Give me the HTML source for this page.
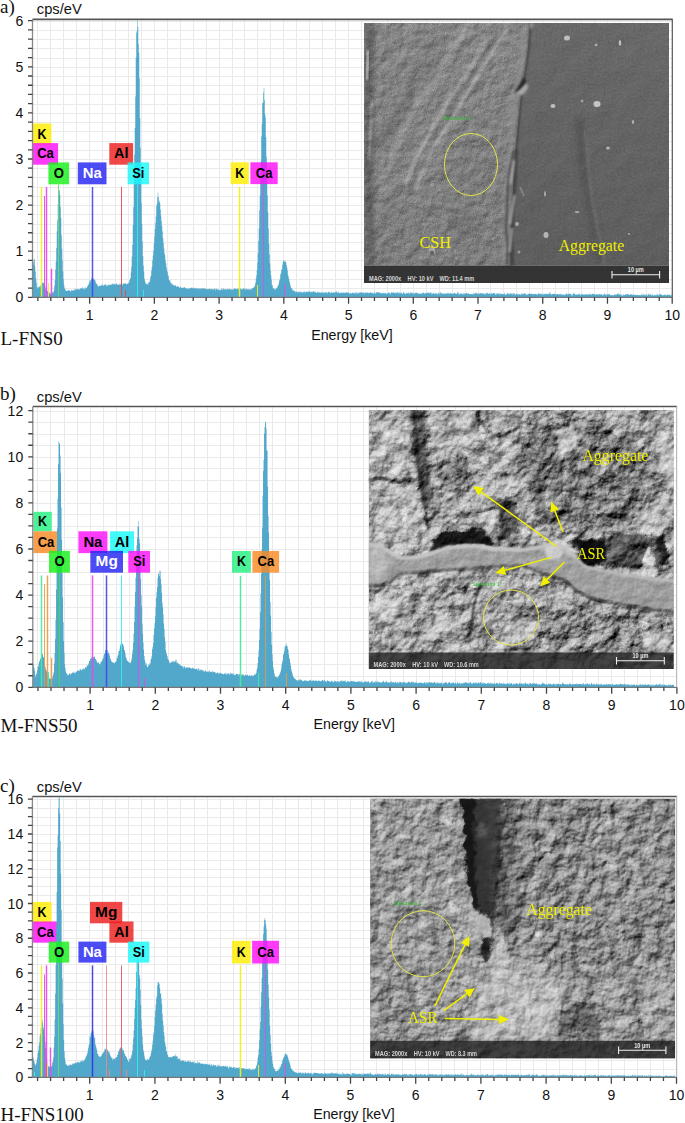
<!DOCTYPE html>
<html><head><meta charset="utf-8"><style>
html,body{margin:0;padding:0;background:#fff;}
svg{display:block;}
.t{font-family:"Liberation Sans",sans-serif;font-size:14px;fill:#111;}
.s{font-family:"Liberation Serif",serif;font-size:19px;fill:#111;}
</style></head><body>
<svg width="685" height="1123" viewBox="0 0 685 1123">
<rect width="685" height="1123" fill="#fff"/>
<path d="M37.5 19.4V297.3M50.5 19.4V297.3M63.5 19.4V297.3M76.5 19.4V297.3M89.5 19.4V297.3M102.5 19.4V297.3M115.5 19.4V297.3M128.5 19.4V297.3M141.5 19.4V297.3M154.5 19.4V297.3M167.5 19.4V297.3M180.5 19.4V297.3M193.5 19.4V297.3M206.5 19.4V297.3M219.5 19.4V297.3M232.5 19.4V297.3M244.5 19.4V297.3M257.5 19.4V297.3M270.5 19.4V297.3M283.5 19.4V297.3M296.5 19.4V297.3M309.5 19.4V297.3M322.5 19.4V297.3M335.5 19.4V297.3M348.5 19.4V297.3M361.5 19.4V297.3M374.5 19.4V297.3M387.5 19.4V297.3M400.5 19.4V297.3M413.5 19.4V297.3M426.5 19.4V297.3M439.5 19.4V297.3M452.5 19.4V297.3M465.5 19.4V297.3M478.5 19.4V297.3M490.5 19.4V297.3M503.5 19.4V297.3M516.5 19.4V297.3M529.5 19.4V297.3M542.5 19.4V297.3M555.5 19.4V297.3M568.5 19.4V297.3M581.5 19.4V297.3M594.5 19.4V297.3M607.5 19.4V297.3M620.5 19.4V297.3M633.5 19.4V297.3M646.5 19.4V297.3M659.5 19.4V297.3M32.5 288.5H672.3M32.5 279.5H672.3M32.5 270.5H672.3M32.5 260.5H672.3M32.5 251.5H672.3M32.5 242.5H672.3M32.5 233.5H672.3M32.5 224.5H672.3M32.5 214.5H672.3M32.5 205.5H672.3M32.5 196.5H672.3M32.5 187.5H672.3M32.5 177.5H672.3M32.5 168.5H672.3M32.5 159.5H672.3M32.5 150.5H672.3M32.5 141.5H672.3M32.5 131.5H672.3M32.5 122.5H672.3M32.5 113.5H672.3M32.5 104.5H672.3M32.5 94.5H672.3M32.5 85.5H672.3M32.5 76.5H672.3M32.5 67.5H672.3M32.5 58.5H672.3M32.5 48.5H672.3M32.5 39.5H672.3M32.5 30.5H672.3M32.5 21.5H672.3" stroke="#eaeaea" stroke-width="1" fill="none"/>
<rect x="32.8" y="123.5" width="18.6" height="21.5" fill="#ffed02" opacity="0.82"/><text x="42.1" y="138.7" text-anchor="middle" font-family="Liberation Sans, sans-serif" font-weight="bold" font-size="13.8" fill="#000" textLength="9.0" lengthAdjust="spacingAndGlyphs">K</text>
<rect x="32.8" y="143.1" width="25.3" height="21.6" fill="#ff10f9" opacity="0.82"/><text x="45.5" y="158.3" text-anchor="middle" font-family="Liberation Sans, sans-serif" font-weight="bold" font-size="13.8" fill="#000" textLength="16.6" lengthAdjust="spacingAndGlyphs">Ca</text>
<rect x="109.3" y="143.1" width="23.8" height="21.6" fill="#ed1f1f" opacity="0.82"/><text x="121.2" y="158.3" text-anchor="middle" font-family="Liberation Sans, sans-serif" font-weight="bold" font-size="13.8" fill="#000" textLength="14.4" lengthAdjust="spacingAndGlyphs">Al</text>
<polygon points="32.5,297.3 32.75,264.9 33.25,264.9 33.25,262.2 33.75,262.2 33.75,258.9 34.25,258.9 34.25,259.6 34.75,259.6 34.75,266.3 35.25,266.3 35.25,271.8 35.75,271.8 35.75,278.2 36.25,278.2 36.25,282.5 36.75,282.5 36.75,286.8 37.25,286.8 37.25,288.7 37.75,288.7 37.75,288.0 38.25,288.0 38.25,286.9 38.75,286.9 38.75,286.8 39.25,286.8 39.25,286.3 39.75,286.3 39.75,287.6 40.25,287.6 40.25,285.6 40.75,285.6 40.75,285.3 41.25,285.3 41.25,284.3 41.75,284.3 41.75,283.6 42.25,283.6 42.25,282.8 42.75,282.8 42.75,282.3 43.25,282.3 43.25,282.9 43.75,282.9 43.75,283.0 44.25,283.0 44.25,284.2 44.75,284.2 44.75,285.5 45.25,285.5 45.25,287.3 45.75,287.3 45.75,289.5 46.25,289.5 46.25,289.2 46.75,289.2 46.75,290.8 47.25,290.8 47.25,290.8 47.75,290.8 47.75,291.7 48.25,291.7 48.25,292.7 48.75,292.7 48.75,292.6 49.25,292.6 49.25,293.4 49.75,293.4 49.75,292.4 50.25,292.4 50.25,294.0 50.75,294.0 50.75,293.3 51.25,293.3 51.25,294.2 51.75,294.2 51.75,293.8 52.25,293.8 52.25,292.1 52.75,292.1 52.75,292.6 53.25,292.6 53.25,291.9 53.75,291.9 53.75,290.2 54.25,290.2 54.25,285.7 54.75,285.7 54.75,280.1 55.25,280.1 55.25,269.5 55.75,269.5 55.75,261.6 56.25,261.6 56.25,248.0 56.75,248.0 56.75,231.3 57.25,231.3 57.25,220.2 57.75,220.2 57.75,204.2 58.25,204.2 58.25,191.6 58.75,191.6 58.75,189.9 59.25,189.9 59.25,190.3 59.75,190.3 59.75,194.9 60.25,194.9 60.25,206.7 60.75,206.7 60.75,218.1 61.25,218.1 61.25,235.2 61.75,235.2 61.75,248.7 62.25,248.7 62.25,260.1 62.75,260.1 62.75,271.2 63.25,271.2 63.25,279.0 63.75,279.0 63.75,284.3 64.25,284.3 64.25,287.4 64.75,287.4 64.75,288.9 65.25,288.9 65.25,289.7 65.75,289.7 65.75,291.2 66.25,291.2 66.25,291.0 66.75,291.0 66.75,290.5 67.25,290.5 67.25,290.5 67.75,290.5 67.75,291.1 68.25,291.1 68.25,289.9 68.75,289.9 68.75,290.3 69.25,290.3 69.25,290.1 69.75,290.1 69.75,291.1 70.25,291.1 70.25,291.1 70.75,291.1 70.75,291.7 71.25,291.7 71.25,289.7 71.75,289.7 71.75,290.0 72.25,290.0 72.25,291.1 72.75,291.1 72.75,290.1 73.25,290.1 73.25,289.9 73.75,289.9 73.75,291.0 74.25,291.0 74.25,289.7 74.75,289.7 74.75,289.2 75.25,289.2 75.25,288.8 75.75,288.8 75.75,289.8 76.25,289.8 76.25,289.6 76.75,289.6 76.75,288.8 77.25,288.8 77.25,288.9 77.75,288.9 77.75,289.6 78.25,289.6 78.25,289.6 78.75,289.6 78.75,288.7 79.25,288.7 79.25,289.6 79.75,289.6 79.75,289.3 80.25,289.3 80.25,288.0 80.75,288.0 80.75,288.5 81.25,288.5 81.25,289.1 81.75,289.1 81.75,288.1 82.25,288.1 82.25,287.1 82.75,287.1 82.75,288.3 83.25,288.3 83.25,288.7 83.75,288.7 83.75,289.3 84.25,289.3 84.25,287.4 84.75,287.4 84.75,289.4 85.25,289.4 85.25,287.2 85.75,287.2 85.75,288.2 86.25,288.2 86.25,288.0 86.75,288.0 86.75,287.3 87.25,287.3 87.25,286.2 87.75,286.2 87.75,284.9 88.25,284.9 88.25,285.0 88.75,285.0 88.75,282.8 89.25,282.8 89.25,280.9 89.75,280.9 89.75,282.7 90.25,282.7 90.25,280.1 90.75,280.1 90.75,280.2 91.25,280.2 91.25,277.6 91.75,277.6 91.75,279.2 92.25,279.2 92.25,278.9 92.75,278.9 92.75,279.1 93.25,279.1 93.25,278.5 93.75,278.5 93.75,278.9 94.25,278.9 94.25,279.7 94.75,279.7 94.75,279.9 95.25,279.9 95.25,281.6 95.75,281.6 95.75,282.8 96.25,282.8 96.25,283.7 96.75,283.7 96.75,284.1 97.25,284.1 97.25,285.2 97.75,285.2 97.75,286.2 98.25,286.2 98.25,286.5 98.75,286.5 98.75,285.7 99.25,285.7 99.25,286.0 99.75,286.0 99.75,285.5 100.25,285.5 100.25,285.8 100.75,285.8 100.75,286.1 101.25,286.1 101.25,284.7 101.75,284.7 101.75,285.2 102.25,285.2 102.25,284.4 102.75,284.4 102.75,285.6 103.25,285.6 103.25,286.0 103.75,286.0 103.75,284.8 104.25,284.8 104.25,285.1 104.75,285.1 104.75,284.5 105.25,284.5 105.25,284.2 105.75,284.2 105.75,284.7 106.25,284.7 106.25,285.8 106.75,285.8 106.75,286.5 107.25,286.5 107.25,285.2 107.75,285.2 107.75,284.4 108.25,284.4 108.25,285.2 108.75,285.2 108.75,284.5 109.25,284.5 109.25,285.3 109.75,285.3 109.75,284.9 110.25,284.9 110.25,284.8 110.75,284.8 110.75,284.7 111.25,284.7 111.25,284.2 111.75,284.2 111.75,284.8 112.25,284.8 112.25,283.5 112.75,283.5 112.75,284.1 113.25,284.1 113.25,283.8 113.75,283.8 113.75,284.8 114.25,284.8 114.25,283.6 114.75,283.6 114.75,284.4 115.25,284.4 115.25,284.5 115.75,284.5 115.75,283.1 116.25,283.1 116.25,284.1 116.75,284.1 116.75,283.8 117.25,283.8 117.25,284.7 117.75,284.7 117.75,285.0 118.25,285.0 118.25,284.8 118.75,284.8 118.75,283.8 119.25,283.8 119.25,284.9 119.75,284.9 119.75,282.9 120.25,282.9 120.25,284.5 120.75,284.5 120.75,284.0 121.25,284.0 121.25,282.3 121.75,282.3 121.75,285.5 122.25,285.5 122.25,284.8 122.75,284.8 122.75,283.2 123.25,283.2 123.25,283.8 123.75,283.8 123.75,283.8 124.25,283.8 124.25,283.7 124.75,283.7 124.75,282.9 125.25,282.9 125.25,283.3 125.75,283.3 125.75,284.2 126.25,284.2 126.25,283.9 126.75,283.9 126.75,284.3 127.25,284.3 127.25,283.3 127.75,283.3 127.75,284.1 128.25,284.1 128.25,282.8 128.75,282.8 128.75,282.8 129.25,282.8 129.25,280.3 129.75,280.3 129.75,279.3 130.25,279.3 130.25,278.1 130.75,278.1 130.75,272.6 131.25,272.6 131.25,267.1 131.75,267.1 131.75,256.5 132.25,256.5 132.25,245.0 132.75,245.0 132.75,225.0 133.25,225.0 133.25,206.9 133.75,206.9 133.75,181.0 134.25,181.0 134.25,154.4 134.75,154.4 134.75,127.9 135.25,127.9 135.25,96.6 135.75,96.6 135.75,57.5 136.25,57.5 136.25,32.8 136.75,32.8 136.75,31.1 137.25,31.1 137.25,20.4 137.75,20.4 137.75,27.1 138.25,27.1 138.25,44.0 138.75,44.0 138.75,52.8 139.25,52.8 139.25,78.6 139.75,78.6 139.75,118.0 140.25,118.0 140.25,147.8 140.75,147.8 140.75,176.2 141.25,176.2 141.25,203.1 141.75,203.1 141.75,223.7 142.25,223.7 142.25,241.6 142.75,241.6 142.75,255.9 143.25,255.9 143.25,265.4 143.75,265.4 143.75,271.5 144.25,271.5 144.25,278.7 144.75,278.7 144.75,280.7 145.25,280.7 145.25,283.3 145.75,283.3 145.75,283.4 146.25,283.4 146.25,284.4 146.75,284.4 146.75,283.5 147.25,283.5 147.25,283.9 147.75,283.9 147.75,285.0 148.25,285.0 148.25,282.0 148.75,282.0 148.75,282.8 149.25,282.8 149.25,281.9 149.75,281.9 149.75,280.2 150.25,280.2 150.25,276.9 150.75,276.9 150.75,275.5 151.25,275.5 151.25,270.6 151.75,270.6 151.75,267.1 152.25,267.1 152.25,260.6 152.75,260.6 152.75,255.7 153.25,255.7 153.25,250.6 153.75,250.6 153.75,243.3 154.25,243.3 154.25,236.5 154.75,236.5 154.75,228.9 155.25,228.9 155.25,222.9 155.75,222.9 155.75,216.4 156.25,216.4 156.25,206.2 156.75,206.2 156.75,203.7 157.25,203.7 157.25,197.0 157.75,197.0 157.75,192.4 158.25,192.4 158.25,197.5 158.75,197.5 158.75,202.0 159.25,202.0 159.25,200.6 159.75,200.6 159.75,203.2 160.25,203.2 160.25,209.4 160.75,209.4 160.75,215.4 161.25,215.4 161.25,221.0 161.75,221.0 161.75,226.2 162.25,226.2 162.25,231.6 162.75,231.6 162.75,238.1 163.25,238.1 163.25,242.8 163.75,242.8 163.75,248.2 164.25,248.2 164.25,253.1 164.75,253.1 164.75,255.3 165.25,255.3 165.25,260.3 165.75,260.3 165.75,263.3 166.25,263.3 166.25,267.3 166.75,267.3 166.75,270.0 167.25,270.0 167.25,271.9 167.75,271.9 167.75,275.3 168.25,275.3 168.25,275.7 168.75,275.7 168.75,279.8 169.25,279.8 169.25,280.7 169.75,280.7 169.75,279.9 170.25,279.9 170.25,282.8 170.75,282.8 170.75,282.8 171.25,282.8 171.25,282.9 171.75,282.9 171.75,285.2 172.25,285.2 172.25,284.0 172.75,284.0 172.75,284.2 173.25,284.2 173.25,285.5 173.75,285.5 173.75,285.1 174.25,285.1 174.25,286.0 174.75,286.0 174.75,285.8 175.25,285.8 175.25,285.1 175.75,285.1 175.75,285.6 176.25,285.6 176.25,286.9 176.75,286.9 176.75,286.4 177.25,286.4 177.25,286.2 177.75,286.2 177.75,286.1 178.25,286.1 178.25,286.9 178.75,286.9 178.75,286.7 179.25,286.7 179.25,288.3 179.75,288.3 179.75,287.3 180.25,287.3 180.25,286.7 180.75,286.7 180.75,287.2 181.25,287.2 181.25,287.9 181.75,287.9 181.75,287.9 182.25,287.9 182.25,287.6 182.75,287.6 182.75,287.7 183.25,287.7 183.25,287.9 183.75,287.9 183.75,286.9 184.25,286.9 184.25,287.1 184.75,287.1 184.75,288.3 185.25,288.3 185.25,288.0 185.75,288.0 185.75,288.3 186.25,288.3 186.25,288.8 186.75,288.8 186.75,288.4 187.25,288.4 187.25,287.9 187.75,287.9 187.75,289.3 188.25,289.3 188.25,288.7 188.75,288.7 188.75,287.9 189.25,287.9 189.25,288.6 189.75,288.6 189.75,288.4 190.25,288.4 190.25,287.8 190.75,287.8 190.75,288.0 191.25,288.0 191.25,288.1 191.75,288.1 191.75,287.0 192.25,287.0 192.25,288.4 192.75,288.4 192.75,288.1 193.25,288.1 193.25,288.2 193.75,288.2 193.75,287.7 194.25,287.7 194.25,288.2 194.75,288.2 194.75,288.3 195.25,288.3 195.25,288.5 195.75,288.5 195.75,287.8 196.25,287.8 196.25,288.7 196.75,288.7 196.75,287.9 197.25,287.9 197.25,288.8 197.75,288.8 197.75,289.3 198.25,289.3 198.25,288.2 198.75,288.2 198.75,288.1 199.25,288.1 199.25,289.3 199.75,289.3 199.75,288.2 200.25,288.2 200.25,288.3 200.75,288.3 200.75,289.0 201.25,289.0 201.25,289.1 201.75,289.1 201.75,287.7 202.25,287.7 202.25,288.5 202.75,288.5 202.75,288.3 203.25,288.3 203.25,288.3 203.75,288.3 203.75,288.7 204.25,288.7 204.25,288.3 204.75,288.3 204.75,288.9 205.25,288.9 205.25,288.2 205.75,288.2 205.75,289.0 206.25,289.0 206.25,289.4 206.75,289.4 206.75,288.7 207.25,288.7 207.25,288.9 207.75,288.9 207.75,289.8 208.25,289.8 208.25,289.1 208.75,289.1 208.75,288.7 209.25,288.7 209.25,289.0 209.75,289.0 209.75,288.6 210.25,288.6 210.25,289.3 210.75,289.3 210.75,289.6 211.25,289.6 211.25,288.7 211.75,288.7 211.75,289.1 212.25,289.1 212.25,289.8 212.75,289.8 212.75,289.0 213.25,289.0 213.25,289.6 213.75,289.6 213.75,288.8 214.25,288.8 214.25,288.8 214.75,288.8 214.75,288.7 215.25,288.7 215.25,290.6 215.75,290.6 215.75,288.8 216.25,288.8 216.25,288.8 216.75,288.8 216.75,289.2 217.25,289.2 217.25,289.4 217.75,289.4 217.75,289.8 218.25,289.8 218.25,289.3 218.75,289.3 218.75,290.5 219.25,290.5 219.25,289.5 219.75,289.5 219.75,290.3 220.25,290.3 220.25,289.9 220.75,289.9 220.75,289.8 221.25,289.8 221.25,288.5 221.75,288.5 221.75,289.2 222.25,289.2 222.25,289.4 222.75,289.4 222.75,289.2 223.25,289.2 223.25,288.0 223.75,288.0 223.75,289.9 224.25,289.9 224.25,289.0 224.75,289.0 224.75,289.3 225.25,289.3 225.25,289.4 225.75,289.4 225.75,289.4 226.25,289.4 226.25,289.5 226.75,289.5 226.75,288.7 227.25,288.7 227.25,288.8 227.75,288.8 227.75,289.4 228.25,289.4 228.25,289.4 228.75,289.4 228.75,288.9 229.25,288.9 229.25,288.8 229.75,288.8 229.75,289.0 230.25,289.0 230.25,289.2 230.75,289.2 230.75,290.0 231.25,290.0 231.25,288.9 231.75,288.9 231.75,289.8 232.25,289.8 232.25,289.6 232.75,289.6 232.75,289.0 233.25,289.0 233.25,289.8 233.75,289.8 233.75,288.4 234.25,288.4 234.25,288.5 234.75,288.5 234.75,288.6 235.25,288.6 235.25,288.8 235.75,288.8 235.75,288.9 236.25,288.9 236.25,289.1 236.75,289.1 236.75,289.3 237.25,289.3 237.25,287.7 237.75,287.7 237.75,289.7 238.25,289.7 238.25,288.5 238.75,288.5 238.75,289.0 239.25,289.0 239.25,288.9 239.75,288.9 239.75,288.5 240.25,288.5 240.25,288.2 240.75,288.2 240.75,289.0 241.25,289.0 241.25,289.1 241.75,289.1 241.75,289.7 242.25,289.7 242.25,289.3 242.75,289.3 242.75,288.6 243.25,288.6 243.25,288.4 243.75,288.4 243.75,288.5 244.25,288.5 244.25,289.5 244.75,289.5 244.75,287.8 245.25,287.8 245.25,289.9 245.75,289.9 245.75,288.9 246.25,288.9 246.25,288.5 246.75,288.5 246.75,289.2 247.25,289.2 247.25,289.6 247.75,289.6 247.75,289.2 248.25,289.2 248.25,289.5 248.75,289.5 248.75,289.0 249.25,289.0 249.25,289.7 249.75,289.7 249.75,289.5 250.25,289.5 250.25,288.7 250.75,288.7 250.75,289.7 251.25,289.7 251.25,289.2 251.75,289.2 251.75,288.6 252.25,288.6 252.25,288.1 252.75,288.1 252.75,288.0 253.25,288.0 253.25,288.1 253.75,288.1 253.75,286.7 254.25,286.7 254.25,286.5 254.75,286.5 254.75,285.4 255.25,285.4 255.25,282.7 255.75,282.7 255.75,278.7 256.25,278.7 256.25,275.4 256.75,275.4 256.75,269.9 257.25,269.9 257.25,262.6 257.75,262.6 257.75,253.1 258.25,253.1 258.25,241.1 258.75,241.1 258.75,228.4 259.25,228.4 259.25,210.2 259.75,210.2 259.75,195.2 260.25,195.2 260.25,175.5 260.75,175.5 260.75,160.7 261.25,160.7 261.25,136.6 261.75,136.6 261.75,123.7 262.25,123.7 262.25,103.1 262.75,103.1 262.75,102.8 263.25,102.8 263.25,92.5 263.75,92.5 263.75,87.9 264.25,87.9 264.25,100.0 264.75,100.0 264.75,114.1 265.25,114.1 265.25,117.6 265.75,117.6 265.75,137.0 266.25,137.0 266.25,156.8 266.75,156.8 266.75,173.7 267.25,173.7 267.25,195.2 267.75,195.2 267.75,212.2 268.25,212.2 268.25,228.4 268.75,228.4 268.75,243.7 269.25,243.7 269.25,254.2 269.75,254.2 269.75,263.4 270.25,263.4 270.25,270.3 270.75,270.3 270.75,275.3 271.25,275.3 271.25,279.3 271.75,279.3 271.75,284.7 272.25,284.7 272.25,285.3 272.75,285.3 272.75,288.4 273.25,288.4 273.25,288.1 273.75,288.1 273.75,288.3 274.25,288.3 274.25,289.3 274.75,289.3 274.75,290.3 275.25,290.3 275.25,289.0 275.75,289.0 275.75,287.8 276.25,287.8 276.25,288.4 276.75,288.4 276.75,288.2 277.25,288.2 277.25,286.8 277.75,286.8 277.75,285.6 278.25,285.6 278.25,284.8 278.75,284.8 278.75,282.4 279.25,282.4 279.25,280.0 279.75,280.0 279.75,278.8 280.25,278.8 280.25,274.2 280.75,274.2 280.75,273.5 281.25,273.5 281.25,269.8 281.75,269.8 281.75,268.9 282.25,268.9 282.25,264.8 282.75,264.8 282.75,262.0 283.25,262.0 283.25,260.6 283.75,260.6 283.75,260.2 284.25,260.2 284.25,261.5 284.75,261.5 284.75,261.8 285.25,261.8 285.25,261.2 285.75,261.2 285.75,262.4 286.25,262.4 286.25,265.1 286.75,265.1 286.75,267.6 287.25,267.6 287.25,270.1 287.75,270.1 287.75,274.7 288.25,274.7 288.25,276.5 288.75,276.5 288.75,279.1 289.25,279.1 289.25,281.2 289.75,281.2 289.75,283.3 290.25,283.3 290.25,285.5 290.75,285.5 290.75,287.4 291.25,287.4 291.25,288.6 291.75,288.6 291.75,287.9 292.25,287.9 292.25,290.4 292.75,290.4 292.75,289.7 293.25,289.7 293.25,290.2 293.75,290.2 293.75,291.5 294.25,291.5 294.25,291.1 294.75,291.1 294.75,290.7 295.25,290.7 295.25,292.6 295.75,292.6 295.75,291.2 296.25,291.2 296.25,291.8 296.75,291.8 296.75,291.8 297.25,291.8 297.25,292.4 297.75,292.4 297.75,291.5 298.25,291.5 298.25,292.3 298.75,292.3 298.75,291.4 299.25,291.4 299.25,292.4 299.75,292.4 299.75,291.3 300.25,291.3 300.25,291.6 300.75,291.6 300.75,292.7 301.25,292.7 301.25,292.0 301.75,292.0 301.75,291.9 302.25,291.9 302.25,292.9 302.75,292.9 302.75,292.1 303.25,292.1 303.25,291.5 303.75,291.5 303.75,292.3 304.25,292.3 304.25,291.2 304.75,291.2 304.75,292.5 305.25,292.5 305.25,292.5 305.75,292.5 305.75,291.6 306.25,291.6 306.25,291.5 306.75,291.5 306.75,292.1 307.25,292.1 307.25,291.8 307.75,291.8 307.75,291.5 308.25,291.5 308.25,292.3 308.75,292.3 308.75,290.8 309.25,290.8 309.25,291.7 309.75,291.7 309.75,291.8 310.25,291.8 310.25,291.7 310.75,291.7 310.75,292.2 311.25,292.2 311.25,291.4 311.75,291.4 311.75,292.4 312.25,292.4 312.25,292.0 312.75,292.0 312.75,291.6 313.25,291.6 313.25,291.3 313.75,291.3 313.75,291.5 314.25,291.5 314.25,292.3 314.75,292.3 314.75,291.6 315.25,291.6 315.25,292.0 315.75,292.0 315.75,292.8 316.25,292.8 316.25,292.8 316.75,292.8 316.75,293.1 317.25,293.1 317.25,292.0 317.75,292.0 317.75,291.4 318.25,291.4 318.25,292.8 318.75,292.8 318.75,292.3 319.25,292.3 319.25,292.5 319.75,292.5 319.75,292.2 320.25,292.2 320.25,292.7 320.75,292.7 320.75,292.5 321.25,292.5 321.25,292.5 321.75,292.5 321.75,292.6 322.25,292.6 322.25,292.4 322.75,292.4 322.75,292.4 323.25,292.4 323.25,292.5 323.75,292.5 323.75,293.0 324.25,293.0 324.25,292.0 324.75,292.0 324.75,293.2 325.25,293.2 325.25,292.1 325.75,292.1 325.75,292.8 326.25,292.8 326.25,292.3 326.75,292.3 326.75,292.2 327.25,292.2 327.25,293.4 327.75,293.4 327.75,292.3 328.25,292.3 328.25,291.6 328.75,291.6 328.75,291.9 329.25,291.9 329.25,292.2 329.75,292.2 329.75,293.6 330.25,293.6 330.25,292.6 330.75,292.6 330.75,292.9 331.25,292.9 331.25,291.8 331.75,291.8 331.75,292.6 332.25,292.6 332.25,292.7 332.75,292.7 332.75,293.2 333.25,293.2 333.25,292.1 333.75,292.1 333.75,292.8 334.25,292.8 334.25,292.6 334.75,292.6 334.75,291.7 335.25,291.7 335.25,292.4 335.75,292.4 335.75,292.3 336.25,292.3 336.25,291.1 336.75,291.1 336.75,292.6 337.25,292.6 337.25,292.8 337.75,292.8 337.75,292.3 338.25,292.3 338.25,291.8 338.75,291.8 338.75,293.3 339.25,293.3 339.25,292.7 339.75,292.7 339.75,293.2 340.25,293.2 340.25,293.1 340.75,293.1 340.75,292.3 341.25,292.3 341.25,293.1 341.75,293.1 341.75,292.5 342.25,292.5 342.25,292.7 342.75,292.7 342.75,292.7 343.25,292.7 343.25,292.6 343.75,292.6 343.75,293.2 344.25,293.2 344.25,292.8 344.75,292.8 344.75,292.5 345.25,292.5 345.25,292.5 345.75,292.5 345.75,292.9 346.25,292.9 346.25,292.3 346.75,292.3 346.75,292.4 347.25,292.4 347.25,292.6 347.75,292.6 347.75,292.4 348.25,292.4 348.25,292.7 348.75,292.7 348.75,292.4 349.25,292.4 349.25,293.9 349.75,293.9 349.75,293.3 350.25,293.3 350.25,292.9 350.75,292.9 350.75,292.7 351.25,292.7 351.25,294.0 351.75,294.0 351.75,293.0 352.25,293.0 352.25,292.5 352.75,292.5 352.75,292.8 353.25,292.8 353.25,292.9 353.75,292.9 353.75,293.4 354.25,293.4 354.25,292.6 354.75,292.6 354.75,294.0 355.25,294.0 355.25,292.3 355.75,292.3 355.75,293.2 356.25,293.2 356.25,292.2 356.75,292.2 356.75,293.8 357.25,293.8 357.25,292.6 357.75,292.6 357.75,292.8 358.25,292.8 358.25,293.2 358.75,293.2 358.75,293.4 359.25,293.4 359.25,292.2 359.75,292.2 359.75,292.5 360.25,292.5 360.25,292.1 360.75,292.1 360.75,292.9 361.25,292.9 361.25,292.6 361.75,292.6 361.75,292.6 362.25,292.6 362.25,292.4 362.75,292.4 362.75,292.7 363.25,292.7 363.25,292.3 363.75,292.3 363.75,293.1 364.25,293.1 364.25,293.7 364.75,293.7 364.75,291.9 365.25,291.9 365.25,292.9 365.75,292.9 365.75,292.6 366.25,292.6 366.25,293.1 366.75,293.1 366.75,292.4 367.25,292.4 367.25,292.7 367.75,292.7 367.75,292.2 368.25,292.2 368.25,293.2 368.75,293.2 368.75,292.9 369.25,292.9 369.25,292.7 369.75,292.7 369.75,292.9 370.25,292.9 370.25,292.6 370.75,292.6 370.75,292.1 371.25,292.1 371.25,293.1 371.75,293.1 371.75,293.0 372.25,293.0 372.25,292.8 372.75,292.8 372.75,293.5 373.25,293.5 373.25,293.5 373.75,293.5 373.75,292.3 374.25,292.3 374.25,292.4 374.75,292.4 374.75,293.7 375.25,293.7 375.25,293.6 375.75,293.6 375.75,292.6 376.25,292.6 376.25,292.2 376.75,292.2 376.75,292.5 377.25,292.5 377.25,292.6 377.75,292.6 377.75,292.0 378.25,292.0 378.25,293.0 378.75,293.0 378.75,292.1 379.25,292.1 379.25,292.2 379.75,292.2 379.75,293.4 380.25,293.4 380.25,292.8 380.75,292.8 380.75,293.0 381.25,293.0 381.25,293.3 381.75,293.3 381.75,293.4 382.25,293.4 382.25,292.9 382.75,292.9 382.75,292.9 383.25,292.9 383.25,292.5 383.75,292.5 383.75,294.0 384.25,294.0 384.25,293.3 384.75,293.3 384.75,292.4 385.25,292.4 385.25,292.9 385.75,292.9 385.75,293.5 386.25,293.5 386.25,293.4 386.75,293.4 386.75,294.0 387.25,294.0 387.25,293.8 387.75,293.8 387.75,292.5 388.25,292.5 388.25,293.0 388.75,293.0 388.75,292.3 389.25,292.3 389.25,293.2 389.75,293.2 389.75,293.1 390.25,293.1 390.25,294.4 390.75,294.4 390.75,292.9 391.25,292.9 391.25,291.9 391.75,291.9 391.75,292.6 392.25,292.6 392.25,293.0 392.75,293.0 392.75,292.3 393.25,292.3 393.25,292.5 393.75,292.5 393.75,292.6 394.25,292.6 394.25,293.3 394.75,293.3 394.75,293.0 395.25,293.0 395.25,292.6 395.75,292.6 395.75,293.6 396.25,293.6 396.25,292.7 396.75,292.7 396.75,292.6 397.25,292.6 397.25,292.2 397.75,292.2 397.75,292.5 398.25,292.5 398.25,293.4 398.75,293.4 398.75,292.2 399.25,292.2 399.25,292.8 399.75,292.8 399.75,293.5 400.25,293.5 400.25,292.7 400.75,292.7 400.75,293.2 401.25,293.2 401.25,292.4 401.75,292.4 401.75,293.8 402.25,293.8 402.25,293.7 402.75,293.7 402.75,293.2 403.25,293.2 403.25,292.1 403.75,292.1 403.75,292.4 404.25,292.4 404.25,293.6 404.75,293.6 404.75,294.2 405.25,294.2 405.25,293.4 405.75,293.4 405.75,293.9 406.25,293.9 406.25,292.8 406.75,292.8 406.75,292.9 407.25,292.9 407.25,293.2 407.75,293.2 407.75,293.3 408.25,293.3 408.25,292.3 408.75,292.3 408.75,293.6 409.25,293.6 409.25,293.9 409.75,293.9 409.75,292.5 410.25,292.5 410.25,292.4 410.75,292.4 410.75,293.2 411.25,293.2 411.25,292.7 411.75,292.7 411.75,292.0 412.25,292.0 412.25,293.6 412.75,293.6 412.75,293.2 413.25,293.2 413.25,292.9 413.75,292.9 413.75,294.4 414.25,294.4 414.25,293.1 414.75,293.1 414.75,292.7 415.25,292.7 415.25,293.3 415.75,293.3 415.75,292.6 416.25,292.6 416.25,292.8 416.75,292.8 416.75,293.5 417.25,293.5 417.25,292.8 417.75,292.8 417.75,292.9 418.25,292.9 418.25,294.1 418.75,294.1 418.75,293.8 419.25,293.8 419.25,293.5 419.75,293.5 419.75,293.4 420.25,293.4 420.25,293.4 420.75,293.4 420.75,294.1 421.25,294.1 421.25,293.2 421.75,293.2 421.75,294.3 422.25,294.3 422.25,292.6 422.75,292.6 422.75,293.1 423.25,293.1 423.25,292.4 423.75,292.4 423.75,293.0 424.25,293.0 424.25,293.6 424.75,293.6 424.75,294.0 425.25,294.0 425.25,292.7 425.75,292.7 425.75,293.2 426.25,293.2 426.25,292.9 426.75,292.9 426.75,292.8 427.25,292.8 427.25,292.6 427.75,292.6 427.75,293.3 428.25,293.3 428.25,292.4 428.75,292.4 428.75,293.3 429.25,293.3 429.25,293.2 429.75,293.2 429.75,292.8 430.25,292.8 430.25,292.6 430.75,292.6 430.75,292.4 431.25,292.4 431.25,294.3 431.75,294.3 431.75,292.5 432.25,292.5 432.25,294.0 432.75,294.0 432.75,293.7 433.25,293.7 433.25,293.1 433.75,293.1 433.75,292.7 434.25,292.7 434.25,293.9 434.75,293.9 434.75,294.3 435.25,294.3 435.25,292.8 435.75,292.8 435.75,293.2 436.25,293.2 436.25,293.9 436.75,293.9 436.75,293.5 437.25,293.5 437.25,294.5 437.75,294.5 437.75,292.9 438.25,292.9 438.25,293.6 438.75,293.6 438.75,292.6 439.25,292.6 439.25,294.5 439.75,294.5 439.75,292.8 440.25,292.8 440.25,292.3 440.75,292.3 440.75,293.3 441.25,293.3 441.25,293.2 441.75,293.2 441.75,294.3 442.25,294.3 442.25,293.2 442.75,293.2 442.75,293.3 443.25,293.3 443.25,293.6 443.75,293.6 443.75,294.2 444.25,294.2 444.25,293.3 444.75,293.3 444.75,294.0 445.25,294.0 445.25,293.6 445.75,293.6 445.75,293.2 446.25,293.2 446.25,293.5 446.75,293.5 446.75,293.6 447.25,293.6 447.25,292.8 447.75,292.8 447.75,294.0 448.25,294.0 448.25,292.6 448.75,292.6 448.75,294.1 449.25,294.1 449.25,293.8 449.75,293.8 449.75,293.3 450.25,293.3 450.25,293.0 450.75,293.0 450.75,293.2 451.25,293.2 451.25,293.6 451.75,293.6 451.75,293.8 452.25,293.8 452.25,293.4 452.75,293.4 452.75,293.9 453.25,293.9 453.25,293.1 453.75,293.1 453.75,293.6 454.25,293.6 454.25,292.6 454.75,292.6 454.75,293.7 455.25,293.7 455.25,293.5 455.75,293.5 455.75,293.3 456.25,293.3 456.25,294.1 456.75,294.1 456.75,293.8 457.25,293.8 457.25,291.8 457.75,291.8 457.75,293.5 458.25,293.5 458.25,292.6 458.75,292.6 458.75,294.0 459.25,294.0 459.25,294.8 459.75,294.8 459.75,293.3 460.25,293.3 460.25,293.5 460.75,293.5 460.75,293.4 461.25,293.4 461.25,293.7 461.75,293.7 461.75,293.9 462.25,293.9 462.25,294.2 462.75,294.2 462.75,293.0 463.25,293.0 463.25,294.6 463.75,294.6 463.75,293.1 464.25,293.1 464.25,293.6 464.75,293.6 464.75,294.2 465.25,294.2 465.25,293.9 465.75,293.9 465.75,293.1 466.25,293.1 466.25,293.1 466.75,293.1 466.75,293.1 467.25,293.1 467.25,293.5 467.75,293.5 467.75,294.2 468.25,294.2 468.25,292.8 468.75,292.8 468.75,293.9 469.25,293.9 469.25,293.9 469.75,293.9 469.75,293.9 470.25,293.9 470.25,293.7 470.75,293.7 470.75,294.5 471.25,294.5 471.25,294.0 471.75,294.0 471.75,294.1 472.25,294.1 472.25,293.9 472.75,293.9 472.75,294.6 473.25,294.6 473.25,292.7 473.75,292.7 473.75,294.2 474.25,294.2 474.25,293.4 474.75,293.4 474.75,293.5 475.25,293.5 475.25,293.1 475.75,293.1 475.75,292.5 476.25,292.5 476.25,293.4 476.75,293.4 476.75,293.2 477.25,293.2 477.25,293.9 477.75,293.9 477.75,292.8 478.25,292.8 478.25,294.3 478.75,294.3 478.75,293.8 479.25,293.8 479.25,293.6 479.75,293.6 479.75,293.2 480.25,293.2 480.25,293.2 480.75,293.2 480.75,293.1 481.25,293.1 481.25,293.3 481.75,293.3 481.75,293.7 482.25,293.7 482.25,293.5 482.75,293.5 482.75,293.0 483.25,293.0 483.25,293.7 483.75,293.7 483.75,293.3 484.25,293.3 484.25,293.7 484.75,293.7 484.75,294.7 485.25,294.7 485.25,294.0 485.75,294.0 485.75,293.5 486.25,293.5 486.25,292.9 486.75,292.9 486.75,292.8 487.25,292.8 487.25,292.8 487.75,292.8 487.75,294.1 488.25,294.1 488.25,293.4 488.75,293.4 488.75,293.7 489.25,293.7 489.25,293.3 489.75,293.3 489.75,293.8 490.25,293.8 490.25,294.5 490.75,294.5 490.75,293.3 491.25,293.3 491.25,293.6 491.75,293.6 491.75,293.2 492.25,293.2 492.25,294.0 492.75,294.0 492.75,293.2 493.25,293.2 493.25,293.1 493.75,293.1 493.75,293.0 494.25,293.0 494.25,293.0 494.75,293.0 494.75,294.1 495.25,294.1 495.25,295.1 495.75,295.1 495.75,293.1 496.25,293.1 496.25,294.3 496.75,294.3 496.75,294.0 497.25,294.0 497.25,293.0 497.75,293.0 497.75,293.7 498.25,293.7 498.25,293.6 498.75,293.6 498.75,293.3 499.25,293.3 499.25,294.9 499.75,294.9 499.75,292.7 500.25,292.7 500.25,293.9 500.75,293.9 500.75,293.9 501.25,293.9 501.25,293.5 501.75,293.5 501.75,293.9 502.25,293.9 502.25,294.2 502.75,294.2 502.75,293.9 503.25,293.9 503.25,294.1 503.75,294.1 503.75,294.1 504.25,294.1 504.25,292.7 504.75,292.7 504.75,294.6 505.25,294.6 505.25,295.0 505.75,295.0 505.75,294.3 506.25,294.3 506.25,294.4 506.75,294.4 506.75,293.0 507.25,293.0 507.25,293.7 507.75,293.7 507.75,293.3 508.25,293.3 508.25,293.6 508.75,293.6 508.75,294.4 509.25,294.4 509.25,293.5 509.75,293.5 509.75,293.9 510.25,293.9 510.25,292.8 510.75,292.8 510.75,293.9 511.25,293.9 511.25,293.8 511.75,293.8 511.75,293.5 512.25,293.5 512.25,293.4 512.75,293.4 512.75,295.0 513.25,295.0 513.25,293.3 513.75,293.3 513.75,293.2 514.25,293.2 514.25,293.4 514.75,293.4 514.75,294.6 515.25,294.6 515.25,295.1 515.75,295.1 515.75,294.1 516.25,294.1 516.25,293.5 516.75,293.5 516.75,293.7 517.25,293.7 517.25,294.5 517.75,294.5 517.75,293.4 518.25,293.4 518.25,294.8 518.75,294.8 518.75,294.5 519.25,294.5 519.25,294.0 519.75,294.0 519.75,294.2 520.25,294.2 520.25,294.4 520.75,294.4 520.75,294.8 521.25,294.8 521.25,293.3 521.75,293.3 521.75,294.6 522.25,294.6 522.25,293.7 522.75,293.7 522.75,293.4 523.25,293.4 523.25,293.9 523.75,293.9 523.75,293.8 524.25,293.8 524.25,293.4 524.75,293.4 524.75,293.1 525.25,293.1 525.25,293.4 525.75,293.4 525.75,294.8 526.25,294.8 526.25,295.0 526.75,295.0 526.75,294.3 527.25,294.3 527.25,294.7 527.75,294.7 527.75,293.8 528.25,293.8 528.25,293.9 528.75,293.9 528.75,294.1 529.25,294.1 529.25,293.4 529.75,293.4 529.75,293.4 530.25,293.4 530.25,294.0 530.75,294.0 530.75,293.9 531.25,293.9 531.25,293.4 531.75,293.4 531.75,294.2 532.25,294.2 532.25,293.8 532.75,293.8 532.75,294.6 533.25,294.6 533.25,294.0 533.75,294.0 533.75,293.8 534.25,293.8 534.25,294.2 534.75,294.2 534.75,293.9 535.25,293.9 535.25,293.8 535.75,293.8 535.75,293.9 536.25,293.9 536.25,294.4 536.75,294.4 536.75,294.4 537.25,294.4 537.25,294.8 537.75,294.8 537.75,293.1 538.25,293.1 538.25,293.8 538.75,293.8 538.75,293.8 539.25,293.8 539.25,294.0 539.75,294.0 539.75,293.8 540.25,293.8 540.25,293.6 540.75,293.6 540.75,294.5 541.25,294.5 541.25,294.1 541.75,294.1 541.75,293.4 542.25,293.4 542.25,294.8 542.75,294.8 542.75,294.6 543.25,294.6 543.25,293.7 543.75,293.7 543.75,294.4 544.25,294.4 544.25,293.6 544.75,293.6 544.75,294.6 545.25,294.6 545.25,293.9 545.75,293.9 545.75,293.8 546.25,293.8 546.25,293.8 546.75,293.8 546.75,293.7 547.25,293.7 547.25,294.1 547.75,294.1 547.75,294.2 548.25,294.2 548.25,294.1 548.75,294.1 548.75,293.8 549.25,293.8 549.25,292.1 549.75,292.1 549.75,294.3 550.25,294.3 550.25,293.1 550.75,293.1 550.75,294.3 551.25,294.3 551.25,294.7 551.75,294.7 551.75,294.3 552.25,294.3 552.25,293.9 552.75,293.9 552.75,294.1 553.25,294.1 553.25,294.1 553.75,294.1 553.75,294.0 554.25,294.0 554.25,293.7 554.75,293.7 554.75,293.6 555.25,293.6 555.25,294.9 555.75,294.9 555.75,294.1 556.25,294.1 556.25,294.6 556.75,294.6 556.75,294.0 557.25,294.0 557.25,294.1 557.75,294.1 557.75,294.1 558.25,294.1 558.25,294.6 558.75,294.6 558.75,294.7 559.25,294.7 559.25,294.3 559.75,294.3 559.75,293.8 560.25,293.8 560.25,293.7 560.75,293.7 560.75,295.2 561.25,295.2 561.25,294.0 561.75,294.0 561.75,294.0 562.25,294.0 562.25,295.1 562.75,295.1 562.75,294.9 563.25,294.9 563.25,294.5 563.75,294.5 563.75,293.9 564.25,293.9 564.25,295.4 564.75,295.4 564.75,294.4 565.25,294.4 565.25,294.4 565.75,294.4 565.75,294.2 566.25,294.2 566.25,293.4 566.75,293.4 566.75,293.5 567.25,293.5 567.25,294.6 567.75,294.6 567.75,294.5 568.25,294.5 568.25,294.1 568.75,294.1 568.75,293.7 569.25,293.7 569.25,293.5 569.75,293.5 569.75,294.0 570.25,294.0 570.25,293.4 570.75,293.4 570.75,294.8 571.25,294.8 571.25,294.8 571.75,294.8 571.75,295.9 572.25,295.9 572.25,294.6 572.75,294.6 572.75,293.9 573.25,293.9 573.25,293.8 573.75,293.8 573.75,292.4 574.25,292.4 574.25,294.0 574.75,294.0 574.75,294.2 575.25,294.2 575.25,294.8 575.75,294.8 575.75,294.7 576.25,294.7 576.25,294.5 576.75,294.5 576.75,294.4 577.25,294.4 577.25,294.6 577.75,294.6 577.75,295.1 578.25,295.1 578.25,293.8 578.75,293.8 578.75,294.0 579.25,294.0 579.25,293.5 579.75,293.5 579.75,295.3 580.25,295.3 580.25,295.1 580.75,295.1 580.75,294.7 581.25,294.7 581.25,293.8 581.75,293.8 581.75,294.6 582.25,294.6 582.25,294.1 582.75,294.1 582.75,294.4 583.25,294.4 583.25,294.4 583.75,294.4 583.75,294.7 584.25,294.7 584.25,294.2 584.75,294.2 584.75,294.8 585.25,294.8 585.25,294.5 585.75,294.5 585.75,294.2 586.25,294.2 586.25,294.3 586.75,294.3 586.75,294.2 587.25,294.2 587.25,294.8 587.75,294.8 587.75,294.2 588.25,294.2 588.25,294.5 588.75,294.5 588.75,294.2 589.25,294.2 589.25,293.5 589.75,293.5 589.75,294.9 590.25,294.9 590.25,293.9 590.75,293.9 590.75,294.8 591.25,294.8 591.25,294.7 591.75,294.7 591.75,293.5 592.25,293.5 592.25,293.9 592.75,293.9 592.75,294.1 593.25,294.1 593.25,294.0 593.75,294.0 593.75,293.8 594.25,293.8 594.25,294.8 594.75,294.8 594.75,294.4 595.25,294.4 595.25,294.7 595.75,294.7 595.75,294.2 596.25,294.2 596.25,294.6 596.75,294.6 596.75,294.0 597.25,294.0 597.25,294.5 597.75,294.5 597.75,294.7 598.25,294.7 598.25,294.6 598.75,294.6 598.75,294.2 599.25,294.2 599.25,293.8 599.75,293.8 599.75,294.5 600.25,294.5 600.25,294.6 600.75,294.6 600.75,294.3 601.25,294.3 601.25,294.1 601.75,294.1 601.75,294.8 602.25,294.8 602.25,295.8 602.75,295.8 602.75,294.3 603.25,294.3 603.25,294.8 603.75,294.8 603.75,294.7 604.25,294.7 604.25,293.1 604.75,293.1 604.75,294.6 605.25,294.6 605.25,294.3 605.75,294.3 605.75,295.4 606.25,295.4 606.25,294.4 606.75,294.4 606.75,294.1 607.25,294.1 607.25,294.4 607.75,294.4 607.75,294.6 608.25,294.6 608.25,294.2 608.75,294.2 608.75,294.5 609.25,294.5 609.25,293.8 609.75,293.8 609.75,294.4 610.25,294.4 610.25,295.0 610.75,295.0 610.75,295.8 611.25,295.8 611.25,294.9 611.75,294.9 611.75,294.7 612.25,294.7 612.25,295.2 612.75,295.2 612.75,295.2 613.25,295.2 613.25,295.5 613.75,295.5 613.75,295.1 614.25,295.1 614.25,294.5 614.75,294.5 614.75,294.6 615.25,294.6 615.25,294.6 615.75,294.6 615.75,294.8 616.25,294.8 616.25,294.7 616.75,294.7 616.75,294.1 617.25,294.1 617.25,293.4 617.75,293.4 617.75,294.2 618.25,294.2 618.25,293.5 618.75,293.5 618.75,294.6 619.25,294.6 619.25,294.6 619.75,294.6 619.75,293.6 620.25,293.6 620.25,294.9 620.75,294.9 620.75,295.2 621.25,295.2 621.25,294.6 621.75,294.6 621.75,295.5 622.25,295.5 622.25,295.7 622.75,295.7 622.75,294.0 623.25,294.0 623.25,295.2 623.75,295.2 623.75,294.9 624.25,294.9 624.25,294.9 624.75,294.9 624.75,295.2 625.25,295.2 625.25,294.2 625.75,294.2 625.75,294.3 626.25,294.3 626.25,294.2 626.75,294.2 626.75,294.2 627.25,294.2 627.25,294.6 627.75,294.6 627.75,293.9 628.25,293.9 628.25,294.2 628.75,294.2 628.75,295.0 629.25,295.0 629.25,294.7 629.75,294.7 629.75,295.0 630.25,295.0 630.25,293.7 630.75,293.7 630.75,294.3 631.25,294.3 631.25,294.4 631.75,294.4 631.75,294.7 632.25,294.7 632.25,294.4 632.75,294.4 632.75,295.2 633.25,295.2 633.25,294.7 633.75,294.7 633.75,294.7 634.25,294.7 634.25,294.7 634.75,294.7 634.75,295.0 635.25,295.0 635.25,294.4 635.75,294.4 635.75,295.4 636.25,295.4 636.25,295.0 636.75,295.0 636.75,294.9 637.25,294.9 637.25,294.8 637.75,294.8 637.75,295.0 638.25,295.0 638.25,295.3 638.75,295.3 638.75,295.3 639.25,295.3 639.25,295.0 639.75,295.0 639.75,295.3 640.25,295.3 640.25,294.9 640.75,294.9 640.75,295.5 641.25,295.5 641.25,294.7 641.75,294.7 641.75,293.6 642.25,293.6 642.25,295.4 642.75,295.4 642.75,294.8 643.25,294.8 643.25,294.2 643.75,294.2 643.75,294.7 644.25,294.7 644.25,294.2 644.75,294.2 644.75,296.0 645.25,296.0 645.25,295.1 645.75,295.1 645.75,293.9 646.25,293.9 646.25,295.1 646.75,295.1 646.75,294.6 647.25,294.6 647.25,295.9 647.75,295.9 647.75,294.3 648.25,294.3 648.25,293.6 648.75,293.6 648.75,294.9 649.25,294.9 649.25,294.7 649.75,294.7 649.75,294.7 650.25,294.7 650.25,293.7 650.75,293.7 650.75,295.0 651.25,295.0 651.25,295.8 651.75,295.8 651.75,293.8 652.25,293.8 652.25,295.5 652.75,295.5 652.75,294.6 653.25,294.6 653.25,296.1 653.75,296.1 653.75,295.1 654.25,295.1 654.25,294.8 654.75,294.8 654.75,295.5 655.25,295.5 655.25,295.2 655.75,295.2 655.75,294.6 656.25,294.6 656.25,295.3 656.75,295.3 656.75,294.6 657.25,294.6 657.25,293.8 657.75,293.8 657.75,296.0 658.25,296.0 658.25,294.7 658.75,294.7 658.75,294.5 659.25,294.5 659.25,295.1 659.75,295.1 659.75,294.1 660.25,294.1 660.25,294.1 660.75,294.1 660.75,294.6 661.25,294.6 661.25,294.7 661.75,294.7 661.75,294.9 662.25,294.9 662.25,295.5 662.75,295.5 662.75,294.7 663.25,294.7 663.25,295.2 663.75,295.2 663.75,295.2 664.25,295.2 664.25,294.4 664.75,294.4 664.75,295.0 665.25,295.0 665.25,294.4 665.75,294.4 665.75,295.5 666.25,295.5 666.25,295.2 666.75,295.2 666.75,294.9 667.25,294.9 667.25,294.2 667.75,294.2 667.75,295.0 668.25,295.0 668.25,294.7 668.75,294.7 668.75,295.3 669.25,295.3 669.25,295.0 669.75,295.0 669.75,294.5 670.25,294.5 670.25,295.5 670.75,295.5 670.75,295.4 671.25,295.4 671.25,294.7 671.75,294.7 671.75,297.3" fill="#52a8ca"/>
<line x1="41.50" y1="187.0" x2="41.50" y2="297.3" stroke="#f0f020" stroke-width="1.5" opacity="0.9"/>
<line x1="44.50" y1="196.0" x2="44.50" y2="297.3" stroke="#ee44ee" stroke-width="1.0" opacity="0.9"/>
<line x1="46.50" y1="187.0" x2="46.50" y2="297.3" stroke="#ee44ee" stroke-width="1.5" opacity="0.9"/>
<line x1="48.50" y1="283.0" x2="48.50" y2="297.3" stroke="#f0f020" stroke-width="1.0" opacity="0.9"/>
<line x1="51.50" y1="268.7" x2="51.50" y2="297.3" stroke="#ee44ee" stroke-width="1.5" opacity="0.9"/>
<line x1="58.50" y1="184.5" x2="58.50" y2="297.3" stroke="#66dd66" stroke-width="1.0" opacity="0.9"/>
<line x1="92.50" y1="187.0" x2="92.50" y2="297.3" stroke="#4444ee" stroke-width="1.5" opacity="0.9"/>
<line x1="121.50" y1="187.0" x2="121.50" y2="297.3" stroke="#ee4444" stroke-width="1.0" opacity="0.9"/>
<line x1="125.50" y1="290.0" x2="125.50" y2="297.3" stroke="#ee4444" stroke-width="1.0" opacity="0.9"/>
<line x1="137.50" y1="184.5" x2="137.50" y2="297.3" stroke="#33eeee" stroke-width="1.0" opacity="0.9"/>
<line x1="143.50" y1="290.0" x2="143.50" y2="297.3" stroke="#33eeee" stroke-width="1.0" opacity="0.9"/>
<line x1="239.50" y1="186.8" x2="239.50" y2="297.3" stroke="#f0f020" stroke-width="1.5" opacity="0.95"/>
<line x1="257.50" y1="285.0" x2="257.50" y2="297.3" stroke="#f0f020" stroke-width="1.0" opacity="0.9"/>
<line x1="263.50" y1="184.5" x2="263.50" y2="297.3" stroke="#ee44ee" stroke-width="1.0" opacity="0.7"/>
<line x1="284.50" y1="284.0" x2="284.50" y2="297.3" stroke="#ee44ee" stroke-width="1.0" opacity="0.9"/>
<rect x="48.4" y="162.4" width="20.7" height="21.9" fill="#1af01a" opacity="0.82"/><text x="58.8" y="177.8" text-anchor="middle" font-family="Liberation Sans, sans-serif" font-weight="bold" font-size="13.8" fill="#000" textLength="10.2" lengthAdjust="spacingAndGlyphs">O</text>
<rect x="77.8" y="162.4" width="28.7" height="21.9" fill="#2525f3" opacity="0.82"/><text x="92.2" y="177.8" text-anchor="middle" font-family="Liberation Sans, sans-serif" font-weight="bold" font-size="13.8" fill="#fff" textLength="19.0" lengthAdjust="spacingAndGlyphs">Na</text>
<rect x="127.6" y="162.4" width="21.4" height="21.9" fill="#1af9f9" opacity="0.82"/><text x="138.3" y="177.8" text-anchor="middle" font-family="Liberation Sans, sans-serif" font-weight="bold" font-size="13.8" fill="#000" textLength="12.0" lengthAdjust="spacingAndGlyphs">Si</text>
<rect x="230.7" y="162.3" width="18.1" height="21.8" fill="#ffed02" opacity="0.82"/><text x="239.8" y="177.6" text-anchor="middle" font-family="Liberation Sans, sans-serif" font-weight="bold" font-size="13.8" fill="#000" textLength="9.0" lengthAdjust="spacingAndGlyphs">K</text>
<rect x="250.4" y="162.3" width="27.3" height="21.8" fill="#ff10f9" opacity="0.82"/><text x="264.1" y="177.6" text-anchor="middle" font-family="Liberation Sans, sans-serif" font-weight="bold" font-size="13.8" fill="#000" textLength="16.6" lengthAdjust="spacingAndGlyphs">Ca</text>
<defs><clipPath id="cA"><rect x="364" y="23" width="305" height="260"/></clipPath>
<clipPath id="cA1"><polygon points="364,23 529,23 528,45 526,60 523,80 520,100 518,120 516,140 514,160 513,180 512,200 511,220 510,240 510,265.5 364,265.5" fill="#000" /></clipPath>
<clipPath id="cA2"><polygon points="669,23 529,23 528,45 526,60 523,80 520,100 518,120 516,140 514,160 513,180 512,200 511,220 510,240 510,265.5 669,265.5" fill="#000" /></clipPath>
<filter id="tA1" filterUnits="userSpaceOnUse" x="264" y="-77" width="505" height="460" color-interpolation-filters="sRGB"><feTurbulence type="fractalNoise" baseFrequency="0.09" numOctaves="4" seed="3" result="t"/><feDiffuseLighting in="t" surfaceScale="1.5" diffuseConstant="1" lighting-color="#fff" result="l"><feDistantLight azimuth="235" elevation="45"/></feDiffuseLighting><feGaussianBlur in="l" stdDeviation="0.4" result="lb"/><feColorMatrix in="lb" type="matrix" values="0.45 0 0 0 0.19399999999999995  0.45 0 0 0 0.19399999999999995  0.45 0 0 0 0.19399999999999995  0 0 0 0 1" result="o1"/><feTurbulence type="fractalNoise" baseFrequency="0.9" numOctaves="2" seed="10" result="t2"/><feColorMatrix in="t2" type="matrix" values="1 0 0 0 0 1 0 0 0 0 1 0 0 0 0 0 0 0 0 1" result="g2"/><feComposite in="o1" in2="g2" operator="arithmetic" k1="0" k2="1" k3="0.22" k4="-0.11"/></filter>
<filter id="tA2" filterUnits="userSpaceOnUse" x="264" y="-77" width="505" height="460" color-interpolation-filters="sRGB"><feTurbulence type="fractalNoise" baseFrequency="0.05" numOctaves="3" seed="4" result="t"/><feDiffuseLighting in="t" surfaceScale="1.0" diffuseConstant="1" lighting-color="#fff" result="l"><feDistantLight azimuth="235" elevation="45"/></feDiffuseLighting><feGaussianBlur in="l" stdDeviation="0.4" result="lb"/><feColorMatrix in="lb" type="matrix" values="0.25 0 0 0 0.32999999999999996  0.25 0 0 0 0.32999999999999996  0.25 0 0 0 0.32999999999999996  0 0 0 0 1" result="o1"/><feTurbulence type="fractalNoise" baseFrequency="0.5" numOctaves="2" seed="11" result="t2"/><feColorMatrix in="t2" type="matrix" values="1 0 0 0 0 1 0 0 0 0 1 0 0 0 0 0 0 0 0 1" result="g2"/><feComposite in="o1" in2="g2" operator="arithmetic" k1="0" k2="1" k3="0.12" k4="-0.06"/></filter>
<linearGradient id="gA1" x1="0" y1="0" x2="0" y2="1"><stop offset="0" stop-color="#828282"/><stop offset="1" stop-color="#797979"/></linearGradient>
<linearGradient id="gA2" x1="0" y1="0" x2="0" y2="1"><stop offset="0" stop-color="#676767"/><stop offset="1" stop-color="#5c5c5c"/></linearGradient>
<filter id="bA" x="-50%" y="-50%" width="200%" height="200%"><feGaussianBlur stdDeviation="2.5"/></filter>
<filter id="bA2" x="-50%" y="-50%" width="200%" height="200%"><feGaussianBlur stdDeviation="5"/></filter>
<filter id="bA1" x="-50%" y="-50%" width="200%" height="200%"><feGaussianBlur stdDeviation="1"/></filter>
</defs>
<g clip-path="url(#cA)" style="isolation:isolate">
<g clip-path="url(#cA1)">
<rect x="364" y="23" width="305" height="260" fill="url(#gA1)"/>
<ellipse cx="446.4" cy="253.5" rx="0.5" ry="1.0" fill="#a6a6a6" opacity="0.7"/><ellipse cx="432.2" cy="223.7" rx="0.6" ry="0.7" fill="#a6a6a6" opacity="0.7"/><ellipse cx="368.4" cy="205.7" rx="0.7" ry="0.6" fill="#9c9c9c" opacity="0.7"/><ellipse cx="412.8" cy="133.0" rx="0.5" ry="0.6" fill="#6c6c6c" opacity="0.7"/><ellipse cx="396.8" cy="86.6" rx="0.9" ry="0.6" fill="#9c9c9c" opacity="0.7"/><ellipse cx="521.9" cy="256.2" rx="0.8" ry="0.7" fill="#9c9c9c" opacity="0.7"/><ellipse cx="408.6" cy="62.0" rx="1.0" ry="0.7" fill="#a6a6a6" opacity="0.7"/><ellipse cx="464.4" cy="211.3" rx="0.8" ry="1.0" fill="#a6a6a6" opacity="0.7"/><ellipse cx="370.4" cy="151.2" rx="0.7" ry="0.4" fill="#9c9c9c" opacity="0.7"/><ellipse cx="501.3" cy="166.8" rx="0.6" ry="0.9" fill="#9c9c9c" opacity="0.7"/><ellipse cx="446.0" cy="146.9" rx="0.9" ry="0.5" fill="#9c9c9c" opacity="0.7"/><ellipse cx="474.0" cy="213.9" rx="0.5" ry="0.9" fill="#6c6c6c" opacity="0.7"/><ellipse cx="394.8" cy="42.8" rx="0.9" ry="0.9" fill="#6c6c6c" opacity="0.7"/><ellipse cx="440.0" cy="89.5" rx="0.4" ry="0.8" fill="#6c6c6c" opacity="0.7"/><ellipse cx="479.9" cy="225.6" rx="0.6" ry="0.5" fill="#6c6c6c" opacity="0.7"/><ellipse cx="493.6" cy="256.7" rx="0.5" ry="0.7" fill="#9c9c9c" opacity="0.7"/><ellipse cx="508.0" cy="125.5" rx="0.8" ry="0.4" fill="#9c9c9c" opacity="0.7"/><ellipse cx="512.0" cy="223.5" rx="0.9" ry="0.8" fill="#6c6c6c" opacity="0.7"/><ellipse cx="403.5" cy="209.4" rx="0.5" ry="0.9" fill="#a6a6a6" opacity="0.7"/><ellipse cx="496.9" cy="62.9" rx="0.6" ry="0.6" fill="#a6a6a6" opacity="0.7"/><ellipse cx="475.3" cy="66.3" rx="0.6" ry="0.4" fill="#9c9c9c" opacity="0.7"/><ellipse cx="431.8" cy="48.7" rx="0.8" ry="0.6" fill="#a6a6a6" opacity="0.7"/><ellipse cx="480.8" cy="181.6" rx="0.7" ry="0.9" fill="#a6a6a6" opacity="0.7"/><ellipse cx="494.5" cy="105.9" rx="0.7" ry="0.5" fill="#9c9c9c" opacity="0.7"/><ellipse cx="524.4" cy="82.0" rx="0.6" ry="0.4" fill="#6c6c6c" opacity="0.7"/><ellipse cx="486.9" cy="192.2" rx="0.5" ry="0.6" fill="#a6a6a6" opacity="0.7"/><ellipse cx="431.8" cy="184.3" rx="0.7" ry="0.8" fill="#9c9c9c" opacity="0.7"/><ellipse cx="481.0" cy="111.5" rx="0.7" ry="0.6" fill="#6c6c6c" opacity="0.7"/><ellipse cx="381.7" cy="72.3" rx="0.6" ry="0.6" fill="#6c6c6c" opacity="0.7"/><ellipse cx="456.8" cy="258.6" rx="0.9" ry="0.9" fill="#a6a6a6" opacity="0.7"/><ellipse cx="486.2" cy="167.8" rx="1.0" ry="0.8" fill="#9c9c9c" opacity="0.7"/><ellipse cx="376.4" cy="141.4" rx="0.5" ry="0.5" fill="#9c9c9c" opacity="0.7"/><ellipse cx="445.5" cy="213.4" rx="0.6" ry="0.9" fill="#6c6c6c" opacity="0.7"/><ellipse cx="388.0" cy="257.0" rx="0.6" ry="0.6" fill="#9c9c9c" opacity="0.7"/><ellipse cx="500.4" cy="53.2" rx="0.8" ry="0.5" fill="#6c6c6c" opacity="0.7"/><ellipse cx="401.3" cy="227.0" rx="0.6" ry="1.0" fill="#9c9c9c" opacity="0.7"/><ellipse cx="464.7" cy="191.2" rx="0.7" ry="0.6" fill="#a6a6a6" opacity="0.7"/><ellipse cx="515.5" cy="71.8" rx="1.0" ry="0.9" fill="#9c9c9c" opacity="0.7"/><ellipse cx="421.9" cy="178.6" rx="0.6" ry="0.6" fill="#6c6c6c" opacity="0.7"/><ellipse cx="366.7" cy="142.7" rx="1.0" ry="0.6" fill="#9c9c9c" opacity="0.7"/><ellipse cx="484.5" cy="130.4" rx="0.5" ry="0.9" fill="#9c9c9c" opacity="0.7"/><ellipse cx="412.9" cy="265.3" rx="0.6" ry="0.9" fill="#a6a6a6" opacity="0.7"/><ellipse cx="461.5" cy="218.5" rx="0.8" ry="0.6" fill="#6c6c6c" opacity="0.7"/><ellipse cx="368.3" cy="131.4" rx="0.6" ry="0.7" fill="#6c6c6c" opacity="0.7"/><ellipse cx="384.5" cy="77.0" rx="0.7" ry="0.6" fill="#6c6c6c" opacity="0.7"/><ellipse cx="461.4" cy="231.9" rx="0.8" ry="0.8" fill="#6c6c6c" opacity="0.7"/><ellipse cx="410.3" cy="212.8" rx="0.6" ry="0.4" fill="#6c6c6c" opacity="0.7"/><ellipse cx="450.9" cy="210.7" rx="0.7" ry="0.8" fill="#6c6c6c" opacity="0.7"/><ellipse cx="369.5" cy="68.3" rx="0.8" ry="0.7" fill="#9c9c9c" opacity="0.7"/><ellipse cx="517.3" cy="60.4" rx="0.7" ry="0.5" fill="#a6a6a6" opacity="0.7"/><ellipse cx="479.5" cy="90.0" rx="0.5" ry="0.4" fill="#9c9c9c" opacity="0.7"/><ellipse cx="394.9" cy="153.2" rx="0.7" ry="1.0" fill="#a6a6a6" opacity="0.7"/><ellipse cx="517.6" cy="216.2" rx="0.8" ry="0.9" fill="#9c9c9c" opacity="0.7"/><ellipse cx="367.6" cy="51.6" rx="0.6" ry="0.5" fill="#6c6c6c" opacity="0.7"/><ellipse cx="460.5" cy="86.1" rx="0.6" ry="0.6" fill="#9c9c9c" opacity="0.7"/><ellipse cx="483.3" cy="180.8" rx="0.8" ry="0.4" fill="#a6a6a6" opacity="0.7"/><ellipse cx="433.1" cy="189.2" rx="0.5" ry="0.6" fill="#a6a6a6" opacity="0.7"/><ellipse cx="377.2" cy="75.5" rx="0.6" ry="0.7" fill="#a6a6a6" opacity="0.7"/><ellipse cx="506.4" cy="99.8" rx="0.4" ry="0.9" fill="#6c6c6c" opacity="0.7"/><ellipse cx="379.0" cy="256.6" rx="0.9" ry="0.6" fill="#a6a6a6" opacity="0.7"/><ellipse cx="385.3" cy="116.8" rx="0.6" ry="0.9" fill="#9c9c9c" opacity="0.7"/><ellipse cx="377.2" cy="247.8" rx="0.8" ry="0.5" fill="#9c9c9c" opacity="0.7"/><ellipse cx="382.2" cy="136.0" rx="0.5" ry="0.8" fill="#9c9c9c" opacity="0.7"/><ellipse cx="369.2" cy="218.8" rx="0.9" ry="0.9" fill="#9c9c9c" opacity="0.7"/><ellipse cx="471.9" cy="191.0" rx="0.5" ry="0.4" fill="#9c9c9c" opacity="0.7"/><ellipse cx="519.3" cy="179.6" rx="1.0" ry="0.6" fill="#a6a6a6" opacity="0.7"/><ellipse cx="485.6" cy="38.9" rx="0.5" ry="0.6" fill="#9c9c9c" opacity="0.7"/><ellipse cx="453.7" cy="144.0" rx="0.7" ry="0.7" fill="#9c9c9c" opacity="0.7"/><ellipse cx="519.6" cy="134.1" rx="0.9" ry="0.4" fill="#9c9c9c" opacity="0.7"/><ellipse cx="454.2" cy="173.4" rx="0.6" ry="0.6" fill="#9c9c9c" opacity="0.7"/><ellipse cx="516.5" cy="180.3" rx="0.8" ry="0.4" fill="#a6a6a6" opacity="0.7"/><ellipse cx="398.0" cy="56.4" rx="1.0" ry="0.4" fill="#a6a6a6" opacity="0.7"/><ellipse cx="422.9" cy="37.2" rx="0.8" ry="0.4" fill="#9c9c9c" opacity="0.7"/><ellipse cx="376.9" cy="88.9" rx="0.7" ry="0.9" fill="#a6a6a6" opacity="0.7"/><ellipse cx="407.0" cy="91.7" rx="0.9" ry="0.8" fill="#6c6c6c" opacity="0.7"/><ellipse cx="493.8" cy="224.6" rx="0.5" ry="0.8" fill="#a6a6a6" opacity="0.7"/><ellipse cx="395.7" cy="82.0" rx="0.7" ry="0.7" fill="#a6a6a6" opacity="0.7"/><ellipse cx="451.1" cy="74.7" rx="0.9" ry="0.6" fill="#9c9c9c" opacity="0.7"/><ellipse cx="510.9" cy="147.9" rx="0.6" ry="0.5" fill="#9c9c9c" opacity="0.7"/><ellipse cx="424.6" cy="174.1" rx="0.7" ry="0.4" fill="#9c9c9c" opacity="0.7"/><ellipse cx="498.1" cy="35.5" rx="0.9" ry="0.9" fill="#a6a6a6" opacity="0.7"/><ellipse cx="471.0" cy="62.0" rx="0.7" ry="0.7" fill="#6c6c6c" opacity="0.7"/><ellipse cx="465.8" cy="115.4" rx="0.8" ry="0.5" fill="#a6a6a6" opacity="0.7"/><ellipse cx="451.5" cy="126.7" rx="0.5" ry="1.0" fill="#9c9c9c" opacity="0.7"/><ellipse cx="475.3" cy="225.0" rx="0.6" ry="1.0" fill="#9c9c9c" opacity="0.7"/><ellipse cx="521.7" cy="70.9" rx="0.7" ry="0.6" fill="#6c6c6c" opacity="0.7"/><ellipse cx="462.8" cy="83.7" rx="0.5" ry="0.7" fill="#a6a6a6" opacity="0.7"/><ellipse cx="425.8" cy="262.5" rx="0.6" ry="0.6" fill="#9c9c9c" opacity="0.7"/><ellipse cx="495.0" cy="136.2" rx="0.6" ry="0.6" fill="#a6a6a6" opacity="0.7"/><ellipse cx="518.8" cy="179.7" rx="0.6" ry="0.8" fill="#6c6c6c" opacity="0.7"/><ellipse cx="398.9" cy="101.1" rx="0.7" ry="0.6" fill="#a6a6a6" opacity="0.7"/><ellipse cx="520.8" cy="64.3" rx="0.8" ry="0.4" fill="#9c9c9c" opacity="0.7"/><ellipse cx="378.8" cy="73.9" rx="1.0" ry="0.8" fill="#9c9c9c" opacity="0.7"/><ellipse cx="372.0" cy="188.2" rx="0.7" ry="0.6" fill="#6c6c6c" opacity="0.7"/><ellipse cx="478.0" cy="97.8" rx="0.7" ry="0.6" fill="#6c6c6c" opacity="0.7"/><ellipse cx="449.9" cy="61.3" rx="0.6" ry="0.7" fill="#9c9c9c" opacity="0.7"/><ellipse cx="440.1" cy="217.0" rx="0.8" ry="0.7" fill="#6c6c6c" opacity="0.7"/><ellipse cx="395.8" cy="48.2" rx="0.6" ry="0.5" fill="#6c6c6c" opacity="0.7"/><ellipse cx="453.5" cy="162.1" rx="0.5" ry="0.8" fill="#a6a6a6" opacity="0.7"/><ellipse cx="432.1" cy="245.5" rx="0.9" ry="0.5" fill="#9c9c9c" opacity="0.7"/><ellipse cx="390.8" cy="245.0" rx="0.5" ry="0.9" fill="#9c9c9c" opacity="0.7"/><ellipse cx="422.2" cy="157.3" rx="1.0" ry="0.4" fill="#a6a6a6" opacity="0.7"/><ellipse cx="390.1" cy="197.7" rx="0.6" ry="0.6" fill="#a6a6a6" opacity="0.7"/><ellipse cx="406.5" cy="196.2" rx="1.0" ry="0.9" fill="#6c6c6c" opacity="0.7"/><ellipse cx="478.2" cy="198.4" rx="0.9" ry="0.6" fill="#9c9c9c" opacity="0.7"/><ellipse cx="493.3" cy="238.4" rx="0.9" ry="0.9" fill="#9c9c9c" opacity="0.7"/><ellipse cx="379.7" cy="114.3" rx="0.7" ry="0.9" fill="#6c6c6c" opacity="0.7"/><ellipse cx="406.7" cy="27.8" rx="0.6" ry="0.9" fill="#9c9c9c" opacity="0.7"/><ellipse cx="367.2" cy="63.0" rx="0.6" ry="0.7" fill="#6c6c6c" opacity="0.7"/><ellipse cx="506.1" cy="73.3" rx="0.7" ry="0.9" fill="#9c9c9c" opacity="0.7"/><ellipse cx="513.7" cy="234.8" rx="0.5" ry="0.9" fill="#6c6c6c" opacity="0.7"/><ellipse cx="431.9" cy="29.2" rx="0.5" ry="0.8" fill="#6c6c6c" opacity="0.7"/><ellipse cx="377.5" cy="98.8" rx="0.6" ry="0.8" fill="#9c9c9c" opacity="0.7"/><ellipse cx="378.0" cy="112.8" rx="0.6" ry="0.8" fill="#9c9c9c" opacity="0.7"/><ellipse cx="415.5" cy="191.2" rx="0.7" ry="0.9" fill="#6c6c6c" opacity="0.7"/><ellipse cx="429.7" cy="140.6" rx="0.7" ry="0.9" fill="#6c6c6c" opacity="0.7"/><ellipse cx="386.2" cy="125.9" rx="0.7" ry="0.7" fill="#a6a6a6" opacity="0.7"/><ellipse cx="444.3" cy="123.3" rx="0.8" ry="0.6" fill="#9c9c9c" opacity="0.7"/><ellipse cx="461.7" cy="199.7" rx="0.5" ry="0.6" fill="#6c6c6c" opacity="0.7"/><ellipse cx="519.5" cy="263.7" rx="0.4" ry="0.9" fill="#6c6c6c" opacity="0.7"/><ellipse cx="514.6" cy="241.7" rx="0.8" ry="0.8" fill="#6c6c6c" opacity="0.7"/><ellipse cx="456.6" cy="214.2" rx="0.7" ry="0.5" fill="#6c6c6c" opacity="0.7"/><ellipse cx="379.2" cy="243.3" rx="0.9" ry="0.5" fill="#9c9c9c" opacity="0.7"/><ellipse cx="412.4" cy="177.1" rx="0.6" ry="0.5" fill="#6c6c6c" opacity="0.7"/><ellipse cx="392.3" cy="40.2" rx="0.4" ry="0.4" fill="#a6a6a6" opacity="0.7"/><ellipse cx="498.3" cy="148.6" rx="0.5" ry="0.7" fill="#a6a6a6" opacity="0.7"/><ellipse cx="451.4" cy="143.4" rx="0.5" ry="0.7" fill="#9c9c9c" opacity="0.7"/><ellipse cx="425.8" cy="145.2" rx="1.0" ry="0.5" fill="#6c6c6c" opacity="0.7"/><ellipse cx="480.8" cy="140.3" rx="0.9" ry="0.6" fill="#9c9c9c" opacity="0.7"/><ellipse cx="423.3" cy="233.0" rx="0.9" ry="0.8" fill="#9c9c9c" opacity="0.7"/><ellipse cx="521.9" cy="200.5" rx="0.9" ry="0.9" fill="#9c9c9c" opacity="0.7"/><ellipse cx="522.9" cy="117.7" rx="0.7" ry="0.5" fill="#a6a6a6" opacity="0.7"/><ellipse cx="496.3" cy="104.7" rx="0.8" ry="0.5" fill="#a6a6a6" opacity="0.7"/><ellipse cx="425.9" cy="80.4" rx="0.4" ry="0.9" fill="#9c9c9c" opacity="0.7"/><ellipse cx="517.0" cy="77.9" rx="0.5" ry="0.6" fill="#a6a6a6" opacity="0.7"/><ellipse cx="468.6" cy="112.4" rx="0.7" ry="0.9" fill="#a6a6a6" opacity="0.7"/><ellipse cx="502.7" cy="246.5" rx="1.0" ry="0.8" fill="#9c9c9c" opacity="0.7"/><ellipse cx="370.1" cy="47.8" rx="0.7" ry="0.9" fill="#9c9c9c" opacity="0.7"/><ellipse cx="433.7" cy="23.9" rx="0.5" ry="0.9" fill="#6c6c6c" opacity="0.7"/><ellipse cx="396.1" cy="92.2" rx="0.8" ry="0.9" fill="#a6a6a6" opacity="0.7"/><ellipse cx="399.2" cy="168.4" rx="0.7" ry="0.7" fill="#a6a6a6" opacity="0.7"/><ellipse cx="495.1" cy="75.7" rx="0.7" ry="0.5" fill="#9c9c9c" opacity="0.7"/><ellipse cx="446.6" cy="214.8" rx="1.0" ry="0.7" fill="#6c6c6c" opacity="0.7"/><ellipse cx="457.3" cy="113.1" rx="0.5" ry="0.7" fill="#a6a6a6" opacity="0.7"/><ellipse cx="492.7" cy="239.1" rx="1.0" ry="0.6" fill="#a6a6a6" opacity="0.7"/><ellipse cx="381.8" cy="128.8" rx="0.9" ry="0.5" fill="#a6a6a6" opacity="0.7"/><ellipse cx="500.8" cy="195.6" rx="0.5" ry="0.8" fill="#6c6c6c" opacity="0.7"/><ellipse cx="514.2" cy="62.3" rx="0.9" ry="0.9" fill="#6c6c6c" opacity="0.7"/><ellipse cx="403.2" cy="94.4" rx="1.0" ry="0.6" fill="#9c9c9c" opacity="0.7"/><ellipse cx="479.9" cy="55.2" rx="0.7" ry="0.6" fill="#a6a6a6" opacity="0.7"/><ellipse cx="451.6" cy="169.3" rx="0.8" ry="0.7" fill="#9c9c9c" opacity="0.7"/><ellipse cx="498.5" cy="249.3" rx="0.7" ry="0.8" fill="#6c6c6c" opacity="0.7"/><ellipse cx="433.3" cy="90.6" rx="0.8" ry="1.0" fill="#9c9c9c" opacity="0.7"/><ellipse cx="409.9" cy="78.3" rx="0.9" ry="0.8" fill="#6c6c6c" opacity="0.7"/><ellipse cx="503.0" cy="58.5" rx="0.9" ry="0.7" fill="#a6a6a6" opacity="0.7"/><ellipse cx="419.3" cy="263.9" rx="1.0" ry="0.5" fill="#a6a6a6" opacity="0.7"/><ellipse cx="414.7" cy="197.5" rx="0.4" ry="0.4" fill="#a6a6a6" opacity="0.7"/><ellipse cx="503.8" cy="103.9" rx="0.6" ry="0.9" fill="#a6a6a6" opacity="0.7"/><ellipse cx="415.3" cy="202.1" rx="0.6" ry="0.6" fill="#a6a6a6" opacity="0.7"/><ellipse cx="391.1" cy="41.2" rx="0.9" ry="0.9" fill="#9c9c9c" opacity="0.7"/><ellipse cx="438.2" cy="189.9" rx="0.9" ry="0.6" fill="#9c9c9c" opacity="0.7"/><ellipse cx="485.5" cy="41.9" rx="0.5" ry="0.9" fill="#6c6c6c" opacity="0.7"/><ellipse cx="477.6" cy="67.9" rx="0.9" ry="0.9" fill="#9c9c9c" opacity="0.7"/><ellipse cx="418.8" cy="49.8" rx="0.7" ry="0.5" fill="#a6a6a6" opacity="0.7"/><ellipse cx="451.5" cy="174.5" rx="0.7" ry="0.4" fill="#6c6c6c" opacity="0.7"/><ellipse cx="485.1" cy="57.4" rx="0.8" ry="0.9" fill="#9c9c9c" opacity="0.7"/><ellipse cx="395.2" cy="244.5" rx="1.0" ry="0.8" fill="#9c9c9c" opacity="0.7"/><ellipse cx="407.8" cy="184.3" rx="1.0" ry="0.4" fill="#6c6c6c" opacity="0.7"/><ellipse cx="496.2" cy="80.5" rx="0.9" ry="0.8" fill="#9c9c9c" opacity="0.7"/><ellipse cx="428.6" cy="132.2" rx="1.0" ry="0.4" fill="#6c6c6c" opacity="0.7"/><ellipse cx="389.1" cy="258.9" rx="0.9" ry="0.5" fill="#a6a6a6" opacity="0.7"/><ellipse cx="406.7" cy="239.3" rx="0.9" ry="0.4" fill="#6c6c6c" opacity="0.7"/><ellipse cx="365.6" cy="102.3" rx="1.0" ry="0.9" fill="#6c6c6c" opacity="0.7"/><ellipse cx="502.1" cy="97.6" rx="0.6" ry="0.5" fill="#9c9c9c" opacity="0.7"/><ellipse cx="518.5" cy="217.9" rx="0.7" ry="0.6" fill="#6c6c6c" opacity="0.7"/><ellipse cx="427.9" cy="74.1" rx="0.7" ry="0.8" fill="#6c6c6c" opacity="0.7"/><ellipse cx="488.1" cy="49.4" rx="1.0" ry="0.8" fill="#a6a6a6" opacity="0.7"/><ellipse cx="498.8" cy="258.7" rx="0.9" ry="0.4" fill="#a6a6a6" opacity="0.7"/><ellipse cx="440.2" cy="165.9" rx="0.9" ry="0.7" fill="#a6a6a6" opacity="0.7"/><ellipse cx="514.3" cy="253.8" rx="0.7" ry="0.4" fill="#a6a6a6" opacity="0.7"/><ellipse cx="499.1" cy="202.9" rx="1.0" ry="0.4" fill="#a6a6a6" opacity="0.7"/><ellipse cx="409.7" cy="49.1" rx="0.8" ry="0.6" fill="#9c9c9c" opacity="0.7"/><ellipse cx="370.3" cy="55.4" rx="0.9" ry="0.8" fill="#a6a6a6" opacity="0.7"/><ellipse cx="476.1" cy="54.6" rx="0.8" ry="0.8" fill="#a6a6a6" opacity="0.7"/><ellipse cx="364.9" cy="147.0" rx="0.8" ry="0.9" fill="#9c9c9c" opacity="0.7"/><ellipse cx="506.5" cy="206.4" rx="1.0" ry="0.6" fill="#6c6c6c" opacity="0.7"/><ellipse cx="369.5" cy="66.9" rx="0.6" ry="0.4" fill="#a6a6a6" opacity="0.7"/><ellipse cx="447.5" cy="84.2" rx="0.6" ry="0.8" fill="#a6a6a6" opacity="0.7"/><ellipse cx="501.6" cy="232.0" rx="0.6" ry="0.8" fill="#9c9c9c" opacity="0.7"/><ellipse cx="388.3" cy="71.6" rx="0.8" ry="0.6" fill="#6c6c6c" opacity="0.7"/><ellipse cx="395.0" cy="112.1" rx="0.4" ry="0.7" fill="#6c6c6c" opacity="0.7"/><ellipse cx="403.4" cy="75.8" rx="0.6" ry="0.5" fill="#a6a6a6" opacity="0.7"/><ellipse cx="439.9" cy="189.8" rx="0.6" ry="1.0" fill="#a6a6a6" opacity="0.7"/><ellipse cx="413.3" cy="32.4" rx="0.9" ry="0.5" fill="#6c6c6c" opacity="0.7"/><ellipse cx="417.5" cy="163.5" rx="1.0" ry="0.6" fill="#6c6c6c" opacity="0.7"/><ellipse cx="465.0" cy="188.7" rx="0.5" ry="0.8" fill="#9c9c9c" opacity="0.7"/><ellipse cx="451.6" cy="182.7" rx="0.5" ry="0.5" fill="#6c6c6c" opacity="0.7"/><ellipse cx="496.2" cy="223.7" rx="1.0" ry="1.0" fill="#6c6c6c" opacity="0.7"/><ellipse cx="427.4" cy="205.9" rx="0.8" ry="0.7" fill="#6c6c6c" opacity="0.7"/><ellipse cx="415.4" cy="232.1" rx="0.6" ry="0.5" fill="#6c6c6c" opacity="0.7"/><ellipse cx="365.8" cy="178.0" rx="0.5" ry="1.0" fill="#a6a6a6" opacity="0.7"/><ellipse cx="414.9" cy="261.7" rx="0.7" ry="1.0" fill="#a6a6a6" opacity="0.7"/><ellipse cx="489.8" cy="51.8" rx="0.5" ry="0.6" fill="#a6a6a6" opacity="0.7"/><ellipse cx="417.8" cy="135.3" rx="0.7" ry="0.6" fill="#6c6c6c" opacity="0.7"/><ellipse cx="490.6" cy="36.3" rx="0.5" ry="0.9" fill="#a6a6a6" opacity="0.7"/><ellipse cx="446.4" cy="112.6" rx="0.5" ry="0.7" fill="#9c9c9c" opacity="0.7"/><ellipse cx="522.9" cy="167.3" rx="0.7" ry="1.0" fill="#6c6c6c" opacity="0.7"/><ellipse cx="524.9" cy="254.3" rx="0.8" ry="0.6" fill="#6c6c6c" opacity="0.7"/><ellipse cx="465.1" cy="107.4" rx="0.9" ry="0.5" fill="#a6a6a6" opacity="0.7"/><ellipse cx="499.4" cy="133.2" rx="0.8" ry="0.5" fill="#9c9c9c" opacity="0.7"/><ellipse cx="409.9" cy="254.5" rx="0.8" ry="0.6" fill="#6c6c6c" opacity="0.7"/><ellipse cx="488.8" cy="214.0" rx="0.9" ry="0.6" fill="#9c9c9c" opacity="0.7"/><ellipse cx="402.4" cy="177.8" rx="0.7" ry="0.7" fill="#6c6c6c" opacity="0.7"/><ellipse cx="415.3" cy="205.4" rx="0.6" ry="0.9" fill="#a6a6a6" opacity="0.7"/><ellipse cx="371.5" cy="253.6" rx="0.5" ry="0.7" fill="#a6a6a6" opacity="0.7"/><ellipse cx="404.8" cy="78.1" rx="1.0" ry="0.9" fill="#6c6c6c" opacity="0.7"/><ellipse cx="449.7" cy="37.8" rx="0.8" ry="0.6" fill="#a6a6a6" opacity="0.7"/><ellipse cx="514.1" cy="173.2" rx="0.7" ry="0.4" fill="#a6a6a6" opacity="0.7"/><ellipse cx="423.8" cy="232.5" rx="0.6" ry="0.6" fill="#9c9c9c" opacity="0.7"/><ellipse cx="404.6" cy="158.1" rx="0.9" ry="0.6" fill="#9c9c9c" opacity="0.7"/><ellipse cx="440.1" cy="162.7" rx="0.6" ry="0.5" fill="#9c9c9c" opacity="0.7"/><ellipse cx="455.0" cy="250.3" rx="0.4" ry="0.9" fill="#a6a6a6" opacity="0.7"/><ellipse cx="519.0" cy="154.5" rx="1.0" ry="0.8" fill="#9c9c9c" opacity="0.7"/><ellipse cx="438.7" cy="136.1" rx="0.8" ry="0.5" fill="#9c9c9c" opacity="0.7"/><ellipse cx="479.2" cy="142.1" rx="0.8" ry="1.0" fill="#9c9c9c" opacity="0.7"/><ellipse cx="428.9" cy="89.7" rx="0.4" ry="0.8" fill="#a6a6a6" opacity="0.7"/><ellipse cx="465.2" cy="265.4" rx="0.8" ry="0.6" fill="#a6a6a6" opacity="0.7"/><ellipse cx="366.5" cy="96.4" rx="0.9" ry="0.5" fill="#6c6c6c" opacity="0.7"/><ellipse cx="422.2" cy="228.9" rx="0.6" ry="0.5" fill="#9c9c9c" opacity="0.7"/><ellipse cx="376.5" cy="230.7" rx="0.6" ry="0.5" fill="#6c6c6c" opacity="0.7"/><ellipse cx="442.5" cy="140.2" rx="1.0" ry="0.9" fill="#a6a6a6" opacity="0.7"/><ellipse cx="454.1" cy="100.2" rx="1.0" ry="0.6" fill="#9c9c9c" opacity="0.7"/><ellipse cx="506.6" cy="182.1" rx="0.9" ry="0.6" fill="#9c9c9c" opacity="0.7"/><ellipse cx="423.5" cy="223.6" rx="1.0" ry="0.9" fill="#9c9c9c" opacity="0.7"/><ellipse cx="436.7" cy="224.1" rx="0.8" ry="0.7" fill="#a6a6a6" opacity="0.7"/><ellipse cx="402.3" cy="193.7" rx="0.5" ry="0.7" fill="#a6a6a6" opacity="0.7"/><ellipse cx="493.5" cy="181.6" rx="0.8" ry="0.6" fill="#6c6c6c" opacity="0.7"/><ellipse cx="369.5" cy="34.2" rx="0.5" ry="0.7" fill="#a6a6a6" opacity="0.7"/><ellipse cx="432.2" cy="72.5" rx="0.6" ry="0.7" fill="#6c6c6c" opacity="0.7"/><ellipse cx="469.6" cy="32.9" rx="0.7" ry="0.5" fill="#6c6c6c" opacity="0.7"/><ellipse cx="501.6" cy="237.6" rx="0.7" ry="0.8" fill="#a6a6a6" opacity="0.7"/><ellipse cx="495.5" cy="90.6" rx="0.5" ry="0.8" fill="#6c6c6c" opacity="0.7"/><ellipse cx="518.4" cy="78.7" rx="0.7" ry="0.7" fill="#9c9c9c" opacity="0.7"/><ellipse cx="484.8" cy="55.0" rx="0.6" ry="0.7" fill="#9c9c9c" opacity="0.7"/><ellipse cx="517.4" cy="188.9" rx="0.8" ry="1.0" fill="#9c9c9c" opacity="0.7"/><ellipse cx="461.2" cy="49.1" rx="0.5" ry="0.8" fill="#a6a6a6" opacity="0.7"/><ellipse cx="497.0" cy="177.2" rx="0.7" ry="0.9" fill="#a6a6a6" opacity="0.7"/><ellipse cx="513.0" cy="219.1" rx="0.7" ry="0.9" fill="#6c6c6c" opacity="0.7"/><ellipse cx="401.6" cy="242.2" rx="0.6" ry="1.0" fill="#6c6c6c" opacity="0.7"/><ellipse cx="406.5" cy="104.6" rx="0.7" ry="0.5" fill="#a6a6a6" opacity="0.7"/><ellipse cx="406.5" cy="237.4" rx="1.0" ry="0.5" fill="#9c9c9c" opacity="0.7"/><ellipse cx="431.6" cy="223.9" rx="0.8" ry="0.6" fill="#9c9c9c" opacity="0.7"/><ellipse cx="491.0" cy="169.7" rx="0.5" ry="0.9" fill="#a6a6a6" opacity="0.7"/><ellipse cx="506.8" cy="184.3" rx="0.5" ry="0.9" fill="#9c9c9c" opacity="0.7"/><ellipse cx="457.6" cy="154.3" rx="0.7" ry="0.8" fill="#9c9c9c" opacity="0.7"/><ellipse cx="445.1" cy="249.9" rx="0.5" ry="0.5" fill="#a6a6a6" opacity="0.7"/><ellipse cx="430.1" cy="149.0" rx="0.6" ry="0.7" fill="#9c9c9c" opacity="0.7"/><ellipse cx="491.6" cy="35.5" rx="0.6" ry="0.8" fill="#6c6c6c" opacity="0.7"/><ellipse cx="367.4" cy="253.2" rx="0.8" ry="0.7" fill="#6c6c6c" opacity="0.7"/><ellipse cx="387.7" cy="39.1" rx="0.8" ry="1.0" fill="#9c9c9c" opacity="0.7"/>
<path d="M487 40 L462 80 L440 115 L420 150 L405 185" stroke="#9e9e9e" stroke-width="4" fill="none" filter="url(#bA1)"/>
<path d="M507 28 L480 72 L456 112 L432 150 L415 190" stroke="#a2a2a2" stroke-width="3" fill="none" filter="url(#bA1)"/>
<path d="M470 23 L445 60 L420 100 L395 150 L380 190" stroke="#989898" stroke-width="5" fill="none" filter="url(#bA)"/>
<path d="M497 35 L470 78 L446 115" stroke="#6e6e6e" stroke-width="3" fill="none" filter="url(#bA1)"/>
<path d="M440 40 L400 110 L380 150" stroke="#727272" stroke-width="10" fill="none" filter="url(#bA2)"/>
<ellipse cx="475" cy="170" rx="28" ry="32" fill="#7a7a7a" filter="url(#bA2)"/>
<ellipse cx="465" cy="225" rx="14" ry="12" fill="#6e6e6e" filter="url(#bA)"/>
<path d="M452 212 L468 222 L482 218" stroke="#767676" stroke-width="12" fill="none" filter="url(#bA)"/>
<rect x="364" y="23" width="10" height="242.5" fill="#5e5e5e" filter="url(#bA)"/>
<path d="M368 50 L367 80" stroke="#c8c8c8" stroke-width="2.2" fill="none" filter="url(#bA1)"/>
<path d="M372 100 L369 160" stroke="#9a9a9a" stroke-width="2" fill="none" filter="url(#bA1)"/>
<ellipse cx="432" cy="250" rx="3" ry="5" fill="#a0a0a0"/><ellipse cx="432" cy="253" rx="2" ry="2.5" fill="#5a5a5a"/>
<g style="mix-blend-mode:overlay" ><rect x="264" y="-77" width="505" height="460" fill="#808080" filter="url(#tA1)" transform="rotate(0 516.5 153.0)"/></g>
</g>
<g clip-path="url(#cA2)">
<rect x="364" y="23" width="305" height="260" fill="url(#gA2)"/>
<path d="M580 120 L582 160 L590 210 L600 265" stroke="#555" stroke-width="8" fill="none" filter="url(#bA)"/>
<path d="M585 130 L592 200 L605 265" stroke="#6a6a6a" stroke-width="2.5" fill="none" filter="url(#bA1)"/>
<ellipse cx="567" cy="38" rx="3" ry="2.5" fill="#bdbdbd"/>
<ellipse cx="596" cy="45" rx="1.5" ry="1.2" fill="#b0b0b0"/>
<ellipse cx="620" cy="43" rx="1.3" ry="3" fill="#c0c0c0"/>
<ellipse cx="553" cy="106" rx="2.5" ry="2" fill="#bdbdbd"/>
<ellipse cx="597" cy="104" rx="3.5" ry="3" fill="#c4c4c4"/>
<ellipse cx="633" cy="122" rx="1.2" ry="2" fill="#b0b0b0"/>
<ellipse cx="608" cy="148" rx="1.8" ry="1.5" fill="#b8b8b8"/>
<ellipse cx="546" cy="235" rx="2.5" ry="3" fill="#b4b4b4"/>
<ellipse cx="545" cy="194" rx="1" ry="3" fill="#a8a8a8"/>
<ellipse cx="577" cy="212" rx="2.5" ry="1" fill="#a8a8a8"/>
<ellipse cx="629" cy="234" rx="1" ry="1" fill="#a8a8a8"/>
<ellipse cx="582" cy="101" rx="1.5" ry="1.5" fill="#a0a0a0"/>
<g style="mix-blend-mode:overlay" ><rect x="264" y="-77" width="505" height="460" fill="#808080" filter="url(#tA2)" transform="rotate(0 516.5 153.0)"/></g>
</g>
<path d="M529.8,23 L528.8,45 L526.8,60 L523.8,80 L520.8,100 L518.8,120 L516.8,140 L514.8,160 L513.8,180 L512.8,200 L511.8,220 L510.8,240 L510.8,265.5" stroke="#2e2e2e" stroke-width="1.8" fill="none" filter="url(#bA1)"/>
<path d="M525,23 L524,45 L522,60 L519,80 L516,100 L514,120 L512,140 L510,160 L509,180 L508,200 L507,220 L506,240 L506,265.5" stroke="#939393" stroke-width="5" fill="none" filter="url(#bA)" opacity="0.8"/>
<path d="M524 77 L514 93 L522 90 L527 84Z" fill="#262626" filter="url(#bA1)"/>
<path d="M527 82 L516 94 L523 95 L528 88Z" fill="#a8a8a8" filter="url(#bA1)"/>
<path d="M529 23 L534 23 L531 30Z" fill="#9a9a9a" filter="url(#bA1)"/>
<path d="M514 150 L510 170 L508 185 L507 210 L506 230 L508 245 L507 265" stroke="#333" stroke-width="1.6" fill="none" filter="url(#bA1)"/>
<path d="M517 150 L516 175 L514 200 L513 215 L512 240 L513 265" stroke="#383838" stroke-width="1.4" fill="none" filter="url(#bA1)"/>
<path d="M514 160 L510.5 183 M514.5 195 L510 224 M512 228 L509.5 252" stroke="#a2a2a2" stroke-width="2.4" fill="none" filter="url(#bA1)"/>
<circle cx="517" cy="224" r="2" fill="#a6a6a6"/><circle cx="519" cy="252" r="1.5" fill="#9a9a9a"/><path d="M520 187 L524 196" stroke="#8a8a8a" stroke-width="1.5"/>
<ellipse cx="471" cy="164.5" rx="26.5" ry="31" fill="none" stroke="#e4e44a" stroke-width="1"/>
<text x="443" y="119.5" font-family="Liberation Sans, sans-serif" font-size="5.5" fill="#22bb22" textLength="28" lengthAdjust="spacingAndGlyphs">Spectrum 1</text>
<text x="419.5" y="248" font-family="Liberation Serif, serif" font-size="16.5" fill="#f0f000" textLength="31.5" lengthAdjust="spacingAndGlyphs">CSH</text>
<text x="558.7" y="250.8" font-family="Liberation Serif, serif" font-size="16" fill="#f0f000" textLength="65.5" lengthAdjust="spacingAndGlyphs">Aggregate</text>
<rect x="364" y="265.5" width="305" height="17.5" fill="#1e1e1e" opacity="0.9"/>
<text x="369.0" y="280.8" font-family="Liberation Sans, sans-serif" font-weight="bold" font-size="6.8" fill="#d4d4d4" textLength="32.2" lengthAdjust="spacingAndGlyphs">MAG: 2000x</text>
<text x="407.6" y="280.8" font-family="Liberation Sans, sans-serif" font-weight="bold" font-size="6.8" fill="#d4d4d4" textLength="25.9" lengthAdjust="spacingAndGlyphs">HV: 10 kV</text>
<text x="439.4" y="280.8" font-family="Liberation Sans, sans-serif" font-weight="bold" font-size="6.8" fill="#d4d4d4" textLength="34.8" lengthAdjust="spacingAndGlyphs">WD: 11.4 mm</text>
<path d="M612.0 274.7H659.6M612.0 270.9V278.5M659.6 270.9V278.5" stroke="#f0f0f0" stroke-width="1.1"/>
<text x="635.8" y="272.1" text-anchor="middle" font-family="Liberation Sans, sans-serif" font-weight="bold" font-size="6.3" fill="#e8e8e8" textLength="16" lengthAdjust="spacingAndGlyphs">10 µm</text>
</g>
<line x1="32.5" y1="19.4" x2="672.8" y2="19.4" stroke="#555" stroke-width="1.6"/>
<line x1="32.5" y1="19.4" x2="32.5" y2="297.3" stroke="#888" stroke-width="1.3"/>
<line x1="672.3" y1="19.4" x2="672.3" y2="297.3" stroke="#555" stroke-width="1.2"/>
<line x1="32.5" y1="297.3" x2="672.3" y2="297.3" stroke="#777" stroke-width="1.3"/>
<path d="M28.0 297.30H32.5M28.0 288.08H32.5M28.0 278.86H32.5M28.0 269.64H32.5M28.0 260.42H32.5M28.0 251.20H32.5M28.0 241.98H32.5M28.0 232.76H32.5M28.0 223.54H32.5M28.0 214.32H32.5M28.0 205.10H32.5M28.0 195.88H32.5M28.0 186.66H32.5M28.0 177.44H32.5M28.0 168.22H32.5M28.0 159.00H32.5M28.0 149.78H32.5M28.0 140.56H32.5M28.0 131.34H32.5M28.0 122.12H32.5M28.0 112.90H32.5M28.0 103.68H32.5M28.0 94.46H32.5M28.0 85.24H32.5M28.0 76.02H32.5M28.0 66.80H32.5M28.0 57.58H32.5M28.0 48.36H32.5M28.0 39.14H32.5M28.0 29.92H32.5M28.0 20.70H32.5M37.85 297.3V301.1M50.79 297.3V301.1M63.74 297.3V301.1M76.68 297.3V301.1M89.63 297.3V303.8M102.58 297.3V301.1M115.52 297.3V301.1M128.47 297.3V301.1M141.41 297.3V301.1M154.36 297.3V303.8M167.31 297.3V301.1M180.25 297.3V301.1M193.20 297.3V301.1M206.14 297.3V301.1M219.09 297.3V303.8M232.04 297.3V301.1M244.98 297.3V301.1M257.93 297.3V301.1M270.87 297.3V301.1M283.82 297.3V303.8M296.77 297.3V301.1M309.71 297.3V301.1M322.66 297.3V301.1M335.60 297.3V301.1M348.55 297.3V303.8M361.50 297.3V301.1M374.44 297.3V301.1M387.39 297.3V301.1M400.33 297.3V301.1M413.28 297.3V303.8M426.23 297.3V301.1M439.17 297.3V301.1M452.12 297.3V301.1M465.06 297.3V301.1M478.01 297.3V303.8M490.96 297.3V301.1M503.90 297.3V301.1M516.85 297.3V301.1M529.79 297.3V301.1M542.74 297.3V303.8M555.69 297.3V301.1M568.63 297.3V301.1M581.58 297.3V301.1M594.52 297.3V301.1M607.47 297.3V303.8M620.42 297.3V301.1M633.36 297.3V301.1M646.31 297.3V301.1M659.25 297.3V301.1M672.20 297.3V303.8" stroke="#444" stroke-width="1.3" fill="none"/>
<text x="23.2" y="302.3" text-anchor="end" class="t">0</text>
<text x="23.2" y="256.2" text-anchor="end" class="t">1</text>
<text x="23.2" y="210.1" text-anchor="end" class="t">2</text>
<text x="23.2" y="164.0" text-anchor="end" class="t">3</text>
<text x="23.2" y="117.9" text-anchor="end" class="t">4</text>
<text x="23.2" y="71.8" text-anchor="end" class="t">5</text>
<text x="23.2" y="25.7" text-anchor="end" class="t">6</text>
<text x="89.6" y="319.9" text-anchor="middle" class="t">1</text>
<text x="154.4" y="319.9" text-anchor="middle" class="t">2</text>
<text x="219.1" y="319.9" text-anchor="middle" class="t">3</text>
<text x="283.8" y="319.9" text-anchor="middle" class="t">4</text>
<text x="348.6" y="319.9" text-anchor="middle" class="t">5</text>
<text x="413.3" y="319.9" text-anchor="middle" class="t">6</text>
<text x="478.0" y="319.9" text-anchor="middle" class="t">7</text>
<text x="542.7" y="319.9" text-anchor="middle" class="t">8</text>
<text x="607.5" y="319.9" text-anchor="middle" class="t">9</text>
<text x="672.2" y="319.9" text-anchor="middle" class="t">10</text>
<text x="311.2" y="340.3" class="t" textLength="81.5" lengthAdjust="spacingAndGlyphs">Energy [keV]</text>
<text x="36.8" y="13.8" class="t" textLength="45" lengthAdjust="spacingAndGlyphs">cps/eV</text>
<text x="0" y="12.8" class="s">a)</text>
<text x="0.5" y="344.8" class="s" textLength="62.3" lengthAdjust="spacingAndGlyphs">L-FNS0</text>
<path d="M37.5 406.5V687.3M50.5 406.5V687.3M64.5 406.5V687.3M77.5 406.5V687.3M90.5 406.5V687.3M103.5 406.5V687.3M116.5 406.5V687.3M129.5 406.5V687.3M142.5 406.5V687.3M155.5 406.5V687.3M168.5 406.5V687.3M181.5 406.5V687.3M194.5 406.5V687.3M207.5 406.5V687.3M220.5 406.5V687.3M233.5 406.5V687.3M246.5 406.5V687.3M259.5 406.5V687.3M272.5 406.5V687.3M285.5 406.5V687.3M298.5 406.5V687.3M311.5 406.5V687.3M324.5 406.5V687.3M337.5 406.5V687.3M350.5 406.5V687.3M363.5 406.5V687.3M376.5 406.5V687.3M390.5 406.5V687.3M403.5 406.5V687.3M416.5 406.5V687.3M429.5 406.5V687.3M442.5 406.5V687.3M455.5 406.5V687.3M468.5 406.5V687.3M481.5 406.5V687.3M494.5 406.5V687.3M507.5 406.5V687.3M520.5 406.5V687.3M533.5 406.5V687.3M546.5 406.5V687.3M559.5 406.5V687.3M572.5 406.5V687.3M585.5 406.5V687.3M598.5 406.5V687.3M611.5 406.5V687.3M624.5 406.5V687.3M637.5 406.5V687.3M650.5 406.5V687.3M663.5 406.5V687.3M32.8 676.5H676.6M32.8 664.5H676.6M32.8 653.5H676.6M32.8 641.5H676.6M32.8 630.5H676.6M32.8 618.5H676.6M32.8 607.5H676.6M32.8 595.5H676.6M32.8 584.5H676.6M32.8 572.5H676.6M32.8 561.5H676.6M32.8 549.5H676.6M32.8 537.5H676.6M32.8 526.5H676.6M32.8 514.5H676.6M32.8 503.5H676.6M32.8 491.5H676.6M32.8 480.5H676.6M32.8 468.5H676.6M32.8 457.5H676.6M32.8 445.5H676.6M32.8 434.5H676.6M32.8 422.5H676.6M32.8 411.5H676.6" stroke="#eaeaea" stroke-width="1" fill="none"/>
<rect x="33.4" y="511.8" width="18.4" height="19.5" fill="#25f083" opacity="0.82"/><text x="42.6" y="525.9" text-anchor="middle" font-family="Liberation Sans, sans-serif" font-weight="bold" font-size="13.8" fill="#000" textLength="9.0" lengthAdjust="spacingAndGlyphs">K</text>
<rect x="33.4" y="531.3" width="25.1" height="21.8" fill="#f98a24" opacity="0.82"/><text x="46.0" y="546.6" text-anchor="middle" font-family="Liberation Sans, sans-serif" font-weight="bold" font-size="13.8" fill="#000" textLength="16.6" lengthAdjust="spacingAndGlyphs">Ca</text>
<rect x="78.4" y="531.3" width="29.0" height="21.8" fill="#ff10f9" opacity="0.82"/><text x="92.9" y="546.6" text-anchor="middle" font-family="Liberation Sans, sans-serif" font-weight="bold" font-size="13.8" fill="#000" textLength="19.0" lengthAdjust="spacingAndGlyphs">Na</text>
<rect x="110.1" y="531.3" width="23.9" height="21.8" fill="#1af9f9" opacity="0.82"/><text x="122.0" y="546.6" text-anchor="middle" font-family="Liberation Sans, sans-serif" font-weight="bold" font-size="13.8" fill="#000" textLength="14.4" lengthAdjust="spacingAndGlyphs">Al</text>
<polygon points="32.8,687.3 33.05,663.7 33.55,663.7 33.55,665.8 34.05,665.8 34.05,668.3 34.55,668.3 34.55,670.7 35.05,670.7 35.05,674.9 35.55,674.9 35.55,677.3 36.05,677.3 36.05,674.5 36.55,674.5 36.55,672.7 37.05,672.7 37.05,670.6 37.55,670.6 37.55,666.7 38.05,666.7 38.05,666.7 38.55,666.7 38.55,663.4 39.05,663.4 39.05,661.6 39.55,661.6 39.55,660.8 40.05,660.8 40.05,658.7 40.55,658.7 40.55,658.6 41.05,658.6 41.05,657.1 41.55,657.1 41.55,654.0 42.05,654.0 42.05,654.3 42.55,654.3 42.55,654.6 43.05,654.6 43.05,657.3 43.55,657.3 43.55,657.3 44.05,657.3 44.05,663.1 44.55,663.1 44.55,664.7 45.05,664.7 45.05,666.6 45.55,666.6 45.55,669.1 46.05,669.1 46.05,670.4 46.55,670.4 46.55,671.5 47.05,671.5 47.05,673.2 47.55,673.2 47.55,674.2 48.05,674.2 48.05,674.9 48.55,674.9 48.55,676.4 49.05,676.4 49.05,677.9 49.55,677.9 49.55,678.7 50.05,678.7 50.05,678.8 50.55,678.8 50.55,679.2 51.05,679.2 51.05,678.3 51.55,678.3 51.55,678.4 52.05,678.4 52.05,678.2 52.55,678.2 52.55,676.5 53.05,676.5 53.05,674.2 53.55,674.2 53.55,672.3 54.05,672.3 54.05,663.4 54.55,663.4 54.55,653.1 55.05,653.1 55.05,639.1 55.55,639.1 55.55,619.5 56.05,619.5 56.05,589.4 56.55,589.4 56.55,561.1 57.05,561.1 57.05,528.5 57.55,528.5 57.55,498.6 58.05,498.6 58.05,464.2 58.55,464.2 58.55,441.2 59.05,441.2 59.05,442.9 59.55,442.9 59.55,443.8 60.05,443.8 60.05,455.4 60.55,455.4 60.55,473.1 61.05,473.1 61.05,507.6 61.55,507.6 61.55,539.6 62.05,539.6 62.05,573.1 62.55,573.1 62.55,597.2 63.05,597.2 63.05,622.0 63.55,622.0 63.55,641.0 64.05,641.0 64.05,652.7 64.55,652.7 64.55,664.3 65.05,664.3 65.05,668.2 65.55,668.2 65.55,671.6 66.05,671.6 66.05,673.0 66.55,673.0 66.55,673.8 67.05,673.8 67.05,674.1 67.55,674.1 67.55,675.5 68.05,675.5 68.05,674.7 68.55,674.7 68.55,675.2 69.05,675.2 69.05,673.8 69.55,673.8 69.55,673.6 70.05,673.6 70.05,674.8 70.55,674.8 70.55,673.4 71.05,673.4 71.05,673.2 71.55,673.2 71.55,673.8 72.05,673.8 72.05,672.3 72.55,672.3 72.55,673.0 73.05,673.0 73.05,673.0 73.55,673.0 73.55,671.7 74.05,671.7 74.05,673.6 74.55,673.6 74.55,671.8 75.05,671.8 75.05,673.0 75.55,673.0 75.55,672.6 76.05,672.6 76.05,671.8 76.55,671.8 76.55,671.2 77.05,671.2 77.05,671.0 77.55,671.0 77.55,670.6 78.05,670.6 78.05,670.9 78.55,670.9 78.55,670.2 79.05,670.2 79.05,671.3 79.55,671.3 79.55,669.5 80.05,669.5 80.05,669.5 80.55,669.5 80.55,668.8 81.05,668.8 81.05,670.4 81.55,670.4 81.55,669.9 82.05,669.9 82.05,669.5 82.55,669.5 82.55,668.7 83.05,668.7 83.05,669.4 83.55,669.4 83.55,667.7 84.05,667.7 84.05,668.4 84.55,668.4 84.55,669.4 85.05,669.4 85.05,666.9 85.55,666.9 85.55,667.4 86.05,667.4 86.05,668.0 86.55,668.0 86.55,665.5 87.05,665.5 87.05,665.5 87.55,665.5 87.55,665.6 88.05,665.6 88.05,664.4 88.55,664.4 88.55,663.3 89.05,663.3 89.05,660.7 89.55,660.7 89.55,661.0 90.05,661.0 90.05,658.9 90.55,658.9 90.55,658.9 91.05,658.9 91.05,658.4 91.55,658.4 91.55,656.8 92.05,656.8 92.05,655.8 92.55,655.8 92.55,658.8 93.05,658.8 93.05,657.5 93.55,657.5 93.55,656.9 94.05,656.9 94.05,655.9 94.55,655.9 94.55,657.3 95.05,657.3 95.05,659.0 95.55,659.0 95.55,659.1 96.05,659.1 96.05,660.0 96.55,660.0 96.55,661.4 97.05,661.4 97.05,662.9 97.55,662.9 97.55,662.3 98.05,662.3 98.05,662.5 98.55,662.5 98.55,662.5 99.05,662.5 99.05,664.6 99.55,664.6 99.55,663.9 100.05,663.9 100.05,663.5 100.55,663.5 100.55,662.2 101.05,662.2 101.05,661.2 101.55,661.2 101.55,661.5 102.05,661.5 102.05,658.6 102.55,658.6 102.55,660.3 103.05,660.3 103.05,658.0 103.55,658.0 103.55,655.7 104.05,655.7 104.05,653.8 104.55,653.8 104.55,653.5 105.05,653.5 105.05,650.0 105.55,650.0 105.55,650.3 106.05,650.3 106.05,652.4 106.55,652.4 106.55,649.8 107.05,649.8 107.05,650.1 107.55,650.1 107.55,652.7 108.05,652.7 108.05,651.6 108.55,651.6 108.55,653.4 109.05,653.4 109.05,654.0 109.55,654.0 109.55,656.2 110.05,656.2 110.05,658.7 110.55,658.7 110.55,659.3 111.05,659.3 111.05,661.3 111.55,661.3 111.55,661.5 112.05,661.5 112.05,662.4 112.55,662.4 112.55,662.1 113.05,662.1 113.05,662.8 113.55,662.8 113.55,662.6 114.05,662.6 114.05,662.8 114.55,662.8 114.55,663.5 115.05,663.5 115.05,662.1 115.55,662.1 115.55,661.7 116.05,661.7 116.05,661.1 116.55,661.1 116.55,658.5 117.05,658.5 117.05,658.0 117.55,658.0 117.55,655.7 118.05,655.7 118.05,654.7 118.55,654.7 118.55,651.1 119.05,651.1 119.05,651.1 119.55,651.1 119.55,648.7 120.05,648.7 120.05,645.7 120.55,645.7 120.55,643.9 121.05,643.9 121.05,641.6 121.55,641.6 121.55,642.3 122.05,642.3 122.05,643.8 122.55,643.8 122.55,644.0 123.05,644.0 123.05,644.9 123.55,644.9 123.55,647.3 124.05,647.3 124.05,649.9 124.55,649.9 124.55,650.6 125.05,650.6 125.05,653.3 125.55,653.3 125.55,657.0 126.05,657.0 126.05,658.1 126.55,658.1 126.55,659.8 127.05,659.8 127.05,660.9 127.55,660.9 127.55,661.0 128.05,661.0 128.05,661.7 128.55,661.7 128.55,662.0 129.05,662.0 129.05,662.5 129.55,662.5 129.55,663.1 130.05,663.1 130.05,663.3 130.55,663.3 130.55,662.3 131.05,662.3 131.05,660.8 131.55,660.8 131.55,657.8 132.05,657.8 132.05,654.0 132.55,654.0 132.55,649.7 133.05,649.7 133.05,642.4 133.55,642.4 133.55,633.5 134.05,633.5 134.05,622.0 134.55,622.0 134.55,606.7 135.05,606.7 135.05,592.1 135.55,592.1 135.55,577.8 136.05,577.8 136.05,562.0 136.55,562.0 136.55,545.2 137.05,545.2 137.05,538.3 137.55,538.3 137.55,526.6 138.05,526.6 138.05,521.3 138.55,521.3 138.55,527.1 139.05,527.1 139.05,539.0 139.55,539.0 139.55,543.2 140.05,543.2 140.05,563.3 140.55,563.3 140.55,578.8 141.05,578.8 141.05,594.8 141.55,594.8 141.55,606.2 142.05,606.2 142.05,623.9 142.55,623.9 142.55,633.7 143.05,633.7 143.05,642.4 143.55,642.4 143.55,649.7 144.05,649.7 144.05,656.0 144.55,656.0 144.55,660.0 145.05,660.0 145.05,662.2 145.55,662.2 145.55,664.7 146.05,664.7 146.05,663.3 146.55,663.3 146.55,665.5 147.05,665.5 147.05,667.2 147.55,667.2 147.55,666.7 148.05,666.7 148.05,665.8 148.55,665.8 148.55,664.2 149.05,664.2 149.05,665.1 149.55,665.1 149.55,663.1 150.05,663.1 150.05,663.4 150.55,663.4 150.55,659.4 151.05,659.4 151.05,658.7 151.55,658.7 151.55,655.7 152.05,655.7 152.05,649.3 152.55,649.3 152.55,646.8 153.05,646.8 153.05,642.7 153.55,642.7 153.55,634.8 154.05,634.8 154.05,628.2 154.55,628.2 154.55,623.1 155.05,623.1 155.05,616.3 155.55,616.3 155.55,607.1 156.05,607.1 156.05,597.7 156.55,597.7 156.55,592.2 157.05,592.2 157.05,587.0 157.55,587.0 157.55,578.0 158.05,578.0 158.05,573.4 158.55,573.4 158.55,573.9 159.05,573.9 159.05,575.9 159.55,575.9 159.55,570.7 160.05,570.7 160.05,570.7 160.55,570.7 160.55,578.8 161.05,578.8 161.05,584.6 161.55,584.6 161.55,593.0 162.05,593.0 162.05,602.5 162.55,602.5 162.55,607.3 163.05,607.3 163.05,614.5 163.55,614.5 163.55,623.6 164.05,623.6 164.05,629.1 164.55,629.1 164.55,637.3 165.05,637.3 165.05,641.7 165.55,641.7 165.55,650.3 166.05,650.3 166.05,652.6 166.55,652.6 166.55,654.2 167.05,654.2 167.05,656.0 167.55,656.0 167.55,658.8 168.05,658.8 168.05,659.6 168.55,659.6 168.55,660.2 169.05,660.2 169.05,661.7 169.55,661.7 169.55,663.2 170.05,663.2 170.05,662.4 170.55,662.4 170.55,663.0 171.05,663.0 171.05,662.5 171.55,662.5 171.55,661.2 172.05,661.2 172.05,662.0 172.55,662.0 172.55,661.1 173.05,661.1 173.05,662.3 173.55,662.3 173.55,660.4 174.05,660.4 174.05,662.1 174.55,662.1 174.55,661.2 175.05,661.2 175.05,661.4 175.55,661.4 175.55,659.8 176.05,659.8 176.05,659.7 176.55,659.7 176.55,662.8 177.05,662.8 177.05,662.5 177.55,662.5 177.55,663.2 178.05,663.2 178.05,663.4 178.55,663.4 178.55,663.5 179.05,663.5 179.05,664.7 179.55,664.7 179.55,664.2 180.05,664.2 180.05,666.0 180.55,666.0 180.55,664.6 181.05,664.6 181.05,666.0 181.55,666.0 181.55,665.6 182.05,665.6 182.05,666.4 182.55,666.4 182.55,666.6 183.05,666.6 183.05,666.5 183.55,666.5 183.55,668.4 184.05,668.4 184.05,666.0 184.55,666.0 184.55,667.1 185.05,667.1 185.05,667.4 185.55,667.4 185.55,668.4 186.05,668.4 186.05,667.1 186.55,667.1 186.55,668.0 187.05,668.0 187.05,667.0 187.55,667.0 187.55,667.8 188.05,667.8 188.05,667.5 188.55,667.5 188.55,668.1 189.05,668.1 189.05,667.2 189.55,667.2 189.55,667.5 190.05,667.5 190.05,668.0 190.55,668.0 190.55,668.3 191.05,668.3 191.05,667.9 191.55,667.9 191.55,669.1 192.05,669.1 192.05,667.6 192.55,667.6 192.55,668.2 193.05,668.2 193.05,668.0 193.55,668.0 193.55,668.8 194.05,668.8 194.05,668.6 194.55,668.6 194.55,669.1 195.05,669.1 195.05,669.0 195.55,669.0 195.55,669.3 196.05,669.3 196.05,668.9 196.55,668.9 196.55,668.6 197.05,668.6 197.05,668.8 197.55,668.8 197.55,670.8 198.05,670.8 198.05,668.1 198.55,668.1 198.55,669.3 199.05,669.3 199.05,670.8 199.55,670.8 199.55,669.5 200.05,669.5 200.05,669.2 200.55,669.2 200.55,670.5 201.05,670.5 201.05,669.6 201.55,669.6 201.55,670.6 202.05,670.6 202.05,670.0 202.55,670.0 202.55,670.2 203.05,670.2 203.05,671.4 203.55,671.4 203.55,670.3 204.05,670.3 204.05,671.9 204.55,671.9 204.55,671.0 205.05,671.0 205.05,670.3 205.55,670.3 205.55,671.0 206.05,671.0 206.05,672.1 206.55,672.1 206.55,671.1 207.05,671.1 207.05,671.5 207.55,671.5 207.55,672.2 208.05,672.2 208.05,670.7 208.55,670.7 208.55,672.2 209.05,672.2 209.05,670.8 209.55,670.8 209.55,671.5 210.05,671.5 210.05,671.8 210.55,671.8 210.55,672.2 211.05,672.2 211.05,671.7 211.55,671.7 211.55,671.7 212.05,671.7 212.05,670.7 212.55,670.7 212.55,672.4 213.05,672.4 213.05,671.7 213.55,671.7 213.55,672.3 214.05,672.3 214.05,671.8 214.55,671.8 214.55,672.1 215.05,672.1 215.05,673.4 215.55,673.4 215.55,672.3 216.05,672.3 216.05,673.4 216.55,673.4 216.55,673.1 217.05,673.1 217.05,673.0 217.55,673.0 217.55,672.0 218.05,672.0 218.05,673.5 218.55,673.5 218.55,672.9 219.05,672.9 219.05,674.0 219.55,674.0 219.55,672.5 220.05,672.5 220.05,673.1 220.55,673.1 220.55,672.7 221.05,672.7 221.05,673.1 221.55,673.1 221.55,674.1 222.05,674.1 222.05,674.0 222.55,674.0 222.55,673.6 223.05,673.6 223.05,674.1 223.55,674.1 223.55,674.4 224.05,674.4 224.05,673.3 224.55,673.3 224.55,673.8 225.05,673.8 225.05,674.3 225.55,674.3 225.55,672.7 226.05,672.7 226.05,673.6 226.55,673.6 226.55,675.0 227.05,675.0 227.05,673.6 227.55,673.6 227.55,673.8 228.05,673.8 228.05,673.6 228.55,673.6 228.55,673.3 229.05,673.3 229.05,674.9 229.55,674.9 229.55,673.7 230.05,673.7 230.05,673.5 230.55,673.5 230.55,672.3 231.05,672.3 231.05,674.1 231.55,674.1 231.55,673.2 232.05,673.2 232.05,673.3 232.55,673.3 232.55,674.3 233.05,674.3 233.05,674.7 233.55,674.7 233.55,673.0 234.05,673.0 234.05,675.0 234.55,675.0 234.55,674.8 235.05,674.8 235.05,674.1 235.55,674.1 235.55,675.5 236.05,675.5 236.05,673.8 236.55,673.8 236.55,674.1 237.05,674.1 237.05,673.9 237.55,673.9 237.55,674.0 238.05,674.0 238.05,675.5 238.55,675.5 238.55,674.3 239.05,674.3 239.05,673.8 239.55,673.8 239.55,674.6 240.05,674.6 240.05,675.1 240.55,675.1 240.55,675.0 241.05,675.0 241.05,675.5 241.55,675.5 241.55,674.3 242.05,674.3 242.05,674.0 242.55,674.0 242.55,675.2 243.05,675.2 243.05,675.2 243.55,675.2 243.55,674.3 244.05,674.3 244.05,675.4 244.55,675.4 244.55,676.1 245.05,676.1 245.05,674.5 245.55,674.5 245.55,674.7 246.05,674.7 246.05,675.6 246.55,675.6 246.55,675.0 247.05,675.0 247.05,674.9 247.55,674.9 247.55,674.7 248.05,674.7 248.05,675.7 248.55,675.7 248.55,675.9 249.05,675.9 249.05,674.9 249.55,674.9 249.55,675.5 250.05,675.5 250.05,676.1 250.55,676.1 250.55,675.8 251.05,675.8 251.05,674.7 251.55,674.7 251.55,675.6 252.05,675.6 252.05,675.7 252.55,675.7 252.55,675.7 253.05,675.7 253.05,675.4 253.55,675.4 253.55,675.7 254.05,675.7 254.05,675.0 254.55,675.0 254.55,673.8 255.05,673.8 255.05,674.8 255.55,674.8 255.55,673.7 256.05,673.7 256.05,673.1 256.55,673.1 256.55,669.8 257.05,669.8 257.05,668.0 257.55,668.0 257.55,662.9 258.05,662.9 258.05,656.8 258.55,656.8 258.55,650.3 259.05,650.3 259.05,640.0 259.55,640.0 259.55,628.7 260.05,628.7 260.05,612.3 260.55,612.3 260.55,593.6 261.05,593.6 261.05,573.8 261.55,573.8 261.55,549.4 262.05,549.4 262.05,527.7 262.55,527.7 262.55,495.7 263.05,495.7 263.05,470.8 263.55,470.8 263.55,460.1 264.05,460.1 264.05,433.5 264.55,433.5 264.55,426.9 265.05,426.9 265.05,422.5 265.55,422.5 265.55,421.4 266.05,421.4 266.05,428.5 266.55,428.5 266.55,450.5 267.05,450.5 267.05,450.6 267.55,450.6 267.55,486.7 268.05,486.7 268.05,515.7 268.55,515.7 268.55,532.5 269.05,532.5 269.05,556.5 269.55,556.5 269.55,580.2 270.05,580.2 270.05,601.9 270.55,601.9 270.55,615.5 271.05,615.5 271.05,632.2 271.55,632.2 271.55,644.8 272.05,644.8 272.05,654.0 272.55,654.0 272.55,661.1 273.05,661.1 273.05,667.2 273.55,667.2 273.55,669.9 274.05,669.9 274.05,672.9 274.55,672.9 274.55,675.6 275.05,675.6 275.05,676.7 275.55,676.7 275.55,677.1 276.05,677.1 276.05,677.3 276.55,677.3 276.55,676.5 277.05,676.5 277.05,677.9 277.55,677.9 277.55,677.0 278.05,677.0 278.05,676.4 278.55,676.4 278.55,675.9 279.05,675.9 279.05,674.9 279.55,674.9 279.55,673.9 280.05,673.9 280.05,672.5 280.55,672.5 280.55,671.3 281.05,671.3 281.05,668.5 281.55,668.5 281.55,664.4 282.05,664.4 282.05,662.2 282.55,662.2 282.55,659.9 283.05,659.9 283.05,654.7 283.55,654.7 283.55,653.8 284.05,653.8 284.05,651.1 284.55,651.1 284.55,646.9 285.05,646.9 285.05,645.2 285.55,645.2 285.55,646.4 286.05,646.4 286.05,643.4 286.55,643.4 286.55,645.9 287.05,645.9 287.05,646.0 287.55,646.0 287.55,648.8 288.05,648.8 288.05,650.0 288.55,650.0 288.55,654.4 289.05,654.4 289.05,657.9 289.55,657.9 289.55,659.8 290.05,659.8 290.05,662.9 290.55,662.9 290.55,665.7 291.05,665.7 291.05,669.2 291.55,669.2 291.55,671.7 292.05,671.7 292.05,672.9 292.55,672.9 292.55,675.3 293.05,675.3 293.05,677.0 293.55,677.0 293.55,677.4 294.05,677.4 294.05,678.2 294.55,678.2 294.55,678.6 295.05,678.6 295.05,679.4 295.55,679.4 295.55,679.0 296.05,679.0 296.05,680.2 296.55,680.2 296.55,680.1 297.05,680.1 297.05,679.9 297.55,679.9 297.55,681.4 298.05,681.4 298.05,680.2 298.55,680.2 298.55,680.0 299.05,680.0 299.05,680.6 299.55,680.6 299.55,679.2 300.05,679.2 300.05,679.6 300.55,679.6 300.55,679.5 301.05,679.5 301.05,679.9 301.55,679.9 301.55,680.6 302.05,680.6 302.05,680.4 302.55,680.4 302.55,681.3 303.05,681.3 303.05,680.9 303.55,680.9 303.55,681.2 304.05,681.2 304.05,680.5 304.55,680.5 304.55,680.3 305.05,680.3 305.05,681.1 305.55,681.1 305.55,680.3 306.05,680.3 306.05,680.2 306.55,680.2 306.55,681.2 307.05,681.2 307.05,681.1 307.55,681.1 307.55,680.8 308.05,680.8 308.05,681.1 308.55,681.1 308.55,681.2 309.05,681.2 309.05,680.0 309.55,680.0 309.55,680.5 310.05,680.5 310.05,679.8 310.55,679.8 310.55,680.5 311.05,680.5 311.05,680.4 311.55,680.4 311.55,681.5 312.05,681.5 312.05,681.0 312.55,681.0 312.55,680.2 313.05,680.2 313.05,680.7 313.55,680.7 313.55,680.0 314.05,680.0 314.05,680.7 314.55,680.7 314.55,680.9 315.05,680.9 315.05,681.1 315.55,681.1 315.55,679.7 316.05,679.7 316.05,680.5 316.55,680.5 316.55,680.9 317.05,680.9 317.05,680.8 317.55,680.8 317.55,681.5 318.05,681.5 318.05,680.2 318.55,680.2 318.55,681.1 319.05,681.1 319.05,680.5 319.55,680.5 319.55,680.9 320.05,680.9 320.05,680.9 320.55,680.9 320.55,681.4 321.05,681.4 321.05,680.6 321.55,680.6 321.55,681.3 322.05,681.3 322.05,680.1 322.55,680.1 322.55,680.1 323.05,680.1 323.05,681.3 323.55,681.3 323.55,680.8 324.05,680.8 324.05,679.9 324.55,679.9 324.55,680.3 325.05,680.3 325.05,681.0 325.55,681.0 325.55,681.8 326.05,681.8 326.05,681.5 326.55,681.5 326.55,681.5 327.05,681.5 327.05,680.1 327.55,680.1 327.55,681.0 328.05,681.0 328.05,681.3 328.55,681.3 328.55,681.2 329.05,681.2 329.05,681.3 329.55,681.3 329.55,681.0 330.05,681.0 330.05,682.0 330.55,682.0 330.55,681.9 331.05,681.9 331.05,681.0 331.55,681.0 331.55,680.4 332.05,680.4 332.05,682.1 332.55,682.1 332.55,680.9 333.05,680.9 333.05,681.8 333.55,681.8 333.55,682.4 334.05,682.4 334.05,680.6 334.55,680.6 334.55,681.4 335.05,681.4 335.05,681.1 335.55,681.1 335.55,681.6 336.05,681.6 336.05,681.3 336.55,681.3 336.55,682.2 337.05,682.2 337.05,681.5 337.55,681.5 337.55,681.1 338.05,681.1 338.05,681.9 338.55,681.9 338.55,681.2 339.05,681.2 339.05,681.0 339.55,681.0 339.55,682.7 340.05,682.7 340.05,680.8 340.55,680.8 340.55,681.0 341.05,681.0 341.05,681.3 341.55,681.3 341.55,680.6 342.05,680.6 342.05,680.2 342.55,680.2 342.55,681.9 343.05,681.9 343.05,681.1 343.55,681.1 343.55,681.1 344.05,681.1 344.05,681.2 344.55,681.2 344.55,680.8 345.05,680.8 345.05,680.6 345.55,680.6 345.55,681.5 346.05,681.5 346.05,682.6 346.55,682.6 346.55,681.9 347.05,681.9 347.05,681.8 347.55,681.8 347.55,680.8 348.05,680.8 348.05,681.5 348.55,681.5 348.55,680.9 349.05,680.9 349.05,681.9 349.55,681.9 349.55,681.4 350.05,681.4 350.05,681.6 350.55,681.6 350.55,681.6 351.05,681.6 351.05,681.1 351.55,681.1 351.55,680.7 352.05,680.7 352.05,682.1 352.55,682.1 352.55,680.8 353.05,680.8 353.05,680.9 353.55,680.9 353.55,681.3 354.05,681.3 354.05,681.0 354.55,681.0 354.55,681.9 355.05,681.9 355.05,682.1 355.55,682.1 355.55,681.8 356.05,681.8 356.05,681.9 356.55,681.9 356.55,681.9 357.05,681.9 357.05,682.0 357.55,682.0 357.55,680.7 358.05,680.7 358.05,681.9 358.55,681.9 358.55,681.2 359.05,681.2 359.05,681.0 359.55,681.0 359.55,681.7 360.05,681.7 360.05,681.6 360.55,681.6 360.55,682.1 361.05,682.1 361.05,682.3 361.55,682.3 361.55,680.6 362.05,680.6 362.05,681.8 362.55,681.8 362.55,682.8 363.05,682.8 363.05,682.2 363.55,682.2 363.55,682.7 364.05,682.7 364.05,681.9 364.55,681.9 364.55,681.0 365.05,681.0 365.05,681.0 365.55,681.0 365.55,682.1 366.05,682.1 366.05,682.2 366.55,682.2 366.55,681.4 367.05,681.4 367.05,681.7 367.55,681.7 367.55,681.7 368.05,681.7 368.05,680.9 368.55,680.9 368.55,681.7 369.05,681.7 369.05,682.7 369.55,682.7 369.55,682.9 370.05,682.9 370.05,681.9 370.55,681.9 370.55,682.8 371.05,682.8 371.05,681.4 371.55,681.4 371.55,681.3 372.05,681.3 372.05,680.7 372.55,680.7 372.55,682.5 373.05,682.5 373.05,681.8 373.55,681.8 373.55,683.2 374.05,683.2 374.05,682.0 374.55,682.0 374.55,682.0 375.05,682.0 375.05,680.8 375.55,680.8 375.55,682.8 376.05,682.8 376.05,681.6 376.55,681.6 376.55,681.9 377.05,681.9 377.05,680.8 377.55,680.8 377.55,682.5 378.05,682.5 378.05,682.6 378.55,682.6 378.55,681.6 379.05,681.6 379.05,681.9 379.55,681.9 379.55,682.2 380.05,682.2 380.05,682.7 380.55,682.7 380.55,682.2 381.05,682.2 381.05,682.9 381.55,682.9 381.55,682.0 382.05,682.0 382.05,681.7 382.55,681.7 382.55,682.0 383.05,682.0 383.05,680.7 383.55,680.7 383.55,681.6 384.05,681.6 384.05,682.7 384.55,682.7 384.55,682.2 385.05,682.2 385.05,681.6 385.55,681.6 385.55,682.2 386.05,682.2 386.05,681.0 386.55,681.0 386.55,682.0 387.05,682.0 387.05,682.4 387.55,682.4 387.55,682.5 388.05,682.5 388.05,681.9 388.55,681.9 388.55,682.6 389.05,682.6 389.05,683.1 389.55,683.1 389.55,682.1 390.05,682.1 390.05,682.8 390.55,682.8 390.55,681.4 391.05,681.4 391.05,681.0 391.55,681.0 391.55,682.5 392.05,682.5 392.05,682.3 392.55,682.3 392.55,682.4 393.05,682.4 393.05,682.1 393.55,682.1 393.55,682.0 394.05,682.0 394.05,682.8 394.55,682.8 394.55,683.2 395.05,683.2 395.05,682.3 395.55,682.3 395.55,681.4 396.05,681.4 396.05,683.1 396.55,683.1 396.55,682.6 397.05,682.6 397.05,682.6 397.55,682.6 397.55,682.3 398.05,682.3 398.05,683.6 398.55,683.6 398.55,682.3 399.05,682.3 399.05,682.8 399.55,682.8 399.55,681.5 400.05,681.5 400.05,682.1 400.55,682.1 400.55,681.9 401.05,681.9 401.05,682.4 401.55,682.4 401.55,682.5 402.05,682.5 402.05,682.1 402.55,682.1 402.55,683.4 403.05,683.4 403.05,681.9 403.55,681.9 403.55,682.2 404.05,682.2 404.05,682.4 404.55,682.4 404.55,681.7 405.05,681.7 405.05,682.7 405.55,682.7 405.55,682.9 406.05,682.9 406.05,682.3 406.55,682.3 406.55,683.5 407.05,683.5 407.05,682.5 407.55,682.5 407.55,682.8 408.05,682.8 408.05,681.9 408.55,681.9 408.55,681.5 409.05,681.5 409.05,682.2 409.55,682.2 409.55,682.3 410.05,682.3 410.05,682.3 410.55,682.3 410.55,683.0 411.05,683.0 411.05,681.4 411.55,681.4 411.55,681.8 412.05,681.8 412.05,681.6 412.55,681.6 412.55,683.3 413.05,683.3 413.05,682.3 413.55,682.3 413.55,682.3 414.05,682.3 414.05,682.0 414.55,682.0 414.55,683.2 415.05,683.2 415.05,682.4 415.55,682.4 415.55,682.8 416.05,682.8 416.05,681.5 416.55,681.5 416.55,683.3 417.05,683.3 417.05,682.9 417.55,682.9 417.55,683.1 418.05,683.1 418.05,683.4 418.55,683.4 418.55,682.6 419.05,682.6 419.05,682.6 419.55,682.6 419.55,683.0 420.05,683.0 420.05,682.9 420.55,682.9 420.55,682.5 421.05,682.5 421.05,682.8 421.55,682.8 421.55,682.4 422.05,682.4 422.05,683.0 422.55,683.0 422.55,683.3 423.05,683.3 423.05,682.8 423.55,682.8 423.55,683.6 424.05,683.6 424.05,682.0 424.55,682.0 424.55,682.6 425.05,682.6 425.05,683.7 425.55,683.7 425.55,682.6 426.05,682.6 426.05,681.9 426.55,681.9 426.55,683.5 427.05,683.5 427.05,683.3 427.55,683.3 427.55,682.0 428.05,682.0 428.05,683.2 428.55,683.2 428.55,682.3 429.05,682.3 429.05,681.9 429.55,681.9 429.55,682.7 430.05,682.7 430.05,682.6 430.55,682.6 430.55,682.4 431.05,682.4 431.05,682.5 431.55,682.5 431.55,682.2 432.05,682.2 432.05,682.9 432.55,682.9 432.55,682.8 433.05,682.8 433.05,683.1 433.55,683.1 433.55,682.6 434.05,682.6 434.05,682.1 434.55,682.1 434.55,682.1 435.05,682.1 435.05,682.8 435.55,682.8 435.55,683.8 436.05,683.8 436.05,683.3 436.55,683.3 436.55,682.5 437.05,682.5 437.05,683.3 437.55,683.3 437.55,682.2 438.05,682.2 438.05,683.4 438.55,683.4 438.55,682.6 439.05,682.6 439.05,683.3 439.55,683.3 439.55,683.1 440.05,683.1 440.05,682.9 440.55,682.9 440.55,683.3 441.05,683.3 441.05,682.3 441.55,682.3 441.55,682.9 442.05,682.9 442.05,683.5 442.55,683.5 442.55,685.3 443.05,685.3 443.05,683.3 443.55,683.3 443.55,683.0 444.05,683.0 444.05,682.3 444.55,682.3 444.55,683.5 445.05,683.5 445.05,681.9 445.55,681.9 445.55,682.5 446.05,682.5 446.05,683.1 446.55,683.1 446.55,682.3 447.05,682.3 447.05,683.8 447.55,683.8 447.55,683.6 448.05,683.6 448.05,682.6 448.55,682.6 448.55,682.7 449.05,682.7 449.05,682.2 449.55,682.2 449.55,682.2 450.05,682.2 450.05,683.2 450.55,683.2 450.55,683.3 451.05,683.3 451.05,683.2 451.55,683.2 451.55,683.2 452.05,683.2 452.05,682.5 452.55,682.5 452.55,683.2 453.05,683.2 453.05,682.1 453.55,682.1 453.55,683.1 454.05,683.1 454.05,683.6 454.55,683.6 454.55,683.7 455.05,683.7 455.05,682.6 455.55,682.6 455.55,683.0 456.05,683.0 456.05,683.7 456.55,683.7 456.55,684.0 457.05,684.0 457.05,682.2 457.55,682.2 457.55,682.6 458.05,682.6 458.05,683.1 458.55,683.1 458.55,683.8 459.05,683.8 459.05,682.6 459.55,682.6 459.55,683.5 460.05,683.5 460.05,682.9 460.55,682.9 460.55,684.4 461.05,684.4 461.05,683.3 461.55,683.3 461.55,683.0 462.05,683.0 462.05,683.0 462.55,683.0 462.55,683.7 463.05,683.7 463.05,683.5 463.55,683.5 463.55,682.4 464.05,682.4 464.05,683.1 464.55,683.1 464.55,682.5 465.05,682.5 465.05,682.6 465.55,682.6 465.55,682.3 466.05,682.3 466.05,682.4 466.55,682.4 466.55,682.7 467.05,682.7 467.05,682.7 467.55,682.7 467.55,683.2 468.05,683.2 468.05,683.6 468.55,683.6 468.55,683.1 469.05,683.1 469.05,682.4 469.55,682.4 469.55,683.5 470.05,683.5 470.05,682.1 470.55,682.1 470.55,682.2 471.05,682.2 471.05,683.5 471.55,683.5 471.55,683.4 472.05,683.4 472.05,683.8 472.55,683.8 472.55,683.2 473.05,683.2 473.05,682.4 473.55,682.4 473.55,682.7 474.05,682.7 474.05,683.6 474.55,683.6 474.55,682.7 475.05,682.7 475.05,682.9 475.55,682.9 475.55,682.4 476.05,682.4 476.05,682.5 476.55,682.5 476.55,683.6 477.05,683.6 477.05,683.6 477.55,683.6 477.55,682.7 478.05,682.7 478.05,682.4 478.55,682.4 478.55,682.8 479.05,682.8 479.05,683.7 479.55,683.7 479.55,682.6 480.05,682.6 480.05,683.0 480.55,683.0 480.55,682.1 481.05,682.1 481.05,682.5 481.55,682.5 481.55,683.5 482.05,683.5 482.05,683.7 482.55,683.7 482.55,682.6 483.05,682.6 483.05,682.8 483.55,682.8 483.55,683.7 484.05,683.7 484.05,683.0 484.55,683.0 484.55,683.0 485.05,683.0 485.05,683.6 485.55,683.6 485.55,683.5 486.05,683.5 486.05,683.9 486.55,683.9 486.55,683.7 487.05,683.7 487.05,683.0 487.55,683.0 487.55,683.3 488.05,683.3 488.05,683.4 488.55,683.4 488.55,682.6 489.05,682.6 489.05,682.9 489.55,682.9 489.55,684.0 490.05,684.0 490.05,682.4 490.55,682.4 490.55,683.8 491.05,683.8 491.05,683.6 491.55,683.6 491.55,683.3 492.05,683.3 492.05,683.6 492.55,683.6 492.55,683.5 493.05,683.5 493.05,683.9 493.55,683.9 493.55,683.2 494.05,683.2 494.05,683.3 494.55,683.3 494.55,683.3 495.05,683.3 495.05,684.3 495.55,684.3 495.55,684.0 496.05,684.0 496.05,682.8 496.55,682.8 496.55,683.2 497.05,683.2 497.05,683.0 497.55,683.0 497.55,683.3 498.05,683.3 498.05,683.5 498.55,683.5 498.55,684.5 499.05,684.5 499.05,682.3 499.55,682.3 499.55,683.8 500.05,683.8 500.05,683.7 500.55,683.7 500.55,683.0 501.05,683.0 501.05,683.4 501.55,683.4 501.55,683.2 502.05,683.2 502.05,683.4 502.55,683.4 502.55,684.0 503.05,684.0 503.05,682.6 503.55,682.6 503.55,684.2 504.05,684.2 504.05,683.3 504.55,683.3 504.55,684.2 505.05,684.2 505.05,683.7 505.55,683.7 505.55,684.1 506.05,684.1 506.05,683.8 506.55,683.8 506.55,684.1 507.05,684.1 507.05,683.6 507.55,683.6 507.55,683.0 508.05,683.0 508.05,683.8 508.55,683.8 508.55,683.7 509.05,683.7 509.05,684.6 509.55,684.6 509.55,682.4 510.05,682.4 510.05,683.2 510.55,683.2 510.55,684.1 511.05,684.1 511.05,682.9 511.55,682.9 511.55,683.3 512.05,683.3 512.05,684.7 512.55,684.7 512.55,684.2 513.05,684.2 513.05,683.1 513.55,683.1 513.55,684.2 514.05,684.2 514.05,684.2 514.55,684.2 514.55,684.1 515.05,684.1 515.05,683.8 515.55,683.8 515.55,683.7 516.05,683.7 516.05,683.1 516.55,683.1 516.55,683.2 517.05,683.2 517.05,684.0 517.55,684.0 517.55,683.7 518.05,683.7 518.05,684.5 518.55,684.5 518.55,683.4 519.05,683.4 519.05,682.4 519.55,682.4 519.55,683.5 520.05,683.5 520.05,683.6 520.55,683.6 520.55,683.7 521.05,683.7 521.05,683.5 521.55,683.5 521.55,683.2 522.05,683.2 522.05,684.5 522.55,684.5 522.55,683.3 523.05,683.3 523.05,683.9 523.55,683.9 523.55,683.4 524.05,683.4 524.05,683.0 524.55,683.0 524.55,684.4 525.05,684.4 525.05,682.2 525.55,682.2 525.55,683.2 526.05,683.2 526.05,683.9 526.55,683.9 526.55,683.5 527.05,683.5 527.05,684.0 527.55,684.0 527.55,683.5 528.05,683.5 528.05,683.4 528.55,683.4 528.55,684.9 529.05,684.9 529.05,683.5 529.55,683.5 529.55,683.6 530.05,683.6 530.05,683.0 530.55,683.0 530.55,683.3 531.05,683.3 531.05,684.0 531.55,684.0 531.55,684.0 532.05,684.0 532.05,683.6 532.55,683.6 532.55,683.3 533.05,683.3 533.05,684.1 533.55,684.1 533.55,682.7 534.05,682.7 534.05,683.4 534.55,683.4 534.55,683.6 535.05,683.6 535.05,683.4 535.55,683.4 535.55,683.8 536.05,683.8 536.05,683.5 536.55,683.5 536.55,683.3 537.05,683.3 537.05,684.7 537.55,684.7 537.55,684.1 538.05,684.1 538.05,684.4 538.55,684.4 538.55,683.9 539.05,683.9 539.05,684.3 539.55,684.3 539.55,684.3 540.05,684.3 540.05,684.5 540.55,684.5 540.55,685.1 541.05,685.1 541.05,683.7 541.55,683.7 541.55,683.9 542.05,683.9 542.05,683.8 542.55,683.8 542.55,681.9 543.05,681.9 543.05,683.1 543.55,683.1 543.55,683.8 544.05,683.8 544.05,684.1 544.55,684.1 544.55,683.5 545.05,683.5 545.05,684.4 545.55,684.4 545.55,684.6 546.05,684.6 546.05,683.5 546.55,683.5 546.55,684.6 547.05,684.6 547.05,685.0 547.55,685.0 547.55,684.1 548.05,684.1 548.05,683.2 548.55,683.2 548.55,684.7 549.05,684.7 549.05,683.9 549.55,683.9 549.55,683.7 550.05,683.7 550.05,684.0 550.55,684.0 550.55,683.6 551.05,683.6 551.05,684.4 551.55,684.4 551.55,684.5 552.05,684.5 552.05,684.6 552.55,684.6 552.55,684.2 553.05,684.2 553.05,683.4 553.55,683.4 553.55,683.8 554.05,683.8 554.05,684.4 554.55,684.4 554.55,683.7 555.05,683.7 555.05,685.5 555.55,685.5 555.55,683.7 556.05,683.7 556.05,683.6 556.55,683.6 556.55,684.5 557.05,684.5 557.05,684.3 557.55,684.3 557.55,683.8 558.05,683.8 558.05,683.8 558.55,683.8 558.55,684.1 559.05,684.1 559.05,684.4 559.55,684.4 559.55,684.3 560.05,684.3 560.05,683.8 560.55,683.8 560.55,684.2 561.05,684.2 561.05,684.4 561.55,684.4 561.55,684.4 562.05,684.4 562.05,682.2 562.55,682.2 562.55,683.6 563.05,683.6 563.05,683.4 563.55,683.4 563.55,683.8 564.05,683.8 564.05,684.0 564.55,684.0 564.55,684.5 565.05,684.5 565.05,684.4 565.55,684.4 565.55,683.9 566.05,683.9 566.05,684.0 566.55,684.0 566.55,684.9 567.05,684.9 567.05,683.8 567.55,683.8 567.55,684.3 568.05,684.3 568.05,685.0 568.55,685.0 568.55,684.1 569.05,684.1 569.05,682.8 569.55,682.8 569.55,684.3 570.05,684.3 570.05,683.8 570.55,683.8 570.55,684.0 571.05,684.0 571.05,684.7 571.55,684.7 571.55,684.2 572.05,684.2 572.05,684.0 572.55,684.0 572.55,684.6 573.05,684.6 573.05,684.3 573.55,684.3 573.55,684.1 574.05,684.1 574.05,684.3 574.55,684.3 574.55,684.2 575.05,684.2 575.05,684.0 575.55,684.0 575.55,683.9 576.05,683.9 576.05,684.2 576.55,684.2 576.55,683.6 577.05,683.6 577.05,683.5 577.55,683.5 577.55,684.7 578.05,684.7 578.05,684.0 578.55,684.0 578.55,684.1 579.05,684.1 579.05,684.1 579.55,684.1 579.55,684.1 580.05,684.1 580.05,684.1 580.55,684.1 580.55,684.1 581.05,684.1 581.05,683.7 581.55,683.7 581.55,684.8 582.05,684.8 582.05,683.7 582.55,683.7 582.55,684.7 583.05,684.7 583.05,683.2 583.55,683.2 583.55,683.5 584.05,683.5 584.05,684.9 584.55,684.9 584.55,684.1 585.05,684.1 585.05,683.8 585.55,683.8 585.55,684.5 586.05,684.5 586.05,683.7 586.55,683.7 586.55,684.2 587.05,684.2 587.05,683.1 587.55,683.1 587.55,683.9 588.05,683.9 588.05,683.9 588.55,683.9 588.55,684.5 589.05,684.5 589.05,684.6 589.55,684.6 589.55,683.8 590.05,683.8 590.05,685.2 590.55,685.2 590.55,684.0 591.05,684.0 591.05,683.2 591.55,683.2 591.55,683.0 592.05,683.0 592.05,685.1 592.55,685.1 592.55,684.2 593.05,684.2 593.05,683.9 593.55,683.9 593.55,683.8 594.05,683.8 594.05,683.6 594.55,683.6 594.55,684.9 595.05,684.9 595.05,684.2 595.55,684.2 595.55,685.3 596.05,685.3 596.05,684.3 596.55,684.3 596.55,683.0 597.05,683.0 597.05,684.7 597.55,684.7 597.55,684.1 598.05,684.1 598.05,684.1 598.55,684.1 598.55,685.1 599.05,685.1 599.05,684.1 599.55,684.1 599.55,685.0 600.05,685.0 600.05,684.4 600.55,684.4 600.55,683.8 601.05,683.8 601.05,684.6 601.55,684.6 601.55,684.1 602.05,684.1 602.05,685.0 602.55,685.0 602.55,684.9 603.05,684.9 603.05,684.3 603.55,684.3 603.55,684.6 604.05,684.6 604.05,684.7 604.55,684.7 604.55,684.3 605.05,684.3 605.05,684.8 605.55,684.8 605.55,684.2 606.05,684.2 606.05,684.8 606.55,684.8 606.55,683.8 607.05,683.8 607.05,684.5 607.55,684.5 607.55,684.6 608.05,684.6 608.05,684.0 608.55,684.0 608.55,684.3 609.05,684.3 609.05,684.1 609.55,684.1 609.55,684.8 610.05,684.8 610.05,684.0 610.55,684.0 610.55,684.6 611.05,684.6 611.05,685.3 611.55,685.3 611.55,684.7 612.05,684.7 612.05,683.6 612.55,683.6 612.55,684.6 613.05,684.6 613.05,685.0 613.55,685.0 613.55,684.3 614.05,684.3 614.05,685.1 614.55,685.1 614.55,684.8 615.05,684.8 615.05,684.7 615.55,684.7 615.55,684.3 616.05,684.3 616.05,684.2 616.55,684.2 616.55,684.3 617.05,684.3 617.05,684.5 617.55,684.5 617.55,684.7 618.05,684.7 618.05,684.8 618.55,684.8 618.55,684.3 619.05,684.3 619.05,684.6 619.55,684.6 619.55,684.6 620.05,684.6 620.05,683.6 620.55,683.6 620.55,684.1 621.05,684.1 621.05,684.0 621.55,684.0 621.55,684.4 622.05,684.4 622.05,684.3 622.55,684.3 622.55,684.3 623.05,684.3 623.05,684.1 623.55,684.1 623.55,684.9 624.05,684.9 624.05,684.6 624.55,684.6 624.55,683.7 625.05,683.7 625.05,684.5 625.55,684.5 625.55,683.9 626.05,683.9 626.05,685.5 626.55,685.5 626.55,684.3 627.05,684.3 627.05,684.5 627.55,684.5 627.55,684.5 628.05,684.5 628.05,684.5 628.55,684.5 628.55,684.6 629.05,684.6 629.05,685.3 629.55,685.3 629.55,684.6 630.05,684.6 630.05,685.1 630.55,685.1 630.55,685.2 631.05,685.2 631.05,684.1 631.55,684.1 631.55,685.6 632.05,685.6 632.05,685.0 632.55,685.0 632.55,685.1 633.05,685.1 633.05,684.0 633.55,684.0 633.55,685.1 634.05,685.1 634.05,684.8 634.55,684.8 634.55,684.4 635.05,684.4 635.05,685.9 635.55,685.9 635.55,684.9 636.05,684.9 636.05,684.6 636.55,684.6 636.55,684.8 637.05,684.8 637.05,685.2 637.55,685.2 637.55,685.2 638.05,685.2 638.05,685.0 638.55,685.0 638.55,685.3 639.05,685.3 639.05,685.5 639.55,685.5 639.55,683.9 640.05,683.9 640.05,684.4 640.55,684.4 640.55,684.2 641.05,684.2 641.05,684.8 641.55,684.8 641.55,685.5 642.05,685.5 642.05,685.1 642.55,685.1 642.55,684.1 643.05,684.1 643.05,684.4 643.55,684.4 643.55,685.2 644.05,685.2 644.05,684.4 644.55,684.4 644.55,684.7 645.05,684.7 645.05,684.9 645.55,684.9 645.55,683.7 646.05,683.7 646.05,685.1 646.55,685.1 646.55,685.0 647.05,685.0 647.05,685.0 647.55,685.0 647.55,684.2 648.05,684.2 648.05,684.3 648.55,684.3 648.55,684.5 649.05,684.5 649.05,684.9 649.55,684.9 649.55,684.7 650.05,684.7 650.05,684.9 650.55,684.9 650.55,685.7 651.05,685.7 651.05,685.5 651.55,685.5 651.55,684.4 652.05,684.4 652.05,684.5 652.55,684.5 652.55,685.8 653.05,685.8 653.05,684.6 653.55,684.6 653.55,685.6 654.05,685.6 654.05,685.6 654.55,685.6 654.55,684.6 655.05,684.6 655.05,684.7 655.55,684.7 655.55,684.9 656.05,684.9 656.05,684.3 656.55,684.3 656.55,684.2 657.05,684.2 657.05,684.7 657.55,684.7 657.55,685.3 658.05,685.3 658.05,684.6 658.55,684.6 658.55,684.7 659.05,684.7 659.05,684.6 659.55,684.6 659.55,684.1 660.05,684.1 660.05,685.6 660.55,685.6 660.55,683.6 661.05,683.6 661.05,684.5 661.55,684.5 661.55,685.2 662.05,685.2 662.05,684.2 662.55,684.2 662.55,685.3 663.05,685.3 663.05,685.6 663.55,685.6 663.55,684.3 664.05,684.3 664.05,685.0 664.55,685.0 664.55,684.3 665.05,684.3 665.05,685.2 665.55,685.2 665.55,684.9 666.05,684.9 666.05,685.0 666.55,685.0 666.55,685.6 667.05,685.6 667.05,685.2 667.55,685.2 667.55,685.7 668.05,685.7 668.05,685.3 668.55,685.3 668.55,684.2 669.05,684.2 669.05,685.1 669.55,685.1 669.55,685.2 670.05,685.2 670.05,684.1 670.55,684.1 670.55,685.7 671.05,685.7 671.05,685.1 671.55,685.1 671.55,685.2 672.05,685.2 672.05,684.5 672.55,684.5 672.55,685.0 673.05,685.0 673.05,685.1 673.55,685.1 673.55,684.7 674.05,684.7 674.05,687.3" fill="#52a8ca"/>
<line x1="41.50" y1="575.4" x2="41.50" y2="687.3" stroke="#44ee99" stroke-width="1.5" opacity="0.9"/>
<line x1="44.50" y1="584.4" x2="44.50" y2="687.3" stroke="#ee9944" stroke-width="1.0" opacity="0.9"/>
<line x1="47.50" y1="575.4" x2="47.50" y2="687.3" stroke="#ee9944" stroke-width="1.5" opacity="0.9"/>
<line x1="48.50" y1="672.0" x2="48.50" y2="687.3" stroke="#44ee99" stroke-width="1.0" opacity="0.9"/>
<line x1="51.50" y1="657.8" x2="51.50" y2="687.3" stroke="#ee9944" stroke-width="1.5" opacity="0.9"/>
<line x1="59.50" y1="572.7" x2="59.50" y2="687.3" stroke="#44dd44" stroke-width="1.0" opacity="0.9"/>
<line x1="92.50" y1="575.4" x2="92.50" y2="687.3" stroke="#ee44ee" stroke-width="1.5" opacity="0.9"/>
<line x1="106.50" y1="575.4" x2="106.50" y2="687.3" stroke="#4444ee" stroke-width="1.5" opacity="0.9"/>
<line x1="121.50" y1="575.4" x2="121.50" y2="687.3" stroke="#33eeee" stroke-width="1.0" opacity="0.9"/>
<line x1="138.50" y1="572.7" x2="138.50" y2="687.3" stroke="#ee44ee" stroke-width="1.0" opacity="0.9"/>
<line x1="144.50" y1="678.0" x2="144.50" y2="687.3" stroke="#ee44ee" stroke-width="1.0" opacity="0.9"/>
<line x1="240.50" y1="575.9" x2="240.50" y2="687.3" stroke="#44ee99" stroke-width="1.5" opacity="0.95"/>
<line x1="258.50" y1="673.0" x2="258.50" y2="687.3" stroke="#44ee99" stroke-width="1.0" opacity="0.9"/>
<line x1="265.50" y1="575.9" x2="265.50" y2="687.3" stroke="#ee9944" stroke-width="1.0" opacity="0.8"/>
<line x1="286.50" y1="673.0" x2="286.50" y2="687.3" stroke="#ee9944" stroke-width="1.0" opacity="0.9"/>
<rect x="49.0" y="550.9" width="20.9" height="21.8" fill="#1af01a" opacity="0.82"/><text x="59.5" y="566.2" text-anchor="middle" font-family="Liberation Sans, sans-serif" font-weight="bold" font-size="13.8" fill="#000" textLength="10.2" lengthAdjust="spacingAndGlyphs">O</text>
<rect x="90.4" y="550.9" width="32.6" height="21.8" fill="#2525f3" opacity="0.82"/><text x="106.7" y="566.2" text-anchor="middle" font-family="Liberation Sans, sans-serif" font-weight="bold" font-size="13.8" fill="#fff" textLength="22.2" lengthAdjust="spacingAndGlyphs">Mg</text>
<rect x="128.3" y="550.9" width="21.7" height="21.8" fill="#ff10f9" opacity="0.82"/><text x="139.2" y="566.2" text-anchor="middle" font-family="Liberation Sans, sans-serif" font-weight="bold" font-size="13.8" fill="#000" textLength="12.0" lengthAdjust="spacingAndGlyphs">Si</text>
<rect x="232.0" y="551.0" width="18.9" height="21.7" fill="#25f083" opacity="0.82"/><text x="241.4" y="566.2" text-anchor="middle" font-family="Liberation Sans, sans-serif" font-weight="bold" font-size="13.8" fill="#000" textLength="9.0" lengthAdjust="spacingAndGlyphs">K</text>
<rect x="252.4" y="551.0" width="26.7" height="21.7" fill="#f98a24" opacity="0.82"/><text x="265.8" y="566.2" text-anchor="middle" font-family="Liberation Sans, sans-serif" font-weight="bold" font-size="13.8" fill="#000" textLength="16.6" lengthAdjust="spacingAndGlyphs">Ca</text>
<defs><clipPath id="cB"><rect x="368.6" y="410.1" width="305.19999999999993" height="259.0"/></clipPath>
<filter id="tB" filterUnits="userSpaceOnUse" x="268.6" y="310.1" width="505.19999999999993" height="459.0" color-interpolation-filters="sRGB"><feTurbulence type="fractalNoise" baseFrequency="0.06" numOctaves="5" seed="5" result="t"/><feDiffuseLighting in="t" surfaceScale="4" diffuseConstant="1" lighting-color="#fff" result="l"><feDistantLight azimuth="235" elevation="45"/></feDiffuseLighting><feGaussianBlur in="l" stdDeviation="0.4" result="lb"/><feColorMatrix in="lb" type="matrix" values="1.05 0 0 0 -0.21400000000000008  1.05 0 0 0 -0.21400000000000008  1.05 0 0 0 -0.21400000000000008  0 0 0 0 1" result="o1"/><feTurbulence type="fractalNoise" baseFrequency="0.8" numOctaves="2" seed="12" result="t2"/><feColorMatrix in="t2" type="matrix" values="1 0 0 0 0 1 0 0 0 0 1 0 0 0 0 0 0 0 0 1" result="g2"/><feComposite in="o1" in2="g2" operator="arithmetic" k1="0" k2="1" k3="0.25" k4="-0.125"/></filter>
<filter id="kB" filterUnits="userSpaceOnUse" x="268.6" y="310.1" width="505.19999999999993" height="459.0" color-interpolation-filters="sRGB"><feTurbulence type="fractalNoise" baseFrequency="0.1" numOctaves="4" seed="8" result="t"/><feColorMatrix in="t" type="matrix" values="1 0 0 0 0 1 0 0 0 0 1 0 0 0 0 0 0 0 0 1" result="g"/><feComponentTransfer in="g"><feFuncR type="table" tableValues="0.1 0.35 0.5 0.5 0.6 0.8 1"/><feFuncG type="table" tableValues="0.1 0.35 0.5 0.5 0.6 0.8 1"/><feFuncB type="table" tableValues="0.1 0.35 0.5 0.5 0.6 0.8 1"/></feComponentTransfer><feGaussianBlur stdDeviation="0.6"/></filter>
<filter id="tBs" filterUnits="userSpaceOnUse" x="268.6" y="310.1" width="505.19999999999993" height="459.0" color-interpolation-filters="sRGB"><feTurbulence type="fractalNoise" baseFrequency="0.08" numOctaves="4" seed="6" result="t"/><feDiffuseLighting in="t" surfaceScale="1.5" diffuseConstant="1" lighting-color="#fff" result="l"><feDistantLight azimuth="235" elevation="45"/></feDiffuseLighting><feGaussianBlur in="l" stdDeviation="0.4" result="lb"/><feColorMatrix in="lb" type="matrix" values="0.55 0 0 0 0.12599999999999995  0.55 0 0 0 0.12599999999999995  0.55 0 0 0 0.12599999999999995  0 0 0 0 1" result="o1"/><feTurbulence type="fractalNoise" baseFrequency="0.6" numOctaves="2" seed="13" result="t2"/><feColorMatrix in="t2" type="matrix" values="1 0 0 0 0 1 0 0 0 0 1 0 0 0 0 0 0 0 0 1" result="g2"/><feComposite in="o1" in2="g2" operator="arithmetic" k1="0" k2="1" k3="0.1" k4="-0.05"/></filter>
<mask id="mB" maskUnits="userSpaceOnUse" x="368.6" y="410.1" width="305.19999999999993" height="259.0"><rect x="368.6" y="410.1" width="305.19999999999993" height="259.0" fill="#fff"/><polygon points="368,543 379,544 388,550 401,557 419,556 433,552 446,547 464,545 480,545 493,548 521,549 540,546 553,543 562,545 572,552 585,566 605,570 630,575 655,578 674,580 674,610 655,608 630,604 605,600 588,595 575,588 565,578 545,572 521,563 480,566 435,569 400,572 390,580 380,584 368,584" fill="#000" filter="url(#bB1)"/></mask>
<mask id="mBs" maskUnits="userSpaceOnUse" x="368.6" y="410.1" width="305.19999999999993" height="259.0"><polygon points="368,543 379,544 388,550 401,557 419,556 433,552 446,547 464,545 480,545 493,548 521,549 540,546 553,543 562,545 572,552 585,566 605,570 630,575 655,578 674,580 674,610 655,608 630,604 605,600 588,595 575,588 565,578 545,572 521,563 480,566 435,569 400,572 390,580 380,584 368,584" fill="#fff" filter="url(#bB1)"/></mask>
<filter id="dB" filterUnits="userSpaceOnUse" x="368.6" y="410.1" width="305.19999999999993" height="259.0"><feTurbulence type="fractalNoise" baseFrequency="0.1" numOctaves="3" seed="7" result="t"/><feDisplacementMap in="SourceGraphic" in2="t" scale="8" xChannelSelector="R" yChannelSelector="G"/></filter>
<filter id="bB" x="-50%" y="-50%" width="200%" height="200%"><feGaussianBlur stdDeviation="2.5"/></filter>
<filter id="bB2" x="-50%" y="-50%" width="200%" height="200%"><feGaussianBlur stdDeviation="6"/></filter>
<filter id="bB1" x="-50%" y="-50%" width="200%" height="200%"><feGaussianBlur stdDeviation="1.2"/></filter>
</defs>
<g clip-path="url(#cB)" style="isolation:isolate">
<rect x="368.6" y="410.1" width="305.19999999999993" height="259.0" fill="#9a9a9a"/>
<polygon points="372,418 400,412 412,430 414,470 398,478 375,482" fill="#acacac" filter="url(#bB)"/>
<polygon points="376,500 392,484 418,486 428,505 430,540 405,548 385,545 376,530" fill="#b0b0b0" filter="url(#bB)"/>
<polygon points="425,415 470,412 478,440 470,470 445,478 428,460" fill="#a8a8a8" filter="url(#bB)"/>
<polygon points="470,492 500,485 516,500 520,525 500,530 475,528" fill="#aaaaaa" filter="url(#bB)"/>
<polygon points="490,440 515,425 530,440 528,470 505,480" fill="#a2a2a2" filter="url(#bB)"/>
<polygon points="485,410 545,410 540,430 500,435" fill="#a6a6a6" filter="url(#bB)"/>
<polygon points="520,420 560,415 600,420 640,430 660,460 640,520 600,530 560,528 530,520" fill="#707070" filter="url(#bB2)"/>
<polygon points="555,430 575,425 578,448 560,452" fill="#bcbcbc" filter="url(#bB1)"/>
<polygon points="600,425 640,418 660,430 640,445" fill="#9e9e9e" filter="url(#bB)"/>
<ellipse cx="668" cy="458" rx="9" ry="22" fill="#c0c0c0" filter="url(#bB)"/>
<ellipse cx="650" cy="525" rx="12" ry="15" fill="#b8b8b8" filter="url(#bB)"/>
<ellipse cx="535" cy="500" rx="12" ry="20" fill="#b4b4b4" filter="url(#bB)"/>
<polygon points="409,410 424,410 429,450 432,500 428,515 421,500 416,470 411,440" fill="#4a4a4a" filter="url(#bB)"/>
<path d="M414 410 L417 440 L419 470 L424 500 L428 528" stroke="#2e2e2e" stroke-width="3" fill="none" filter="url(#bB1)"/>
<polygon points="588,470 605,462 625,480 628,525 610,532 595,515" fill="#747474" filter="url(#bB)"/>
<polygon points="520,445 532,440 545,480 550,522 538,525 528,490" fill="#6c6c6c" filter="url(#bB)"/>
<path d="M368 480 L382 478 L398 482 L414 478" stroke="#454545" stroke-width="3.5" fill="none" filter="url(#bB1)"/>
<path d="M436 465 Q450 450 468 458 L470 486 Q450 492 438 480Z" fill="#6c6c6c" filter="url(#bB)"/>
<path d="M476 412 L486 430 L500 436 L522 426" stroke="#555" stroke-width="3" fill="none" filter="url(#bB1)"/>
<path d="M430 520 L470 512 L520 505" stroke="#5a5a5a" stroke-width="2.5" fill="none" filter="url(#bB1)"/>
<path d="M470 488 Q495 478 520 485" stroke="#c4c4c4" stroke-width="4" fill="none" filter="url(#bB1)"/>
<path d="M527 450 L540 490 L548 525" stroke="#606060" stroke-width="4" fill="none" filter="url(#bB1)"/>
<path d="M612 470 L625 505 L630 530" stroke="#5e5e5e" stroke-width="4" fill="none" filter="url(#bB1)"/>
<path d="M580 470 L590 520" stroke="#666" stroke-width="3" fill="none" filter="url(#bB1)"/>
<rect x="368" y="590" width="155" height="62" fill="#969696" filter="url(#bB2)"/>
<rect x="520" y="606" width="155" height="46" fill="#808080" filter="url(#bB2)"/>
<ellipse cx="385" cy="610" rx="14" ry="12" fill="#c4c4c4" filter="url(#bB)"/>
<ellipse cx="440" cy="625" rx="15" ry="10" fill="#b8b8b8" filter="url(#bB)"/>
<ellipse cx="520" cy="630" rx="16" ry="12" fill="#b4b4b4" filter="url(#bB)"/>
<ellipse cx="655" cy="640" rx="14" ry="10" fill="#c0c0c0" filter="url(#bB)"/>
<path d="M480 585 L474 605 L471 630 L468 645" stroke="#2a2a2a" stroke-width="2.5" fill="none" filter="url(#bB1)"/>
<path d="M440 600 L466 588" stroke="#3a3a3a" stroke-width="2" fill="none" filter="url(#bB1)"/>
<path d="M505 600 L520 598" stroke="#3a3a3a" stroke-width="2" fill="none" filter="url(#bB1)"/>
<path d="M640 620 L655 600" stroke="#555" stroke-width="3" fill="none" filter="url(#bB1)"/>
<g filter="url(#dB)">
<polygon points="430,553 433,541 441,533 452,529 462,531 472,528 483,530 490,537 492,546 480,547 450,551" fill="#161616" filter="url(#bB1)"/>
<polygon points="598,536 625,534 650,535 666,540 668,566 640,568 603,567" fill="#4c4c4c" filter="url(#bB1)"/>
<polygon points="655,538 664,536 668,555 660,560" fill="#262626" filter="url(#bB1)"/>
<polygon points="564,548 568,541 580,539 595,539 604,542 606,560 600,566 585,565 572,560" fill="#111111" filter="url(#bB1)"/>
<polygon points="640,578 642,560 647,548 650,546 654,556 657,578" fill="#c4c4c4" filter="url(#bB1)"/>
<polygon points="497,500 508,496 518,505 520,540 510,546 500,540" fill="#484848" filter="url(#bB)"/>
</g>
<polygon points="368,543 379,544 388,550 401,557 419,556 433,552 446,547 464,545 480,545 493,548 521,549 540,546 553,543 562,545 572,552 585,566 605,570 630,575 655,578 674,580 674,610 655,608 630,604 605,600 588,595 575,588 565,578 545,572 521,563 480,566 435,569 400,572 390,580 380,584 368,584" fill="#9c9c9c" filter="url(#bB1)"/>
<ellipse cx="378" cy="562" rx="10" ry="18" fill="#b8b8b8" filter="url(#bB)"/>
<path d="M368 545 L379 545 L388 551 L401 558 L419 557 L433 553 L446 548 L464 546 L480 546 L493 549 L521 550 L545 546" stroke="#c8c8c8" stroke-width="3" fill="none" filter="url(#bB1)"/>
<path d="M545 548 Q560 538 578 556" stroke="#cacaca" stroke-width="9" fill="none" filter="url(#bB)"/>
<ellipse cx="554" cy="552" rx="9" ry="8" fill="#cccccc" filter="url(#bB1)"/>
<path d="M590 585 Q620 592 674 598" stroke="#9c9c9c" stroke-width="10" fill="none" filter="url(#bB)"/>
<path d="M368 586 L380 586 L390 582 L400 574 L435 571 L480 568 L521 565 L545 574 L565 580 L575 590 L588 597 L605 602 L630 606 L655 610 L674 612" stroke="#5e5e5e" stroke-width="2" fill="none" filter="url(#bB1)"/>
<g style="mix-blend-mode:overlay" mask="url(#mB)"><rect x="268.6" y="310.1" width="505.19999999999993" height="459.0" fill="#808080" filter="url(#tB)" transform="rotate(0 521.2 539.6)"/></g>
<g style="mix-blend-mode:overlay" mask="url(#mB)"><rect x="268.6" y="310.1" width="505.19999999999993" height="459.0" fill="#808080" filter="url(#kB)" transform="rotate(0 521.2 539.6)"/></g>
<g style="mix-blend-mode:overlay" mask="url(#mBs)"><rect x="268.6" y="310.1" width="505.19999999999993" height="459.0" fill="#808080" filter="url(#tBs)" transform="rotate(0 521.2 539.6)"/></g>
<path d="M368 544 L379 545 L388 551 L401 558 L419 557 L433 553 L446 548 L464 546 L480 546 L493 549 L521 550 L540 547 L553 544 L562 546 L572 553 L585 567 L605 571 L630 576 L655 579 L674 581" stroke="#c4c4c4" stroke-width="2.5" fill="none" filter="url(#bB1)" opacity="0.9"/>
<path d="M368 586 L380 586 L390 582 L400 574 L435 571 L480 568 L521 565 L545 574 L565 580 L575 590 L588 597 L605 602 L630 606 L655 610 L674 612" stroke="#4e4e4e" stroke-width="2" fill="none" filter="url(#bB1)" opacity="0.9"/>
<circle cx="511" cy="617.5" r="27.5" fill="none" stroke="#e4e44a" stroke-width="1"/>
<text x="472" y="585.5" font-family="Liberation Sans, sans-serif" font-size="5.5" fill="#22bb22" textLength="28" lengthAdjust="spacingAndGlyphs">Spectrum 1</text>
<line x1="556.5" y1="546.5" x2="480.3" y2="491.3" stroke="#f0f000" stroke-width="1.5"/><polygon points="473.0,486.0 483.8,488.1 478.4,495.6" fill="#f0f000"/>
<line x1="563.0" y1="532.0" x2="554.5" y2="510.0" stroke="#f0f000" stroke-width="1.5"/><polygon points="551.2,501.6 559.1,509.3 550.5,512.6" fill="#f0f000"/>
<line x1="551.2" y1="557.4" x2="504.0" y2="570.6" stroke="#f0f000" stroke-width="1.5"/><polygon points="495.3,573.0 503.7,565.9 506.2,574.7" fill="#f0f000"/>
<line x1="564.5" y1="562.0" x2="546.4" y2="580.1" stroke="#f0f000" stroke-width="1.5"/><polygon points="540.0,586.5 543.8,576.2 550.3,582.7" fill="#f0f000"/>
<text x="577" y="558.8" font-family="Liberation Serif, serif" font-size="17" fill="#f0f000" textLength="28" lengthAdjust="spacingAndGlyphs">ASR</text>
<text x="582.4" y="461" font-family="Liberation Serif, serif" font-size="16" fill="#f0f000" textLength="66" lengthAdjust="spacingAndGlyphs">Aggregate</text>
<rect x="368.6" y="652.5" width="305.19999999999993" height="16.600000000000023" fill="#1e1e1e" opacity="0.78"/>
<text x="373.6" y="666.9" font-family="Liberation Sans, sans-serif" font-weight="bold" font-size="6.8" fill="#d4d4d4" textLength="32.2" lengthAdjust="spacingAndGlyphs">MAG: 2000x</text>
<text x="412.2" y="666.9" font-family="Liberation Sans, sans-serif" font-weight="bold" font-size="6.8" fill="#d4d4d4" textLength="25.9" lengthAdjust="spacingAndGlyphs">HV: 10 kV</text>
<text x="444.0" y="666.9" font-family="Liberation Sans, sans-serif" font-weight="bold" font-size="6.8" fill="#d4d4d4" textLength="34.8" lengthAdjust="spacingAndGlyphs">WD: 10.6 mm</text>
<path d="M616.5 660.8000000000001H664.3M616.5 657.0000000000001V664.6M664.3 657.0000000000001V664.6" stroke="#f0f0f0" stroke-width="1.1"/>
<text x="640.4" y="658.2" text-anchor="middle" font-family="Liberation Sans, sans-serif" font-weight="bold" font-size="6.3" fill="#e8e8e8" textLength="16" lengthAdjust="spacingAndGlyphs">10 µm</text>
</g>
<line x1="32.8" y1="406.5" x2="677.1" y2="406.5" stroke="#555" stroke-width="1.6"/>
<line x1="32.8" y1="406.5" x2="32.8" y2="687.3" stroke="#888" stroke-width="1.3"/>
<line x1="676.6" y1="406.5" x2="676.6" y2="687.3" stroke="#bbb" stroke-width="1.2"/>
<line x1="32.8" y1="687.3" x2="676.6" y2="687.3" stroke="#777" stroke-width="1.3"/>
<path d="M28.3 687.30H32.8M28.3 675.77H32.8M28.3 664.25H32.8M28.3 652.72H32.8M28.3 641.20H32.8M28.3 629.67H32.8M28.3 618.15H32.8M28.3 606.62H32.8M28.3 595.10H32.8M28.3 583.57H32.8M28.3 572.05H32.8M28.3 560.52H32.8M28.3 549.00H32.8M28.3 537.47H32.8M28.3 525.95H32.8M28.3 514.42H32.8M28.3 502.90H32.8M28.3 491.37H32.8M28.3 479.85H32.8M28.3 468.32H32.8M28.3 456.80H32.8M28.3 445.27H32.8M28.3 433.75H32.8M28.3 422.22H32.8M28.3 410.70H32.8M37.94 687.3V691.1M50.98 687.3V691.1M64.02 687.3V691.1M77.06 687.3V691.1M90.10 687.3V693.8M103.14 687.3V691.1M116.18 687.3V691.1M129.22 687.3V691.1M142.26 687.3V691.1M155.30 687.3V693.8M168.34 687.3V691.1M181.38 687.3V691.1M194.42 687.3V691.1M207.46 687.3V691.1M220.50 687.3V693.8M233.54 687.3V691.1M246.58 687.3V691.1M259.62 687.3V691.1M272.66 687.3V691.1M285.70 687.3V693.8M298.74 687.3V691.1M311.78 687.3V691.1M324.82 687.3V691.1M337.86 687.3V691.1M350.90 687.3V693.8M363.94 687.3V691.1M376.98 687.3V691.1M390.02 687.3V691.1M403.06 687.3V691.1M416.10 687.3V693.8M429.14 687.3V691.1M442.18 687.3V691.1M455.22 687.3V691.1M468.26 687.3V691.1M481.30 687.3V693.8M494.34 687.3V691.1M507.38 687.3V691.1M520.42 687.3V691.1M533.46 687.3V691.1M546.50 687.3V693.8M559.54 687.3V691.1M572.58 687.3V691.1M585.62 687.3V691.1M598.66 687.3V691.1M611.70 687.3V693.8M624.74 687.3V691.1M637.78 687.3V691.1M650.82 687.3V691.1M663.86 687.3V691.1M676.90 687.3V693.8" stroke="#444" stroke-width="1.3" fill="none"/>
<text x="23.2" y="692.3" text-anchor="end" class="t">0</text>
<text x="23.2" y="646.2" text-anchor="end" class="t">2</text>
<text x="23.2" y="600.1" text-anchor="end" class="t">4</text>
<text x="23.2" y="554.0" text-anchor="end" class="t">6</text>
<text x="23.2" y="507.9" text-anchor="end" class="t">8</text>
<text x="23.2" y="461.8" text-anchor="end" class="t">10</text>
<text x="23.2" y="415.7" text-anchor="end" class="t">12</text>
<text x="90.1" y="709.9" text-anchor="middle" class="t">1</text>
<text x="155.3" y="709.9" text-anchor="middle" class="t">2</text>
<text x="220.5" y="709.9" text-anchor="middle" class="t">3</text>
<text x="285.7" y="709.9" text-anchor="middle" class="t">4</text>
<text x="350.9" y="709.9" text-anchor="middle" class="t">5</text>
<text x="416.1" y="709.9" text-anchor="middle" class="t">6</text>
<text x="481.3" y="709.9" text-anchor="middle" class="t">7</text>
<text x="546.5" y="709.9" text-anchor="middle" class="t">8</text>
<text x="611.7" y="709.9" text-anchor="middle" class="t">9</text>
<text x="676.9" y="709.9" text-anchor="middle" class="t">10</text>
<text x="313.5" y="729.1" class="t" textLength="81.5" lengthAdjust="spacingAndGlyphs">Energy [keV]</text>
<text x="36.8" y="401.9" class="t" textLength="45" lengthAdjust="spacingAndGlyphs">cps/eV</text>
<text x="0" y="400.4" class="s">b)</text>
<text x="0.5" y="731.7" class="s" textLength="77.0" lengthAdjust="spacingAndGlyphs">M-FNS50</text>
<path d="M37.5 796.5V1077.3M50.5 796.5V1077.3M63.5 796.5V1077.3M76.5 796.5V1077.3M89.5 796.5V1077.3M102.5 796.5V1077.3M115.5 796.5V1077.3M128.5 796.5V1077.3M141.5 796.5V1077.3M154.5 796.5V1077.3M167.5 796.5V1077.3M180.5 796.5V1077.3M194.5 796.5V1077.3M207.5 796.5V1077.3M220.5 796.5V1077.3M233.5 796.5V1077.3M246.5 796.5V1077.3M259.5 796.5V1077.3M272.5 796.5V1077.3M285.5 796.5V1077.3M298.5 796.5V1077.3M311.5 796.5V1077.3M324.5 796.5V1077.3M337.5 796.5V1077.3M350.5 796.5V1077.3M363.5 796.5V1077.3M376.5 796.5V1077.3M389.5 796.5V1077.3M402.5 796.5V1077.3M415.5 796.5V1077.3M428.5 796.5V1077.3M441.5 796.5V1077.3M454.5 796.5V1077.3M467.5 796.5V1077.3M480.5 796.5V1077.3M493.5 796.5V1077.3M506.5 796.5V1077.3M520.5 796.5V1077.3M533.5 796.5V1077.3M546.5 796.5V1077.3M559.5 796.5V1077.3M572.5 796.5V1077.3M585.5 796.5V1077.3M598.5 796.5V1077.3M611.5 796.5V1077.3M624.5 796.5V1077.3M637.5 796.5V1077.3M650.5 796.5V1077.3M663.5 796.5V1077.3M32.4 1069.5H676.6M32.4 1060.5H676.6M32.4 1051.5H676.6M32.4 1043.5H676.6M32.4 1034.5H676.6M32.4 1025.5H676.6M32.4 1016.5H676.6M32.4 1008.5H676.6M32.4 999.5H676.6M32.4 990.5H676.6M32.4 982.5H676.6M32.4 973.5H676.6M32.4 964.5H676.6M32.4 956.5H676.6M32.4 947.5H676.6M32.4 938.5H676.6M32.4 930.5H676.6M32.4 921.5H676.6M32.4 912.5H676.6M32.4 904.5H676.6M32.4 895.5H676.6M32.4 886.5H676.6M32.4 877.5H676.6M32.4 869.5H676.6M32.4 860.5H676.6M32.4 851.5H676.6M32.4 843.5H676.6M32.4 834.5H676.6M32.4 825.5H676.6M32.4 817.5H676.6M32.4 808.5H676.6M32.4 799.5H676.6" stroke="#eaeaea" stroke-width="1" fill="none"/>
<rect x="32.8" y="901.9" width="18.7" height="21.1" fill="#ffed02" opacity="0.82"/><text x="42.1" y="916.9" text-anchor="middle" font-family="Liberation Sans, sans-serif" font-weight="bold" font-size="13.8" fill="#000" textLength="9.0" lengthAdjust="spacingAndGlyphs">K</text>
<rect x="32.8" y="921.5" width="25.2" height="21.2" fill="#ff10f9" opacity="0.82"/><text x="45.4" y="936.5" text-anchor="middle" font-family="Liberation Sans, sans-serif" font-weight="bold" font-size="13.8" fill="#000" textLength="16.6" lengthAdjust="spacingAndGlyphs">Ca</text>
<rect x="90.0" y="901.9" width="32.3" height="21.4" fill="#ed1f1f" opacity="0.82"/><text x="106.2" y="917.0" text-anchor="middle" font-family="Liberation Sans, sans-serif" font-weight="bold" font-size="13.8" fill="#000" textLength="22.2" lengthAdjust="spacingAndGlyphs">Mg</text>
<rect x="109.4" y="921.5" width="24.1" height="21.2" fill="#ed1f1f" opacity="0.82"/><text x="121.5" y="936.5" text-anchor="middle" font-family="Liberation Sans, sans-serif" font-weight="bold" font-size="13.8" fill="#000" textLength="14.4" lengthAdjust="spacingAndGlyphs">Al</text>
<polygon points="32.4,1077.3 32.65,1057.3 33.15,1057.3 33.15,1057.6 33.65,1057.6 33.65,1060.2 34.15,1060.2 34.15,1062.0 34.65,1062.0 34.65,1064.1 35.15,1064.1 35.15,1065.5 35.65,1065.5 35.65,1064.2 36.15,1064.2 36.15,1062.9 36.65,1062.9 36.65,1059.7 37.15,1059.7 37.15,1057.8 37.65,1057.8 37.65,1053.1 38.15,1053.1 38.15,1050.4 38.65,1050.4 38.65,1045.7 39.15,1045.7 39.15,1042.4 39.65,1042.4 39.65,1036.2 40.15,1036.2 40.15,1033.8 40.65,1033.8 40.65,1028.4 41.15,1028.4 41.15,1026.8 41.65,1026.8 41.65,1021.7 42.15,1021.7 42.15,1019.9 42.65,1019.9 42.65,1023.2 43.15,1023.2 43.15,1027.4 43.65,1027.4 43.65,1029.4 44.15,1029.4 44.15,1032.9 44.65,1032.9 44.65,1037.3 45.15,1037.3 45.15,1042.0 45.65,1042.0 45.65,1048.0 46.15,1048.0 46.15,1054.7 46.65,1054.7 46.65,1058.8 47.15,1058.8 47.15,1062.4 47.65,1062.4 47.65,1064.4 48.15,1064.4 48.15,1066.3 48.65,1066.3 48.65,1066.8 49.15,1066.8 49.15,1066.4 49.65,1066.4 49.65,1067.4 50.15,1067.4 50.15,1066.9 50.65,1066.9 50.65,1066.9 51.15,1066.9 51.15,1066.6 51.65,1066.6 51.65,1065.4 52.15,1065.4 52.15,1063.1 52.65,1063.1 52.65,1061.3 53.15,1061.3 53.15,1057.3 53.65,1057.3 53.65,1047.6 54.15,1047.6 54.15,1036.7 54.65,1036.7 54.65,1019.6 55.15,1019.6 55.15,993.8 55.65,993.8 55.65,965.1 56.15,965.1 56.15,925.8 56.65,925.8 56.65,892.1 57.15,892.1 57.15,847.6 57.65,847.6 57.65,835.2 58.15,835.2 58.15,807.9 58.65,807.9 58.65,797.5 59.15,797.5 59.15,797.5 59.65,797.5 59.65,813.2 60.15,813.2 60.15,841.1 60.65,841.1 60.65,874.3 61.15,874.3 61.15,910.0 61.65,910.0 61.65,942.0 62.15,942.0 62.15,978.5 62.65,978.5 62.65,1003.4 63.15,1003.4 63.15,1024.0 63.65,1024.0 63.65,1040.1 64.15,1040.1 64.15,1051.3 64.65,1051.3 64.65,1058.0 65.15,1058.0 65.15,1061.2 65.65,1061.2 65.65,1064.2 66.15,1064.2 66.15,1064.6 66.65,1064.6 66.65,1064.7 67.15,1064.7 67.15,1065.4 67.65,1065.4 67.65,1065.9 68.15,1065.9 68.15,1066.1 68.65,1066.1 68.65,1064.5 69.15,1064.5 69.15,1065.2 69.65,1065.2 69.65,1065.2 70.15,1065.2 70.15,1064.0 70.65,1064.0 70.65,1064.7 71.15,1064.7 71.15,1065.0 71.65,1065.0 71.65,1065.1 72.15,1065.1 72.15,1063.5 72.65,1063.5 72.65,1064.2 73.15,1064.2 73.15,1063.7 73.65,1063.7 73.65,1063.3 74.15,1063.3 74.15,1063.6 74.65,1063.6 74.65,1063.5 75.15,1063.5 75.15,1062.3 75.65,1062.3 75.65,1063.0 76.15,1063.0 76.15,1063.2 76.65,1063.2 76.65,1061.8 77.15,1061.8 77.15,1062.6 77.65,1062.6 77.65,1061.9 78.15,1061.9 78.15,1062.1 78.65,1062.1 78.65,1062.5 79.15,1062.5 79.15,1062.9 79.65,1062.9 79.65,1061.6 80.15,1061.6 80.15,1061.1 80.65,1061.1 80.65,1062.6 81.15,1062.6 81.15,1061.0 81.65,1061.0 81.65,1060.8 82.15,1060.8 82.15,1060.2 82.65,1060.2 82.65,1061.8 83.15,1061.8 83.15,1060.5 83.65,1060.5 83.65,1061.0 84.15,1061.0 84.15,1060.2 84.65,1060.2 84.65,1059.1 85.15,1059.1 85.15,1058.3 85.65,1058.3 85.65,1057.0 86.15,1057.0 86.15,1056.1 86.65,1056.1 86.65,1054.6 87.15,1054.6 87.15,1053.2 87.65,1053.2 87.65,1050.4 88.15,1050.4 88.15,1047.7 88.65,1047.7 88.65,1044.9 89.15,1044.9 89.15,1043.4 89.65,1043.4 89.65,1036.1 90.15,1036.1 90.15,1037.2 90.65,1037.2 90.65,1033.5 91.15,1033.5 91.15,1032.6 91.65,1032.6 91.65,1031.1 92.15,1031.1 92.15,1030.1 92.65,1030.1 92.65,1032.8 93.15,1032.8 93.15,1030.6 93.65,1030.6 93.65,1035.2 94.15,1035.2 94.15,1037.3 94.65,1037.3 94.65,1038.3 95.15,1038.3 95.15,1043.9 95.65,1043.9 95.65,1046.0 96.15,1046.0 96.15,1047.8 96.65,1047.8 96.65,1050.0 97.15,1050.0 97.15,1053.4 97.65,1053.4 97.65,1053.9 98.15,1053.9 98.15,1055.8 98.65,1055.8 98.65,1055.5 99.15,1055.5 99.15,1056.8 99.65,1056.8 99.65,1056.5 100.15,1056.5 100.15,1057.3 100.65,1057.3 100.65,1056.3 101.15,1056.3 101.15,1056.1 101.65,1056.1 101.65,1054.1 102.15,1054.1 102.15,1053.5 102.65,1053.5 102.65,1053.7 103.15,1053.7 103.15,1052.1 103.65,1052.1 103.65,1052.2 104.15,1052.2 104.15,1050.5 104.65,1050.5 104.65,1048.5 105.15,1048.5 105.15,1049.3 105.65,1049.3 105.65,1049.1 106.15,1049.1 106.15,1049.6 106.65,1049.6 106.65,1048.5 107.15,1048.5 107.15,1050.0 107.65,1050.0 107.65,1050.4 108.15,1050.4 108.15,1051.0 108.65,1051.0 108.65,1052.4 109.15,1052.4 109.15,1052.3 109.65,1052.3 109.65,1054.3 110.15,1054.3 110.15,1055.5 110.65,1055.5 110.65,1056.5 111.15,1056.5 111.15,1057.9 111.65,1057.9 111.65,1057.5 112.15,1057.5 112.15,1058.7 112.65,1058.7 112.65,1060.2 113.15,1060.2 113.15,1058.5 113.65,1058.5 113.65,1058.2 114.15,1058.2 114.15,1058.8 114.65,1058.8 114.65,1059.2 115.15,1059.2 115.15,1058.4 115.65,1058.4 115.65,1057.3 116.15,1057.3 116.15,1057.2 116.65,1057.2 116.65,1056.9 117.15,1056.9 117.15,1055.0 117.65,1055.0 117.65,1054.2 118.15,1054.2 118.15,1052.0 118.65,1052.0 118.65,1050.8 119.15,1050.8 119.15,1049.8 119.65,1049.8 119.65,1048.2 120.15,1048.2 120.15,1047.3 120.65,1047.3 120.65,1048.3 121.15,1048.3 121.15,1047.5 121.65,1047.5 121.65,1048.9 122.15,1048.9 122.15,1048.3 122.65,1048.3 122.65,1050.6 123.15,1050.6 123.15,1050.0 123.65,1050.0 123.65,1051.0 124.15,1051.0 124.15,1054.0 124.65,1054.0 124.65,1053.4 125.15,1053.4 125.15,1056.0 125.65,1056.0 125.65,1056.1 126.15,1056.1 126.15,1057.1 126.65,1057.1 126.65,1058.2 127.15,1058.2 127.15,1060.1 127.65,1060.1 127.65,1059.3 128.15,1059.3 128.15,1061.4 128.65,1061.4 128.65,1061.9 129.15,1061.9 129.15,1058.8 129.65,1058.8 129.65,1059.5 130.15,1059.5 130.15,1058.5 130.65,1058.5 130.65,1057.6 131.15,1057.6 131.15,1055.6 131.65,1055.6 131.65,1053.8 132.15,1053.8 132.15,1050.6 132.65,1050.6 132.65,1044.5 133.15,1044.5 133.15,1038.2 133.65,1038.2 133.65,1030.6 134.15,1030.6 134.15,1018.9 134.65,1018.9 134.65,1007.9 135.15,1007.9 135.15,1000.1 135.65,1000.1 135.65,988.0 136.15,988.0 136.15,971.9 136.65,971.9 136.65,962.6 137.15,962.6 137.15,961.9 137.65,961.9 137.65,956.5 138.15,956.5 138.15,959.4 138.65,959.4 138.65,963.2 139.15,963.2 139.15,975.1 139.65,975.1 139.65,978.6 140.15,978.6 140.15,989.8 140.65,989.8 140.65,1005.1 141.15,1005.1 141.15,1019.8 141.65,1019.8 141.65,1028.5 142.15,1028.5 142.15,1036.4 142.65,1036.4 142.65,1044.8 143.15,1044.8 143.15,1050.0 143.65,1050.0 143.65,1052.3 144.15,1052.3 144.15,1055.5 144.65,1055.5 144.65,1058.4 145.15,1058.4 145.15,1060.1 145.65,1060.1 145.65,1059.5 146.15,1059.5 146.15,1060.2 146.65,1060.2 146.65,1060.7 147.15,1060.7 147.15,1059.3 147.65,1059.3 147.65,1058.9 148.15,1058.9 148.15,1059.9 148.65,1059.9 148.65,1059.4 149.15,1059.4 149.15,1058.2 149.65,1058.2 149.65,1056.6 150.15,1056.6 150.15,1056.2 150.65,1056.2 150.65,1053.8 151.15,1053.8 151.15,1051.2 151.65,1051.2 151.65,1049.0 152.15,1049.0 152.15,1044.8 152.65,1044.8 152.65,1040.5 153.15,1040.5 153.15,1034.8 153.65,1034.8 153.65,1031.9 154.15,1031.9 154.15,1025.8 154.65,1025.8 154.65,1017.1 155.15,1017.1 155.15,1010.4 155.65,1010.4 155.65,1004.4 156.15,1004.4 156.15,998.4 156.65,998.4 156.65,996.1 157.15,996.1 157.15,985.5 157.65,985.5 157.65,981.8 158.15,981.8 158.15,982.5 158.65,982.5 158.65,982.4 159.15,982.4 159.15,983.9 159.65,983.9 159.65,988.0 160.15,988.0 160.15,993.2 160.65,993.2 160.65,994.0 161.15,994.0 161.15,998.5 161.65,998.5 161.65,1003.9 162.15,1003.9 162.15,1013.7 162.65,1013.7 162.65,1020.6 163.15,1020.6 163.15,1025.4 163.65,1025.4 163.65,1032.0 164.15,1032.0 164.15,1035.9 164.65,1035.9 164.65,1042.1 165.15,1042.1 165.15,1044.4 165.65,1044.4 165.65,1046.9 166.15,1046.9 166.15,1051.0 166.65,1051.0 166.65,1051.6 167.15,1051.6 167.15,1054.6 167.65,1054.6 167.65,1054.9 168.15,1054.9 168.15,1057.0 168.65,1057.0 168.65,1057.1 169.15,1057.1 169.15,1057.4 169.65,1057.4 169.65,1056.8 170.15,1056.8 170.15,1057.0 170.65,1057.0 170.65,1057.6 171.15,1057.6 171.15,1057.0 171.65,1057.0 171.65,1056.8 172.15,1056.8 172.15,1057.6 172.65,1057.6 172.65,1056.1 173.15,1056.1 173.15,1055.7 173.65,1055.7 173.65,1056.1 174.15,1056.1 174.15,1055.7 174.65,1055.7 174.65,1056.7 175.15,1056.7 175.15,1054.3 175.65,1054.3 175.65,1056.3 176.15,1056.3 176.15,1055.8 176.65,1055.8 176.65,1057.1 177.15,1057.1 177.15,1056.3 177.65,1056.3 177.65,1059.2 178.15,1059.2 178.15,1058.4 178.65,1058.4 178.65,1058.8 179.15,1058.8 179.15,1059.2 179.65,1059.2 179.65,1058.3 180.15,1058.3 180.15,1060.5 180.65,1060.5 180.65,1061.2 181.15,1061.2 181.15,1060.4 181.65,1060.4 181.65,1060.6 182.15,1060.6 182.15,1060.7 182.65,1060.7 182.65,1059.8 183.15,1059.8 183.15,1060.7 183.65,1060.7 183.65,1061.0 184.15,1061.0 184.15,1061.9 184.65,1061.9 184.65,1060.6 185.15,1060.6 185.15,1060.9 185.65,1060.9 185.65,1061.8 186.15,1061.8 186.15,1061.4 186.65,1061.4 186.65,1062.1 187.15,1062.1 187.15,1061.6 187.65,1061.6 187.65,1061.1 188.15,1061.1 188.15,1061.2 188.65,1061.2 188.65,1060.8 189.15,1060.8 189.15,1062.4 189.65,1062.4 189.65,1060.6 190.15,1060.6 190.15,1061.6 190.65,1061.6 190.65,1061.8 191.15,1061.8 191.15,1061.9 191.65,1061.9 191.65,1062.6 192.15,1062.6 192.15,1061.6 192.65,1061.6 192.65,1062.2 193.15,1062.2 193.15,1061.6 193.65,1061.6 193.65,1062.4 194.15,1062.4 194.15,1063.8 194.65,1063.8 194.65,1061.4 195.15,1061.4 195.15,1062.9 195.65,1062.9 195.65,1062.5 196.15,1062.5 196.15,1063.5 196.65,1063.5 196.65,1062.9 197.15,1062.9 197.15,1061.1 197.65,1061.1 197.65,1063.4 198.15,1063.4 198.15,1062.4 198.65,1062.4 198.65,1063.0 199.15,1063.0 199.15,1062.6 199.65,1062.6 199.65,1062.2 200.15,1062.2 200.15,1063.3 200.65,1063.3 200.65,1064.1 201.15,1064.1 201.15,1063.9 201.65,1063.9 201.65,1062.9 202.15,1062.9 202.15,1063.9 202.65,1063.9 202.65,1063.3 203.15,1063.3 203.15,1064.0 203.65,1064.0 203.65,1063.9 204.15,1063.9 204.15,1064.4 204.65,1064.4 204.65,1063.5 205.15,1063.5 205.15,1064.3 205.65,1064.3 205.65,1063.6 206.15,1063.6 206.15,1063.9 206.65,1063.9 206.65,1063.9 207.15,1063.9 207.15,1064.8 207.65,1064.8 207.65,1064.3 208.15,1064.3 208.15,1064.5 208.65,1064.5 208.65,1064.6 209.15,1064.6 209.15,1065.0 209.65,1065.0 209.65,1063.3 210.15,1063.3 210.15,1065.9 210.65,1065.9 210.65,1064.6 211.15,1064.6 211.15,1064.1 211.65,1064.1 211.65,1065.5 212.15,1065.5 212.15,1066.2 212.65,1066.2 212.65,1065.1 213.15,1065.1 213.15,1064.6 213.65,1064.6 213.65,1065.1 214.15,1065.1 214.15,1066.3 214.65,1066.3 214.65,1065.0 215.15,1065.0 215.15,1065.0 215.65,1065.0 215.65,1065.5 216.15,1065.5 216.15,1066.9 216.65,1066.9 216.65,1065.4 217.15,1065.4 217.15,1066.4 217.65,1066.4 217.65,1064.6 218.15,1064.6 218.15,1065.2 218.65,1065.2 218.65,1066.8 219.15,1066.8 219.15,1065.8 219.65,1065.8 219.65,1064.9 220.15,1064.9 220.15,1066.4 220.65,1066.4 220.65,1066.6 221.15,1066.6 221.15,1066.2 221.65,1066.2 221.65,1065.9 222.15,1065.9 222.15,1066.4 222.65,1066.4 222.65,1066.2 223.15,1066.2 223.15,1065.7 223.65,1065.7 223.65,1066.0 224.15,1066.0 224.15,1066.7 224.65,1066.7 224.65,1066.1 225.15,1066.1 225.15,1066.6 225.65,1066.6 225.65,1065.2 226.15,1065.2 226.15,1066.7 226.65,1066.7 226.65,1066.7 227.15,1066.7 227.15,1066.1 227.65,1066.1 227.65,1067.3 228.15,1067.3 228.15,1068.6 228.65,1068.6 228.65,1067.6 229.15,1067.6 229.15,1066.0 229.65,1066.0 229.65,1067.8 230.15,1067.8 230.15,1067.1 230.65,1067.1 230.65,1067.0 231.15,1067.0 231.15,1066.8 231.65,1066.8 231.65,1067.4 232.15,1067.4 232.15,1068.1 232.65,1068.1 232.65,1067.4 233.15,1067.4 233.15,1067.2 233.65,1067.2 233.65,1067.2 234.15,1067.2 234.15,1067.2 234.65,1067.2 234.65,1068.1 235.15,1068.1 235.15,1068.8 235.65,1068.8 235.65,1066.9 236.15,1066.9 236.15,1067.8 236.65,1067.8 236.65,1067.9 237.15,1067.9 237.15,1067.7 237.65,1067.7 237.65,1068.1 238.15,1068.1 238.15,1068.4 238.65,1068.4 238.65,1067.1 239.15,1067.1 239.15,1067.2 239.65,1067.2 239.65,1068.8 240.15,1068.8 240.15,1068.4 240.65,1068.4 240.65,1068.6 241.15,1068.6 241.15,1068.0 241.65,1068.0 241.65,1068.2 242.15,1068.2 242.15,1068.5 242.65,1068.5 242.65,1068.2 243.15,1068.2 243.15,1068.0 243.65,1068.0 243.65,1068.5 244.15,1068.5 244.15,1069.2 244.65,1069.2 244.65,1067.8 245.15,1067.8 245.15,1069.1 245.65,1069.1 245.65,1069.4 246.15,1069.4 246.15,1068.6 246.65,1068.6 246.65,1068.9 247.15,1068.9 247.15,1068.9 247.65,1068.9 247.65,1069.1 248.15,1069.1 248.15,1069.4 248.65,1069.4 248.65,1068.5 249.15,1068.5 249.15,1068.1 249.65,1068.1 249.65,1069.8 250.15,1069.8 250.15,1069.4 250.65,1069.4 250.65,1069.6 251.15,1069.6 251.15,1069.3 251.65,1069.3 251.65,1070.3 252.15,1070.3 252.15,1068.5 252.65,1068.5 252.65,1070.2 253.15,1070.2 253.15,1068.9 253.65,1068.9 253.65,1069.5 254.15,1069.5 254.15,1070.1 254.65,1070.1 254.65,1068.3 255.15,1068.3 255.15,1068.5 255.65,1068.5 255.65,1067.9 256.15,1067.9 256.15,1066.1 256.65,1066.1 256.65,1064.9 257.15,1064.9 257.15,1062.1 257.65,1062.1 257.65,1057.6 258.15,1057.6 258.15,1055.1 258.65,1055.1 258.65,1048.7 259.15,1048.7 259.15,1040.3 259.65,1040.3 259.65,1029.5 260.15,1029.5 260.15,1021.9 260.65,1021.9 260.65,1006.7 261.15,1006.7 261.15,992.3 261.65,992.3 261.65,977.7 262.15,977.7 262.15,961.3 262.65,961.3 262.65,954.6 263.15,954.6 263.15,933.8 263.65,933.8 263.65,926.6 264.15,926.6 264.15,920.1 264.65,920.1 264.65,917.9 265.15,917.9 265.15,920.2 265.65,920.2 265.65,924.6 266.15,924.6 266.15,929.1 266.65,929.1 266.65,940.3 267.15,940.3 267.15,954.1 267.65,954.1 267.65,970.1 268.15,970.1 268.15,984.8 268.65,984.8 268.65,997.2 269.15,997.2 269.15,1009.6 269.65,1009.6 269.65,1026.1 270.15,1026.1 270.15,1034.9 270.65,1034.9 270.65,1043.8 271.15,1043.8 271.15,1051.8 271.65,1051.8 271.65,1056.1 272.15,1056.1 272.15,1060.7 272.65,1060.7 272.65,1063.9 273.15,1063.9 273.15,1066.7 273.65,1066.7 273.65,1068.2 274.15,1068.2 274.15,1068.6 274.65,1068.6 274.65,1069.8 275.15,1069.8 275.15,1071.0 275.65,1071.0 275.65,1071.2 276.15,1071.2 276.15,1071.3 276.65,1071.3 276.65,1071.0 277.15,1071.0 277.15,1070.5 277.65,1070.5 277.65,1070.3 278.15,1070.3 278.15,1070.5 278.65,1070.5 278.65,1068.8 279.15,1068.8 279.15,1069.1 279.65,1069.1 279.65,1067.1 280.15,1067.1 280.15,1067.2 280.65,1067.2 280.65,1065.6 281.15,1065.6 281.15,1064.3 281.65,1064.3 281.65,1063.5 282.15,1063.5 282.15,1060.8 282.65,1060.8 282.65,1059.8 283.15,1059.8 283.15,1058.1 283.65,1058.1 283.65,1056.7 284.15,1056.7 284.15,1056.2 284.65,1056.2 284.65,1054.1 285.15,1054.1 285.15,1054.5 285.65,1054.5 285.65,1053.6 286.15,1053.6 286.15,1054.0 286.65,1054.0 286.65,1054.9 287.15,1054.9 287.15,1055.6 287.65,1055.6 287.65,1056.9 288.15,1056.9 288.15,1058.8 288.65,1058.8 288.65,1061.1 289.15,1061.1 289.15,1061.8 289.65,1061.8 289.65,1063.5 290.15,1063.5 290.15,1065.5 290.65,1065.5 290.65,1068.0 291.15,1068.0 291.15,1068.7 291.65,1068.7 291.65,1069.2 292.15,1069.2 292.15,1070.3 292.65,1070.3 292.65,1070.3 293.15,1070.3 293.15,1071.0 293.65,1071.0 293.65,1071.6 294.15,1071.6 294.15,1072.1 294.65,1072.1 294.65,1071.6 295.15,1071.6 295.15,1072.0 295.65,1072.0 295.65,1072.9 296.15,1072.9 296.15,1073.0 296.65,1073.0 296.65,1071.8 297.15,1071.8 297.15,1072.9 297.65,1072.9 297.65,1073.5 298.15,1073.5 298.15,1072.5 298.65,1072.5 298.65,1073.0 299.15,1073.0 299.15,1072.2 299.65,1072.2 299.65,1073.2 300.15,1073.2 300.15,1072.4 300.65,1072.4 300.65,1072.3 301.15,1072.3 301.15,1072.9 301.65,1072.9 301.65,1074.2 302.15,1074.2 302.15,1072.7 302.65,1072.7 302.65,1072.3 303.15,1072.3 303.15,1073.2 303.65,1073.2 303.65,1073.0 304.15,1073.0 304.15,1073.9 304.65,1073.9 304.65,1072.5 305.15,1072.5 305.15,1072.2 305.65,1072.2 305.65,1072.9 306.15,1072.9 306.15,1073.2 306.65,1073.2 306.65,1073.4 307.15,1073.4 307.15,1073.6 307.65,1073.6 307.65,1072.4 308.15,1072.4 308.15,1072.7 308.65,1072.7 308.65,1073.0 309.15,1073.0 309.15,1073.7 309.65,1073.7 309.65,1073.4 310.15,1073.4 310.15,1072.9 310.65,1072.9 310.65,1072.6 311.15,1072.6 311.15,1073.6 311.65,1073.6 311.65,1073.6 312.15,1073.6 312.15,1074.7 312.65,1074.7 312.65,1073.1 313.15,1073.1 313.15,1074.1 313.65,1074.1 313.65,1072.5 314.15,1072.5 314.15,1072.8 314.65,1072.8 314.65,1072.8 315.15,1072.8 315.15,1072.9 315.65,1072.9 315.65,1072.8 316.15,1072.8 316.15,1073.0 316.65,1073.0 316.65,1073.1 317.15,1073.1 317.15,1073.0 317.65,1073.0 317.65,1073.4 318.15,1073.4 318.15,1073.1 318.65,1073.1 318.65,1073.2 319.15,1073.2 319.15,1073.9 319.65,1073.9 319.65,1073.3 320.15,1073.3 320.15,1073.4 320.65,1073.4 320.65,1073.3 321.15,1073.3 321.15,1073.3 321.65,1073.3 321.65,1073.6 322.15,1073.6 322.15,1073.1 322.65,1073.1 322.65,1074.0 323.15,1074.0 323.15,1074.1 323.65,1074.1 323.65,1074.1 324.15,1074.1 324.15,1073.2 324.65,1073.2 324.65,1072.5 325.15,1072.5 325.15,1073.2 325.65,1073.2 325.65,1073.5 326.15,1073.5 326.15,1073.9 326.65,1073.9 326.65,1073.3 327.15,1073.3 327.15,1073.2 327.65,1073.2 327.65,1074.3 328.15,1074.3 328.15,1073.1 328.65,1073.1 328.65,1073.9 329.15,1073.9 329.15,1073.9 329.65,1073.9 329.65,1072.8 330.15,1072.8 330.15,1073.6 330.65,1073.6 330.65,1073.2 331.15,1073.2 331.15,1073.0 331.65,1073.0 331.65,1072.5 332.15,1072.5 332.15,1072.5 332.65,1072.5 332.65,1073.8 333.15,1073.8 333.15,1073.4 333.65,1073.4 333.65,1073.7 334.15,1073.7 334.15,1073.1 334.65,1073.1 334.65,1073.4 335.15,1073.4 335.15,1073.5 335.65,1073.5 335.65,1072.9 336.15,1072.9 336.15,1072.7 336.65,1072.7 336.65,1073.9 337.15,1073.9 337.15,1073.8 337.65,1073.8 337.65,1073.2 338.15,1073.2 338.15,1073.7 338.65,1073.7 338.65,1074.0 339.15,1074.0 339.15,1074.5 339.65,1074.5 339.65,1073.2 340.15,1073.2 340.15,1074.0 340.65,1074.0 340.65,1074.8 341.15,1074.8 341.15,1073.7 341.65,1073.7 341.65,1074.6 342.15,1074.6 342.15,1072.3 342.65,1072.3 342.65,1074.4 343.15,1074.4 343.15,1073.7 343.65,1073.7 343.65,1072.7 344.15,1072.7 344.15,1074.1 344.65,1074.1 344.65,1074.2 345.15,1074.2 345.15,1074.3 345.65,1074.3 345.65,1074.3 346.15,1074.3 346.15,1073.7 346.65,1073.7 346.65,1073.4 347.15,1073.4 347.15,1073.6 347.65,1073.6 347.65,1073.8 348.15,1073.8 348.15,1074.1 348.65,1074.1 348.65,1073.6 349.15,1073.6 349.15,1073.9 349.65,1073.9 349.65,1074.2 350.15,1074.2 350.15,1074.0 350.65,1074.0 350.65,1075.1 351.15,1075.1 351.15,1075.0 351.65,1075.0 351.65,1073.2 352.15,1073.2 352.15,1073.5 352.65,1073.5 352.65,1073.1 353.15,1073.1 353.15,1073.1 353.65,1073.1 353.65,1074.2 354.15,1074.2 354.15,1073.3 354.65,1073.3 354.65,1073.3 355.15,1073.3 355.15,1073.8 355.65,1073.8 355.65,1074.4 356.15,1074.4 356.15,1073.7 356.65,1073.7 356.65,1073.7 357.15,1073.7 357.15,1074.3 357.65,1074.3 357.65,1074.0 358.15,1074.0 358.15,1074.0 358.65,1074.0 358.65,1074.5 359.15,1074.5 359.15,1073.3 359.65,1073.3 359.65,1074.1 360.15,1074.1 360.15,1073.7 360.65,1073.7 360.65,1074.5 361.15,1074.5 361.15,1074.5 361.65,1074.5 361.65,1073.5 362.15,1073.5 362.15,1074.8 362.65,1074.8 362.65,1073.5 363.15,1073.5 363.15,1074.7 363.65,1074.7 363.65,1074.0 364.15,1074.0 364.15,1073.6 364.65,1073.6 364.65,1073.4 365.15,1073.4 365.15,1073.8 365.65,1073.8 365.65,1073.9 366.15,1073.9 366.15,1073.8 366.65,1073.8 366.65,1074.3 367.15,1074.3 367.15,1073.3 367.65,1073.3 367.65,1074.0 368.15,1074.0 368.15,1074.1 368.65,1074.1 368.65,1073.0 369.15,1073.0 369.15,1074.2 369.65,1074.2 369.65,1073.3 370.15,1073.3 370.15,1072.6 370.65,1072.6 370.65,1073.7 371.15,1073.7 371.15,1074.0 371.65,1074.0 371.65,1074.7 372.15,1074.7 372.15,1073.9 372.65,1073.9 372.65,1075.0 373.15,1075.0 373.15,1074.9 373.65,1074.9 373.65,1074.7 374.15,1074.7 374.15,1074.8 374.65,1074.8 374.65,1074.3 375.15,1074.3 375.15,1073.7 375.65,1073.7 375.65,1074.5 376.15,1074.5 376.15,1074.8 376.65,1074.8 376.65,1074.3 377.15,1074.3 377.15,1074.1 377.65,1074.1 377.65,1073.3 378.15,1073.3 378.15,1074.5 378.65,1074.5 378.65,1074.3 379.15,1074.3 379.15,1073.5 379.65,1073.5 379.65,1074.3 380.15,1074.3 380.15,1074.7 380.65,1074.7 380.65,1074.1 381.15,1074.1 381.15,1074.6 381.65,1074.6 381.65,1074.6 382.15,1074.6 382.15,1073.4 382.65,1073.4 382.65,1074.0 383.15,1074.0 383.15,1074.5 383.65,1074.5 383.65,1074.8 384.15,1074.8 384.15,1075.0 384.65,1075.0 384.65,1073.2 385.15,1073.2 385.15,1074.2 385.65,1074.2 385.65,1074.6 386.15,1074.6 386.15,1075.0 386.65,1075.0 386.65,1075.1 387.15,1075.1 387.15,1073.8 387.65,1073.8 387.65,1074.1 388.15,1074.1 388.15,1073.7 388.65,1073.7 388.65,1074.7 389.15,1074.7 389.15,1073.5 389.65,1073.5 389.65,1075.1 390.15,1075.1 390.15,1074.9 390.65,1074.9 390.65,1074.6 391.15,1074.6 391.15,1073.3 391.65,1073.3 391.65,1074.0 392.15,1074.0 392.15,1074.8 392.65,1074.8 392.65,1073.6 393.15,1073.6 393.15,1074.3 393.65,1074.3 393.65,1074.4 394.15,1074.4 394.15,1074.9 394.65,1074.9 394.65,1074.5 395.15,1074.5 395.15,1074.6 395.65,1074.6 395.65,1074.2 396.15,1074.2 396.15,1074.3 396.65,1074.3 396.65,1074.3 397.15,1074.3 397.15,1074.8 397.65,1074.8 397.65,1074.3 398.15,1074.3 398.15,1074.9 398.65,1074.9 398.65,1073.6 399.15,1073.6 399.15,1075.1 399.65,1075.1 399.65,1074.4 400.15,1074.4 400.15,1075.1 400.65,1075.1 400.65,1074.4 401.15,1074.4 401.15,1074.9 401.65,1074.9 401.65,1075.2 402.15,1075.2 402.15,1074.1 402.65,1074.1 402.65,1074.5 403.15,1074.5 403.15,1074.4 403.65,1074.4 403.65,1074.6 404.15,1074.6 404.15,1073.6 404.65,1073.6 404.65,1074.6 405.15,1074.6 405.15,1074.4 405.65,1074.4 405.65,1074.1 406.15,1074.1 406.15,1074.4 406.65,1074.4 406.65,1073.7 407.15,1073.7 407.15,1075.3 407.65,1075.3 407.65,1074.8 408.15,1074.8 408.15,1075.6 408.65,1075.6 408.65,1074.2 409.15,1074.2 409.15,1074.0 409.65,1074.0 409.65,1074.7 410.15,1074.7 410.15,1073.7 410.65,1073.7 410.65,1074.7 411.15,1074.7 411.15,1074.3 411.65,1074.3 411.65,1074.5 412.15,1074.5 412.15,1074.8 412.65,1074.8 412.65,1074.5 413.15,1074.5 413.15,1075.7 413.65,1075.7 413.65,1075.1 414.15,1075.1 414.15,1074.1 414.65,1074.1 414.65,1075.2 415.15,1075.2 415.15,1073.9 415.65,1073.9 415.65,1074.8 416.15,1074.8 416.15,1074.0 416.65,1074.0 416.65,1074.1 417.15,1074.1 417.15,1075.4 417.65,1075.4 417.65,1074.4 418.15,1074.4 418.15,1074.4 418.65,1074.4 418.65,1074.4 419.15,1074.4 419.15,1074.5 419.65,1074.5 419.65,1075.6 420.15,1075.6 420.15,1074.0 420.65,1074.0 420.65,1074.0 421.15,1074.0 421.15,1074.9 421.65,1074.9 421.65,1073.9 422.15,1073.9 422.15,1074.5 422.65,1074.5 422.65,1075.4 423.15,1075.4 423.15,1074.7 423.65,1074.7 423.65,1074.4 424.15,1074.4 424.15,1074.3 424.65,1074.3 424.65,1074.1 425.15,1074.1 425.15,1074.4 425.65,1074.4 425.65,1074.8 426.15,1074.8 426.15,1075.4 426.65,1075.4 426.65,1075.2 427.15,1075.2 427.15,1074.4 427.65,1074.4 427.65,1074.4 428.15,1074.4 428.15,1075.1 428.65,1075.1 428.65,1073.7 429.15,1073.7 429.15,1074.5 429.65,1074.5 429.65,1074.5 430.15,1074.5 430.15,1074.1 430.65,1074.1 430.65,1074.2 431.15,1074.2 431.15,1074.9 431.65,1074.9 431.65,1073.8 432.15,1073.8 432.15,1074.3 432.65,1074.3 432.65,1074.4 433.15,1074.4 433.15,1074.8 433.65,1074.8 433.65,1074.0 434.15,1074.0 434.15,1075.3 434.65,1075.3 434.65,1074.6 435.15,1074.6 435.15,1074.6 435.65,1074.6 435.65,1074.5 436.15,1074.5 436.15,1074.4 436.65,1074.4 436.65,1074.2 437.15,1074.2 437.15,1075.4 437.65,1075.4 437.65,1074.9 438.15,1074.9 438.15,1074.7 438.65,1074.7 438.65,1075.3 439.15,1075.3 439.15,1074.3 439.65,1074.3 439.65,1075.2 440.15,1075.2 440.15,1074.8 440.65,1074.8 440.65,1074.3 441.15,1074.3 441.15,1075.2 441.65,1075.2 441.65,1074.0 442.15,1074.0 442.15,1075.2 442.65,1075.2 442.65,1074.3 443.15,1074.3 443.15,1074.9 443.65,1074.9 443.65,1075.5 444.15,1075.5 444.15,1075.1 444.65,1075.1 444.65,1074.5 445.15,1074.5 445.15,1074.8 445.65,1074.8 445.65,1074.6 446.15,1074.6 446.15,1074.2 446.65,1074.2 446.65,1074.2 447.15,1074.2 447.15,1074.8 447.65,1074.8 447.65,1075.1 448.15,1075.1 448.15,1073.8 448.65,1073.8 448.65,1074.8 449.15,1074.8 449.15,1075.1 449.65,1075.1 449.65,1074.8 450.15,1074.8 450.15,1074.2 450.65,1074.2 450.65,1075.4 451.15,1075.4 451.15,1074.2 451.65,1074.2 451.65,1075.1 452.15,1075.1 452.15,1075.6 452.65,1075.6 452.65,1073.7 453.15,1073.7 453.15,1074.9 453.65,1074.9 453.65,1074.9 454.15,1074.9 454.15,1074.9 454.65,1074.9 454.65,1074.4 455.15,1074.4 455.15,1074.6 455.65,1074.6 455.65,1074.0 456.15,1074.0 456.15,1074.9 456.65,1074.9 456.65,1075.1 457.15,1075.1 457.15,1074.4 457.65,1074.4 457.65,1074.3 458.15,1074.3 458.15,1074.6 458.65,1074.6 458.65,1074.9 459.15,1074.9 459.15,1074.9 459.65,1074.9 459.65,1074.8 460.15,1074.8 460.15,1074.7 460.65,1074.7 460.65,1074.1 461.15,1074.1 461.15,1073.3 461.65,1073.3 461.65,1075.2 462.15,1075.2 462.15,1075.5 462.65,1075.5 462.65,1074.1 463.15,1074.1 463.15,1074.5 463.65,1074.5 463.65,1075.0 464.15,1075.0 464.15,1075.4 464.65,1075.4 464.65,1075.2 465.15,1075.2 465.15,1075.5 465.65,1075.5 465.65,1074.8 466.15,1074.8 466.15,1075.0 466.65,1075.0 466.65,1075.0 467.15,1075.0 467.15,1074.6 467.65,1074.6 467.65,1075.5 468.15,1075.5 468.15,1075.1 468.65,1075.1 468.65,1075.4 469.15,1075.4 469.15,1074.6 469.65,1074.6 469.65,1075.5 470.15,1075.5 470.15,1074.3 470.65,1074.3 470.65,1075.0 471.15,1075.0 471.15,1073.5 471.65,1073.5 471.65,1074.4 472.15,1074.4 472.15,1075.3 472.65,1075.3 472.65,1074.6 473.15,1074.6 473.15,1075.0 473.65,1075.0 473.65,1074.1 474.15,1074.1 474.15,1075.6 474.65,1075.6 474.65,1075.2 475.15,1075.2 475.15,1074.9 475.65,1074.9 475.65,1075.1 476.15,1075.1 476.15,1075.0 476.65,1075.0 476.65,1075.6 477.15,1075.6 477.15,1075.1 477.65,1075.1 477.65,1074.1 478.15,1074.1 478.15,1074.7 478.65,1074.7 478.65,1075.7 479.15,1075.7 479.15,1075.1 479.65,1075.1 479.65,1074.7 480.15,1074.7 480.15,1075.2 480.65,1075.2 480.65,1075.0 481.15,1075.0 481.15,1075.2 481.65,1075.2 481.65,1074.1 482.15,1074.1 482.15,1074.4 482.65,1074.4 482.65,1075.3 483.15,1075.3 483.15,1074.8 483.65,1074.8 483.65,1075.2 484.15,1075.2 484.15,1075.9 484.65,1075.9 484.65,1074.8 485.15,1074.8 485.15,1075.1 485.65,1075.1 485.65,1074.6 486.15,1074.6 486.15,1074.6 486.65,1074.6 486.65,1074.9 487.15,1074.9 487.15,1074.1 487.65,1074.1 487.65,1073.7 488.15,1073.7 488.15,1075.7 488.65,1075.7 488.65,1074.8 489.15,1074.8 489.15,1075.6 489.65,1075.6 489.65,1075.0 490.15,1075.0 490.15,1075.0 490.65,1075.0 490.65,1075.3 491.15,1075.3 491.15,1075.3 491.65,1075.3 491.65,1074.3 492.15,1074.3 492.15,1075.6 492.65,1075.6 492.65,1074.4 493.15,1074.4 493.15,1075.1 493.65,1075.1 493.65,1076.4 494.15,1076.4 494.15,1075.1 494.65,1075.1 494.65,1075.9 495.15,1075.9 495.15,1074.8 495.65,1074.8 495.65,1075.2 496.15,1075.2 496.15,1075.0 496.65,1075.0 496.65,1075.2 497.15,1075.2 497.15,1074.5 497.65,1074.5 497.65,1074.5 498.15,1074.5 498.15,1075.2 498.65,1075.2 498.65,1074.1 499.15,1074.1 499.15,1074.6 499.65,1074.6 499.65,1075.3 500.15,1075.3 500.15,1074.6 500.65,1074.6 500.65,1074.5 501.15,1074.5 501.15,1074.4 501.65,1074.4 501.65,1075.1 502.15,1075.1 502.15,1074.8 502.65,1074.8 502.65,1075.1 503.15,1075.1 503.15,1074.8 503.65,1074.8 503.65,1076.0 504.15,1076.0 504.15,1074.8 504.65,1074.8 504.65,1074.0 505.15,1074.0 505.15,1075.1 505.65,1075.1 505.65,1075.0 506.15,1075.0 506.15,1075.1 506.65,1075.1 506.65,1074.2 507.15,1074.2 507.15,1075.6 507.65,1075.6 507.65,1075.1 508.15,1075.1 508.15,1074.9 508.65,1074.9 508.65,1074.2 509.15,1074.2 509.15,1075.3 509.65,1075.3 509.65,1075.0 510.15,1075.0 510.15,1075.7 510.65,1075.7 510.65,1074.8 511.15,1074.8 511.15,1074.4 511.65,1074.4 511.65,1075.1 512.15,1075.1 512.15,1074.5 512.65,1074.5 512.65,1075.2 513.15,1075.2 513.15,1074.4 513.65,1074.4 513.65,1075.0 514.15,1075.0 514.15,1074.9 514.65,1074.9 514.65,1075.1 515.15,1075.1 515.15,1074.8 515.65,1074.8 515.65,1074.6 516.15,1074.6 516.15,1075.0 516.65,1075.0 516.65,1074.7 517.15,1074.7 517.15,1075.1 517.65,1075.1 517.65,1075.0 518.15,1075.0 518.15,1073.8 518.65,1073.8 518.65,1075.1 519.15,1075.1 519.15,1075.8 519.65,1075.8 519.65,1075.2 520.15,1075.2 520.15,1075.5 520.65,1075.5 520.65,1075.2 521.15,1075.2 521.15,1074.9 521.65,1074.9 521.65,1074.4 522.15,1074.4 522.15,1075.4 522.65,1075.4 522.65,1075.6 523.15,1075.6 523.15,1075.3 523.65,1075.3 523.65,1075.3 524.15,1075.3 524.15,1075.3 524.65,1075.3 524.65,1075.1 525.15,1075.1 525.15,1075.3 525.65,1075.3 525.65,1075.1 526.15,1075.1 526.15,1075.3 526.65,1075.3 526.65,1074.6 527.15,1074.6 527.15,1074.8 527.65,1074.8 527.65,1075.4 528.15,1075.4 528.15,1075.0 528.65,1075.0 528.65,1073.8 529.15,1073.8 529.15,1075.1 529.65,1075.1 529.65,1073.9 530.15,1073.9 530.15,1076.1 530.65,1076.1 530.65,1075.4 531.15,1075.4 531.15,1075.5 531.65,1075.5 531.65,1074.7 532.15,1074.7 532.15,1074.5 532.65,1074.5 532.65,1075.0 533.15,1075.0 533.15,1075.1 533.65,1075.1 533.65,1074.7 534.15,1074.7 534.15,1075.2 534.65,1075.2 534.65,1075.6 535.15,1075.6 535.15,1075.4 535.65,1075.4 535.65,1074.5 536.15,1074.5 536.15,1073.9 536.65,1073.9 536.65,1075.1 537.15,1075.1 537.15,1074.8 537.65,1074.8 537.65,1075.4 538.15,1075.4 538.15,1076.0 538.65,1076.0 538.65,1076.0 539.15,1076.0 539.15,1075.3 539.65,1075.3 539.65,1075.7 540.15,1075.7 540.15,1076.0 540.65,1076.0 540.65,1075.2 541.15,1075.2 541.15,1075.3 541.65,1075.3 541.65,1075.6 542.15,1075.6 542.15,1075.1 542.65,1075.1 542.65,1074.8 543.15,1074.8 543.15,1074.7 543.65,1074.7 543.65,1075.2 544.15,1075.2 544.15,1074.7 544.65,1074.7 544.65,1075.6 545.15,1075.6 545.15,1075.0 545.65,1075.0 545.65,1075.9 546.15,1075.9 546.15,1075.8 546.65,1075.8 546.65,1074.6 547.15,1074.6 547.15,1075.8 547.65,1075.8 547.65,1075.0 548.15,1075.0 548.15,1076.0 548.65,1076.0 548.65,1075.5 549.15,1075.5 549.15,1075.1 549.65,1075.1 549.65,1075.7 550.15,1075.7 550.15,1074.9 550.65,1074.9 550.65,1075.4 551.15,1075.4 551.15,1075.4 551.65,1075.4 551.65,1075.1 552.15,1075.1 552.15,1075.4 552.65,1075.4 552.65,1074.7 553.15,1074.7 553.15,1075.6 553.65,1075.6 553.65,1074.6 554.15,1074.6 554.15,1075.5 554.65,1075.5 554.65,1075.5 555.15,1075.5 555.15,1075.6 555.65,1075.6 555.65,1075.0 556.15,1075.0 556.15,1076.8 556.65,1076.8 556.65,1075.1 557.15,1075.1 557.15,1075.3 557.65,1075.3 557.65,1074.9 558.15,1074.9 558.15,1076.0 558.65,1076.0 558.65,1075.0 559.15,1075.0 559.15,1075.7 559.65,1075.7 559.65,1074.8 560.15,1074.8 560.15,1075.4 560.65,1075.4 560.65,1075.0 561.15,1075.0 561.15,1075.7 561.65,1075.7 561.65,1075.1 562.15,1075.1 562.15,1074.8 562.65,1074.8 562.65,1075.5 563.15,1075.5 563.15,1074.7 563.65,1074.7 563.65,1074.8 564.15,1074.8 564.15,1075.7 564.65,1075.7 564.65,1074.3 565.15,1074.3 565.15,1075.6 565.65,1075.6 565.65,1075.1 566.15,1075.1 566.15,1074.8 566.65,1074.8 566.65,1075.4 567.15,1075.4 567.15,1075.6 567.65,1075.6 567.65,1075.0 568.15,1075.0 568.15,1075.2 568.65,1075.2 568.65,1075.7 569.15,1075.7 569.15,1075.7 569.65,1075.7 569.65,1075.2 570.15,1075.2 570.15,1074.9 570.65,1074.9 570.65,1074.8 571.15,1074.8 571.15,1075.0 571.65,1075.0 571.65,1075.7 572.15,1075.7 572.15,1075.7 572.65,1075.7 572.65,1075.5 573.15,1075.5 573.15,1076.1 573.65,1076.1 573.65,1075.2 574.15,1075.2 574.15,1075.2 574.65,1075.2 574.65,1075.1 575.15,1075.1 575.15,1076.3 575.65,1076.3 575.65,1074.4 576.15,1074.4 576.15,1075.4 576.65,1075.4 576.65,1075.6 577.15,1075.6 577.15,1075.4 577.65,1075.4 577.65,1076.6 578.15,1076.6 578.15,1075.9 578.65,1075.9 578.65,1075.8 579.15,1075.8 579.15,1074.9 579.65,1074.9 579.65,1075.6 580.15,1075.6 580.15,1075.2 580.65,1075.2 580.65,1075.4 581.15,1075.4 581.15,1075.5 581.65,1075.5 581.65,1075.2 582.15,1075.2 582.15,1075.7 582.65,1075.7 582.65,1076.3 583.15,1076.3 583.15,1075.9 583.65,1075.9 583.65,1075.5 584.15,1075.5 584.15,1074.4 584.65,1074.4 584.65,1076.0 585.15,1076.0 585.15,1075.9 585.65,1075.9 585.65,1075.3 586.15,1075.3 586.15,1075.1 586.65,1075.1 586.65,1075.8 587.15,1075.8 587.15,1075.0 587.65,1075.0 587.65,1075.9 588.15,1075.9 588.15,1074.9 588.65,1074.9 588.65,1075.0 589.15,1075.0 589.15,1075.4 589.65,1075.4 589.65,1074.6 590.15,1074.6 590.15,1075.4 590.65,1075.4 590.65,1075.7 591.15,1075.7 591.15,1074.7 591.65,1074.7 591.65,1075.9 592.15,1075.9 592.15,1075.2 592.65,1075.2 592.65,1075.7 593.15,1075.7 593.15,1075.5 593.65,1075.5 593.65,1075.3 594.15,1075.3 594.15,1075.2 594.65,1075.2 594.65,1074.6 595.15,1074.6 595.15,1075.1 595.65,1075.1 595.65,1075.0 596.15,1075.0 596.15,1076.4 596.65,1076.4 596.65,1075.9 597.15,1075.9 597.15,1074.7 597.65,1074.7 597.65,1075.9 598.15,1075.9 598.15,1075.6 598.65,1075.6 598.65,1075.3 599.15,1075.3 599.15,1075.7 599.65,1075.7 599.65,1075.9 600.15,1075.9 600.15,1075.2 600.65,1075.2 600.65,1075.4 601.15,1075.4 601.15,1075.6 601.65,1075.6 601.65,1075.0 602.15,1075.0 602.15,1075.7 602.65,1075.7 602.65,1075.5 603.15,1075.5 603.15,1075.2 603.65,1075.2 603.65,1075.1 604.15,1075.1 604.15,1075.7 604.65,1075.7 604.65,1076.0 605.15,1076.0 605.15,1075.7 605.65,1075.7 605.65,1075.1 606.15,1075.1 606.15,1075.9 606.65,1075.9 606.65,1075.6 607.15,1075.6 607.15,1075.8 607.65,1075.8 607.65,1076.2 608.15,1076.2 608.15,1075.0 608.65,1075.0 608.65,1075.5 609.15,1075.5 609.15,1075.3 609.65,1075.3 609.65,1075.1 610.15,1075.1 610.15,1076.6 610.65,1076.6 610.65,1076.0 611.15,1076.0 611.15,1074.7 611.65,1074.7 611.65,1075.8 612.15,1075.8 612.15,1075.3 612.65,1075.3 612.65,1076.1 613.15,1076.1 613.15,1075.7 613.65,1075.7 613.65,1075.5 614.15,1075.5 614.15,1075.7 614.65,1075.7 614.65,1075.7 615.15,1075.7 615.15,1075.6 615.65,1075.6 615.65,1075.5 616.15,1075.5 616.15,1075.5 616.65,1075.5 616.65,1075.8 617.15,1075.8 617.15,1075.0 617.65,1075.0 617.65,1075.6 618.15,1075.6 618.15,1075.6 618.65,1075.6 618.65,1075.3 619.15,1075.3 619.15,1076.0 619.65,1076.0 619.65,1075.0 620.15,1075.0 620.15,1075.4 620.65,1075.4 620.65,1075.1 621.15,1075.1 621.15,1075.9 621.65,1075.9 621.65,1075.3 622.15,1075.3 622.15,1075.6 622.65,1075.6 622.65,1075.8 623.15,1075.8 623.15,1074.8 623.65,1074.8 623.65,1075.9 624.15,1075.9 624.15,1075.2 624.65,1075.2 624.65,1075.5 625.15,1075.5 625.15,1075.6 625.65,1075.6 625.65,1076.1 626.15,1076.1 626.15,1075.9 626.65,1075.9 626.65,1076.6 627.15,1076.6 627.15,1075.7 627.65,1075.7 627.65,1075.4 628.15,1075.4 628.15,1075.4 628.65,1075.4 628.65,1075.9 629.15,1075.9 629.15,1076.5 629.65,1076.5 629.65,1075.8 630.15,1075.8 630.15,1075.4 630.65,1075.4 630.65,1075.8 631.15,1075.8 631.15,1075.8 631.65,1075.8 631.65,1075.7 632.15,1075.7 632.15,1075.3 632.65,1075.3 632.65,1074.4 633.15,1074.4 633.15,1075.4 633.65,1075.4 633.65,1076.2 634.15,1076.2 634.15,1075.8 634.65,1075.8 634.65,1074.6 635.15,1074.6 635.15,1075.7 635.65,1075.7 635.65,1074.7 636.15,1074.7 636.15,1076.7 636.65,1076.7 636.65,1075.8 637.15,1075.8 637.15,1075.1 637.65,1075.1 637.65,1076.1 638.15,1076.1 638.15,1075.3 638.65,1075.3 638.65,1076.0 639.15,1076.0 639.15,1075.7 639.65,1075.7 639.65,1075.1 640.15,1075.1 640.15,1076.0 640.65,1076.0 640.65,1075.0 641.15,1075.0 641.15,1076.4 641.65,1076.4 641.65,1075.7 642.15,1075.7 642.15,1075.2 642.65,1075.2 642.65,1074.9 643.15,1074.9 643.15,1076.6 643.65,1076.6 643.65,1076.5 644.15,1076.5 644.15,1075.1 644.65,1075.1 644.65,1076.6 645.15,1076.6 645.15,1075.8 645.65,1075.8 645.65,1075.7 646.15,1075.7 646.15,1075.7 646.65,1075.7 646.65,1075.6 647.15,1075.6 647.15,1076.5 647.65,1076.5 647.65,1075.8 648.15,1075.8 648.15,1074.8 648.65,1074.8 648.65,1076.9 649.15,1076.9 649.15,1076.3 649.65,1076.3 649.65,1075.2 650.15,1075.2 650.15,1075.5 650.65,1075.5 650.65,1075.3 651.15,1075.3 651.15,1075.8 651.65,1075.8 651.65,1076.0 652.15,1076.0 652.15,1075.9 652.65,1075.9 652.65,1075.5 653.15,1075.5 653.15,1075.4 653.65,1075.4 653.65,1076.2 654.15,1076.2 654.15,1075.8 654.65,1075.8 654.65,1076.9 655.15,1076.9 655.15,1075.4 655.65,1075.4 655.65,1076.2 656.15,1076.2 656.15,1075.8 656.65,1075.8 656.65,1075.4 657.15,1075.4 657.15,1076.5 657.65,1076.5 657.65,1075.9 658.15,1075.9 658.15,1075.4 658.65,1075.4 658.65,1075.6 659.15,1075.6 659.15,1076.4 659.65,1076.4 659.65,1075.2 660.15,1075.2 660.15,1076.5 660.65,1076.5 660.65,1076.2 661.15,1076.2 661.15,1075.7 661.65,1075.7 661.65,1076.5 662.15,1076.5 662.15,1076.7 662.65,1076.7 662.65,1076.2 663.15,1076.2 663.15,1075.9 663.65,1075.9 663.65,1076.8 664.15,1076.8 664.15,1076.6 664.65,1076.6 664.65,1075.4 665.15,1075.4 665.15,1075.7 665.65,1075.7 665.65,1075.7 666.15,1075.7 666.15,1075.6 666.65,1075.6 666.65,1075.1 667.15,1075.1 667.15,1076.3 667.65,1076.3 667.65,1076.0 668.15,1076.0 668.15,1075.9 668.65,1075.9 668.65,1076.6 669.15,1076.6 669.15,1075.6 669.65,1075.6 669.65,1075.9 670.15,1075.9 670.15,1076.0 670.65,1076.0 670.65,1075.7 671.15,1075.7 671.15,1075.8 671.65,1075.8 671.65,1076.3 672.15,1076.3 672.15,1075.9 672.65,1075.9 672.65,1076.6 673.15,1076.6 673.15,1075.5 673.65,1075.5 673.65,1076.0 674.15,1076.0 674.15,1075.2 674.65,1075.2 674.65,1077.3" fill="#52a8ca"/>
<line x1="41.50" y1="965.4" x2="41.50" y2="1077.3" stroke="#f0f020" stroke-width="1.5" opacity="0.9"/>
<line x1="44.50" y1="974.4" x2="44.50" y2="1077.3" stroke="#ee44ee" stroke-width="1.0" opacity="0.9"/>
<line x1="46.50" y1="965.4" x2="46.50" y2="1077.3" stroke="#ee44ee" stroke-width="1.5" opacity="0.9"/>
<line x1="47.50" y1="1063.0" x2="47.50" y2="1077.3" stroke="#f0f020" stroke-width="1.0" opacity="0.9"/>
<line x1="50.50" y1="1047.6" x2="50.50" y2="1077.3" stroke="#ee44ee" stroke-width="1.5" opacity="0.9"/>
<line x1="58.50" y1="962.6" x2="58.50" y2="1077.3" stroke="#66dd66" stroke-width="1.0" opacity="0.9"/>
<line x1="92.50" y1="965.4" x2="92.50" y2="1077.3" stroke="#3333ee" stroke-width="1.5" opacity="0.9"/>
<line x1="106.50" y1="965.4" x2="106.50" y2="1077.3" stroke="#ee8888" stroke-width="1.0" opacity="0.9"/>
<line x1="109.50" y1="1070.0" x2="109.50" y2="1077.3" stroke="#ee8888" stroke-width="1.0" opacity="0.9"/>
<line x1="121.50" y1="965.4" x2="121.50" y2="1077.3" stroke="#ee5555" stroke-width="1.0" opacity="0.9"/>
<line x1="126.50" y1="1070.0" x2="126.50" y2="1077.3" stroke="#ee8888" stroke-width="1.0" opacity="0.9"/>
<line x1="137.50" y1="962.6" x2="137.50" y2="1077.3" stroke="#33eeee" stroke-width="1.0" opacity="0.9"/>
<line x1="144.50" y1="1070.0" x2="144.50" y2="1077.3" stroke="#33eeee" stroke-width="1.0" opacity="0.9"/>
<line x1="34.50" y1="1071.7" x2="34.50" y2="1077.3" stroke="#33eeee" stroke-width="1.0" opacity="0.9"/>
<line x1="240.50" y1="965.5" x2="240.50" y2="1077.3" stroke="#f0f020" stroke-width="1.5" opacity="0.95"/>
<line x1="258.50" y1="1065.0" x2="258.50" y2="1077.3" stroke="#f0f020" stroke-width="1.0" opacity="0.9"/>
<line x1="265.50" y1="963.5" x2="265.50" y2="1077.3" stroke="#ee44ee" stroke-width="1.0" opacity="0.7"/>
<line x1="285.50" y1="1063.0" x2="285.50" y2="1077.3" stroke="#ee44ee" stroke-width="1.0" opacity="0.9"/>
<rect x="48.7" y="941.6" width="20.5" height="21.0" fill="#1af01a" opacity="0.82"/><text x="59.0" y="956.5" text-anchor="middle" font-family="Liberation Sans, sans-serif" font-weight="bold" font-size="13.8" fill="#000" textLength="10.2" lengthAdjust="spacingAndGlyphs">O</text>
<rect x="78.4" y="941.6" width="28.0" height="21.0" fill="#2525f3" opacity="0.82"/><text x="92.4" y="956.5" text-anchor="middle" font-family="Liberation Sans, sans-serif" font-weight="bold" font-size="13.8" fill="#fff" textLength="19.0" lengthAdjust="spacingAndGlyphs">Na</text>
<rect x="128.1" y="941.6" width="21.3" height="21.0" fill="#1af9f9" opacity="0.82"/><text x="138.8" y="956.5" text-anchor="middle" font-family="Liberation Sans, sans-serif" font-weight="bold" font-size="13.8" fill="#000" textLength="12.0" lengthAdjust="spacingAndGlyphs">Si</text>
<rect x="231.9" y="940.8" width="18.8" height="22.7" fill="#ffed02" opacity="0.82"/><text x="241.3" y="956.5" text-anchor="middle" font-family="Liberation Sans, sans-serif" font-weight="bold" font-size="13.8" fill="#000" textLength="9.0" lengthAdjust="spacingAndGlyphs">K</text>
<rect x="252.1" y="940.8" width="26.9" height="22.7" fill="#ff10f9" opacity="0.82"/><text x="265.6" y="956.5" text-anchor="middle" font-family="Liberation Sans, sans-serif" font-weight="bold" font-size="13.8" fill="#000" textLength="16.6" lengthAdjust="spacingAndGlyphs">Ca</text>
<defs><clipPath id="cC"><rect x="370.1" y="798.5" width="305.1" height="260.0"/></clipPath>
<filter id="tC" filterUnits="userSpaceOnUse" x="270.1" y="698.5" width="505.1" height="460.0" color-interpolation-filters="sRGB"><feTurbulence type="fractalNoise" baseFrequency="0.08" numOctaves="4" seed="9" result="t"/><feDiffuseLighting in="t" surfaceScale="3" diffuseConstant="1" lighting-color="#fff" result="l"><feDistantLight azimuth="235" elevation="45"/></feDiffuseLighting><feGaussianBlur in="l" stdDeviation="0.7" result="lb"/><feColorMatrix in="lb" type="matrix" values="0.85 0 0 0 -0.07800000000000007  0.85 0 0 0 -0.07800000000000007  0.85 0 0 0 -0.07800000000000007  0 0 0 0 1" result="o1"/><feTurbulence type="fractalNoise" baseFrequency="0.7" numOctaves="2" seed="16" result="t2"/><feColorMatrix in="t2" type="matrix" values="1 0 0 0 0 1 0 0 0 0 1 0 0 0 0 0 0 0 0 1" result="g2"/><feComposite in="o1" in2="g2" operator="arithmetic" k1="0" k2="1" k3="0.18" k4="-0.09"/></filter>
<filter id="kC" filterUnits="userSpaceOnUse" x="270.1" y="698.5" width="505.1" height="460.0" color-interpolation-filters="sRGB"><feTurbulence type="fractalNoise" baseFrequency="0.07" numOctaves="5" seed="13" result="t"/><feColorMatrix in="t" type="matrix" values="1 0 0 0 0 1 0 0 0 0 1 0 0 0 0 0 0 0 0 1" result="g"/><feComponentTransfer in="g"><feFuncR type="table" tableValues="0.25 0.42 0.5 0.55 0.7 0.9"/><feFuncG type="table" tableValues="0.25 0.42 0.5 0.55 0.7 0.9"/><feFuncB type="table" tableValues="0.25 0.42 0.5 0.55 0.7 0.9"/></feComponentTransfer><feGaussianBlur stdDeviation="0.6"/></filter>
<filter id="tC2" filterUnits="userSpaceOnUse" x="270.1" y="698.5" width="505.1" height="460.0" color-interpolation-filters="sRGB"><feTurbulence type="fractalNoise" baseFrequency="0.025 0.15" numOctaves="3" seed="12" result="t"/><feDiffuseLighting in="t" surfaceScale="1.8" diffuseConstant="1" lighting-color="#fff" result="l"><feDistantLight azimuth="235" elevation="45"/></feDiffuseLighting><feGaussianBlur in="l" stdDeviation="0.8" result="lb"/><feColorMatrix in="lb" type="matrix" values="0.35 0 0 0 0.262  0.35 0 0 0 0.262  0.35 0 0 0 0.262  0 0 0 0 1" result="o1"/></filter>
<linearGradient id="gC1" x1="0" y1="0" x2="1" y2="0"><stop offset="0" stop-color="#4c4c4c"/><stop offset="1" stop-color="#808080"/></linearGradient>
<filter id="dC" filterUnits="userSpaceOnUse" x="370.1" y="798.5" width="305.1" height="260.0"><feTurbulence type="fractalNoise" baseFrequency="0.12" numOctaves="3" seed="4" result="t"/><feDisplacementMap in="SourceGraphic" in2="t" scale="9" xChannelSelector="R" yChannelSelector="G"/></filter>
<filter id="bC" x="-50%" y="-50%" width="200%" height="200%"><feGaussianBlur stdDeviation="3"/></filter>
<filter id="bC2" x="-50%" y="-50%" width="200%" height="200%"><feGaussianBlur stdDeviation="7"/></filter>
<filter id="bC1" x="-50%" y="-50%" width="200%" height="200%"><feGaussianBlur stdDeviation="1.2"/></filter>
</defs>
<g clip-path="url(#cC)" style="isolation:isolate">
<rect x="370.1" y="798.5" width="305.1" height="260.0" fill="#8c8c8c"/>
<polygon points="370,798 459,798 463,829 464,859 468,890 474,913 476,943 470,965 370,965" fill="#8e8e8e" filter="url(#bC2)"/>
<ellipse cx="470" cy="915" rx="12" ry="18" fill="#a4a4a4" filter="url(#bC)"/>
<ellipse cx="483" cy="928" rx="9" ry="10" fill="#acacac" filter="url(#bC)"/>
<polygon points="496,798 530,798 528,840 522,880 515,930 505,960 492,960" fill="url(#gC1)" filter="url(#bC2)"/>
<rect x="530" y="798" width="150" height="170" fill="#7e7e7e" filter="url(#bC2)"/>
<ellipse cx="610" cy="870" rx="50" ry="55" fill="#868686" filter="url(#bC2)"/>
<path d="M582 798 L570 830 L552 876" stroke="#6e6e6e" stroke-width="9" fill="none" filter="url(#bC)"/>
<ellipse cx="545" cy="830" rx="8" ry="6" fill="#a0a0a0" filter="url(#bC1)"/>
<g filter="url(#dC)">
<polygon points="500,798 530,798 526,840 520,880 511,925 499,952 492,952" fill="url(#gC1)" filter="url(#bC)"/>
<polygon points="459,798 503,798 501,836 500,867 497,897 494,925 491,945 488,958 484,945 482,935 478,925 472,908 467,888 464,860 462,830" fill="#303030" filter="url(#bC1)"/>
<polygon points="486,798 500,798 498,840 496,880 492,910 488,905 490,860" fill="#3e3e3e" filter="url(#bC)"/>
<polygon points="459,798 474,798 475,830 474,860 476,888 481,908 476,910 468,890 464,860 462,830" fill="#121212" filter="url(#bC1)"/>
<ellipse cx="486" cy="950" rx="5" ry="11" fill="#1c1c1c" filter="url(#bC1)"/>
<ellipse cx="482" cy="830" rx="5" ry="9" fill="#5c5c5c" filter="url(#bC)"/>
<path d="M459 798 L462 830 L464 860 L467 888 L472 908" stroke="#b8b8b8" stroke-width="2" fill="none" filter="url(#bC1)"/>
<polygon points="489,960 495,935 499,925 503,932 509,960" fill="#b0b0b0" filter="url(#bC1)"/>
<polygon points="473,912 481,912 490,920 492,935 485,938 476,930" fill="#b4b4b4" filter="url(#bC1)"/>
</g>
<ellipse cx="518" cy="1000" rx="45" ry="38" fill="#a8a8a8" filter="url(#bC2)"/>
<polygon points="490,963 497,940 505,955 512,975 530,982 548,988 562,1005 560,1040 470,1040 478,990" fill="#b0b0b0" filter="url(#bC)"/>
<ellipse cx="540" cy="1005" rx="22" ry="26" fill="#b4b4b4" filter="url(#bC)"/>
<ellipse cx="503" cy="960" rx="7" ry="14" fill="#b0b0b0" filter="url(#bC)"/>
<polygon points="556,1040 558,1012 575,1002 598,1006 602,1040" fill="#585858" filter="url(#bC)"/>
<path d="M632 962 L636 995 L640 1040" stroke="#555" stroke-width="6" fill="none" filter="url(#bC)"/>
<ellipse cx="656" cy="1000" rx="17" ry="40" fill="#9a9a9a" filter="url(#bC)"/>
<path d="M602 1040 Q612 990 640 955" stroke="#969696" stroke-width="10" fill="none" filter="url(#bC)"/>
<ellipse cx="395" cy="1005" rx="28" ry="28" fill="#858585" filter="url(#bC2)"/>
<ellipse cx="423" cy="945" rx="22" ry="22" fill="#929292" filter="url(#bC2)"/>
<mask id="mC" maskUnits="userSpaceOnUse" x="370.1" y="798.5" width="305.1" height="260.0"><rect x="370.1" y="798.5" width="305.1" height="260.0" fill="#fff"/><polygon points="461,798 498,798 497,840 494,880 490,910 486,940 484,955 478,930 470,900 465,860" fill="#333" filter="url(#bC)"/></mask>
<g style="mix-blend-mode:overlay" mask="url(#mC)"><rect x="270.1" y="698.5" width="505.1" height="460.0" fill="#808080" filter="url(#tC)" transform="rotate(0 522.6500000000001 928.5)"/></g>
<g style="mix-blend-mode:overlay" mask="url(#mC)"><rect x="270.1" y="698.5" width="505.1" height="460.0" fill="#808080" filter="url(#kC)" transform="rotate(0 522.6500000000001 928.5)"/></g>
<mask id="mC2" maskUnits="userSpaceOnUse" x="370.1" y="798.5" width="305.1" height="260.0"><rect x="500" y="798.5" width="180" height="260.0" fill="#fff" filter="url(#bC2)"/><rect x="420" y="960" width="100" height="90" fill="#888" filter="url(#bC2)"/></mask>
<g style="mix-blend-mode:overlay" mask="url(#mC2)"><rect x="270.1" y="698.5" width="505.1" height="460.0" fill="#808080" filter="url(#tC2)" transform="rotate(-62 522.6500000000001 928.5)"/></g>
<ellipse cx="423" cy="943.7" rx="31.8" ry="33" fill="none" stroke="#e4e44a" stroke-width="1"/>
<text x="393.5" y="904.8" font-family="Liberation Sans, sans-serif" font-size="5.5" fill="#22bb22" textLength="28" lengthAdjust="spacingAndGlyphs">Spectrum 1</text>
<line x1="434.8" y1="1006.2" x2="465.4" y2="943.9" stroke="#f0f000" stroke-width="1.5"/><polygon points="469.4,935.8 469.1,946.8 460.9,942.7" fill="#f0f000"/>
<line x1="443.7" y1="1010.6" x2="467.7" y2="993.2" stroke="#f0f000" stroke-width="1.5"/><polygon points="475.0,987.9 469.6,997.5 464.2,990.0" fill="#f0f000"/>
<line x1="444.8" y1="1018.5" x2="499.9" y2="1019.4" stroke="#f0f000" stroke-width="1.5"/><polygon points="508.9,1019.6 498.8,1024.0 499.0,1014.8" fill="#f0f000"/>
<text x="408" y="1022.9" font-family="Liberation Serif, serif" font-size="16.5" fill="#f0f000" textLength="29.5" lengthAdjust="spacingAndGlyphs">ASR</text>
<text x="526.3" y="915" font-family="Liberation Serif, serif" font-size="16" fill="#f0f000" textLength="65.7" lengthAdjust="spacingAndGlyphs">Aggregate</text>
<rect x="370.1" y="1040.8" width="305.1" height="17.700000000000045" fill="#1e1e1e" opacity="0.78"/>
<text x="375.1" y="1056.3" font-family="Liberation Sans, sans-serif" font-weight="bold" font-size="6.8" fill="#d4d4d4" textLength="32.2" lengthAdjust="spacingAndGlyphs">MAG: 2000x</text>
<text x="413.7" y="1056.3" font-family="Liberation Sans, sans-serif" font-weight="bold" font-size="6.8" fill="#d4d4d4" textLength="25.9" lengthAdjust="spacingAndGlyphs">HV: 10 kV</text>
<text x="445.5" y="1056.3" font-family="Liberation Sans, sans-serif" font-weight="bold" font-size="6.8" fill="#d4d4d4" textLength="31.5" lengthAdjust="spacingAndGlyphs">WD: 8.3 mm</text>
<path d="M618.6 1050.2H665.9M618.6 1046.4V1054.0M665.9 1046.4V1054.0" stroke="#f0f0f0" stroke-width="1.1"/>
<text x="642.2" y="1047.6" text-anchor="middle" font-family="Liberation Sans, sans-serif" font-weight="bold" font-size="6.3" fill="#e8e8e8" textLength="16" lengthAdjust="spacingAndGlyphs">10 µm</text>
</g>
<line x1="32.4" y1="796.5" x2="677.1" y2="796.5" stroke="#555" stroke-width="1.6"/>
<line x1="32.4" y1="796.5" x2="32.4" y2="1077.3" stroke="#888" stroke-width="1.3"/>
<line x1="676.6" y1="796.5" x2="676.6" y2="1077.3" stroke="#bbb" stroke-width="1.2"/>
<line x1="32.4" y1="1077.3" x2="676.6" y2="1077.3" stroke="#777" stroke-width="1.3"/>
<path d="M27.9 1077.30H32.4M27.9 1068.61H32.4M27.9 1059.92H32.4M27.9 1051.23H32.4M27.9 1042.54H32.4M27.9 1033.85H32.4M27.9 1025.16H32.4M27.9 1016.47H32.4M27.9 1007.78H32.4M27.9 999.09H32.4M27.9 990.40H32.4M27.9 981.71H32.4M27.9 973.02H32.4M27.9 964.33H32.4M27.9 955.64H32.4M27.9 946.95H32.4M27.9 938.26H32.4M27.9 929.57H32.4M27.9 920.88H32.4M27.9 912.19H32.4M27.9 903.50H32.4M27.9 894.81H32.4M27.9 886.12H32.4M27.9 877.43H32.4M27.9 868.74H32.4M27.9 860.05H32.4M27.9 851.36H32.4M27.9 842.67H32.4M27.9 833.98H32.4M27.9 825.29H32.4M27.9 816.60H32.4M27.9 807.91H32.4M27.9 799.22H32.4M37.54 1077.3V1081.1M50.58 1077.3V1081.1M63.62 1077.3V1081.1M76.66 1077.3V1081.1M89.70 1077.3V1083.8M102.74 1077.3V1081.1M115.78 1077.3V1081.1M128.82 1077.3V1081.1M141.86 1077.3V1081.1M154.90 1077.3V1083.8M167.94 1077.3V1081.1M180.98 1077.3V1081.1M194.02 1077.3V1081.1M207.06 1077.3V1081.1M220.10 1077.3V1083.8M233.14 1077.3V1081.1M246.18 1077.3V1081.1M259.22 1077.3V1081.1M272.26 1077.3V1081.1M285.30 1077.3V1083.8M298.34 1077.3V1081.1M311.38 1077.3V1081.1M324.42 1077.3V1081.1M337.46 1077.3V1081.1M350.50 1077.3V1083.8M363.54 1077.3V1081.1M376.58 1077.3V1081.1M389.62 1077.3V1081.1M402.66 1077.3V1081.1M415.70 1077.3V1083.8M428.74 1077.3V1081.1M441.78 1077.3V1081.1M454.82 1077.3V1081.1M467.86 1077.3V1081.1M480.90 1077.3V1083.8M493.94 1077.3V1081.1M506.98 1077.3V1081.1M520.02 1077.3V1081.1M533.06 1077.3V1081.1M546.10 1077.3V1083.8M559.14 1077.3V1081.1M572.18 1077.3V1081.1M585.22 1077.3V1081.1M598.26 1077.3V1081.1M611.30 1077.3V1083.8M624.34 1077.3V1081.1M637.38 1077.3V1081.1M650.42 1077.3V1081.1M663.46 1077.3V1081.1M676.50 1077.3V1083.8" stroke="#444" stroke-width="1.3" fill="none"/>
<text x="23.2" y="1082.3" text-anchor="end" class="t">0</text>
<text x="23.2" y="1047.5" text-anchor="end" class="t">2</text>
<text x="23.2" y="1012.8" text-anchor="end" class="t">4</text>
<text x="23.2" y="978.0" text-anchor="end" class="t">6</text>
<text x="23.2" y="943.3" text-anchor="end" class="t">8</text>
<text x="23.2" y="908.5" text-anchor="end" class="t">10</text>
<text x="23.2" y="873.7" text-anchor="end" class="t">12</text>
<text x="23.2" y="839.0" text-anchor="end" class="t">14</text>
<text x="23.2" y="804.2" text-anchor="end" class="t">16</text>
<text x="89.7" y="1099.9" text-anchor="middle" class="t">1</text>
<text x="154.9" y="1099.9" text-anchor="middle" class="t">2</text>
<text x="220.1" y="1099.9" text-anchor="middle" class="t">3</text>
<text x="285.3" y="1099.9" text-anchor="middle" class="t">4</text>
<text x="350.5" y="1099.9" text-anchor="middle" class="t">5</text>
<text x="415.7" y="1099.9" text-anchor="middle" class="t">6</text>
<text x="480.9" y="1099.9" text-anchor="middle" class="t">7</text>
<text x="546.1" y="1099.9" text-anchor="middle" class="t">8</text>
<text x="611.3" y="1099.9" text-anchor="middle" class="t">9</text>
<text x="676.5" y="1099.9" text-anchor="middle" class="t">10</text>
<text x="313.2" y="1119.1" class="t" textLength="81.5" lengthAdjust="spacingAndGlyphs">Energy [keV]</text>
<text x="36.8" y="791.9" class="t" textLength="45" lengthAdjust="spacingAndGlyphs">cps/eV</text>
<text x="0" y="791.9" class="s">c)</text>
<text x="0.5" y="1121.3" class="s" textLength="83.2" lengthAdjust="spacingAndGlyphs">H-FNS100</text>
</svg>
</body></html>
